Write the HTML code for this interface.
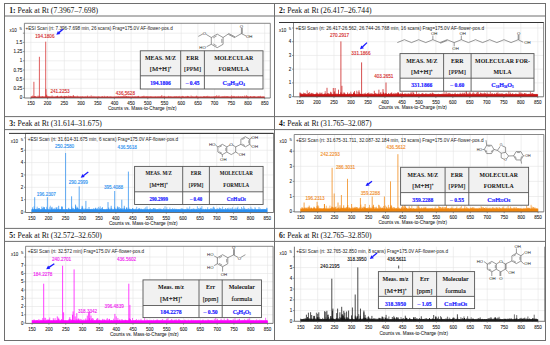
<!DOCTYPE html>
<html><head><meta charset="utf-8"><style>
html,body{margin:0;padding:0;background:#fff;}
body{width:550px;height:345px;overflow:hidden;}
svg{display:block;font-family:"Liberation Sans", sans-serif;}
</style></head><body>
<svg width="550" height="345" viewBox="0 0 550 345">
<rect width="550" height="345" fill="#fff"/>
<line x1="30.90" y1="23.30" x2="30.90" y2="98.00" stroke="#e4e4e4" stroke-width="0.6" />
<line x1="47.60" y1="23.30" x2="47.60" y2="98.00" stroke="#e4e4e4" stroke-width="0.6" />
<line x1="64.30" y1="23.30" x2="64.30" y2="98.00" stroke="#e4e4e4" stroke-width="0.6" />
<line x1="81.00" y1="23.30" x2="81.00" y2="98.00" stroke="#e4e4e4" stroke-width="0.6" />
<line x1="97.70" y1="23.30" x2="97.70" y2="98.00" stroke="#e4e4e4" stroke-width="0.6" />
<line x1="114.40" y1="23.30" x2="114.40" y2="98.00" stroke="#e4e4e4" stroke-width="0.6" />
<line x1="131.10" y1="23.30" x2="131.10" y2="98.00" stroke="#e4e4e4" stroke-width="0.6" />
<line x1="147.80" y1="23.30" x2="147.80" y2="98.00" stroke="#e4e4e4" stroke-width="0.6" />
<line x1="164.50" y1="23.30" x2="164.50" y2="98.00" stroke="#e4e4e4" stroke-width="0.6" />
<line x1="181.20" y1="23.30" x2="181.20" y2="98.00" stroke="#e4e4e4" stroke-width="0.6" />
<line x1="197.90" y1="23.30" x2="197.90" y2="98.00" stroke="#e4e4e4" stroke-width="0.6" />
<line x1="214.60" y1="23.30" x2="214.60" y2="98.00" stroke="#e4e4e4" stroke-width="0.6" />
<line x1="231.30" y1="23.30" x2="231.30" y2="98.00" stroke="#e4e4e4" stroke-width="0.6" />
<line x1="248.00" y1="23.30" x2="248.00" y2="98.00" stroke="#e4e4e4" stroke-width="0.6" />
<line x1="264.70" y1="23.30" x2="264.70" y2="98.00" stroke="#e4e4e4" stroke-width="0.6" />
<line x1="24.40" y1="88.40" x2="270.30" y2="88.40" stroke="#e4e4e4" stroke-width="0.6" />
<line x1="24.40" y1="79.20" x2="270.30" y2="79.20" stroke="#e4e4e4" stroke-width="0.6" />
<line x1="24.40" y1="70.00" x2="270.30" y2="70.00" stroke="#e4e4e4" stroke-width="0.6" />
<line x1="24.40" y1="60.80" x2="270.30" y2="60.80" stroke="#e4e4e4" stroke-width="0.6" />
<line x1="24.40" y1="51.60" x2="270.30" y2="51.60" stroke="#e4e4e4" stroke-width="0.6" />
<line x1="24.40" y1="42.40" x2="270.30" y2="42.40" stroke="#e4e4e4" stroke-width="0.6" />
<line x1="24.40" y1="33.20" x2="270.30" y2="33.20" stroke="#e4e4e4" stroke-width="0.6" />
<rect x="30.90" y="96.80" width="233.80" height="1.10" fill="#d42a2a"/>
<path d="M30.9 97.6v-0.8M31.3 97.6v-1.2M31.8 97.6v-1.0M32.2 97.6v-1.1M32.7 97.6v-2.1M33.2 97.6v-0.9M33.6 97.6v-0.8M34.1 97.6v-1.1M34.5 97.6v-1.5M35.0 97.6v-1.6M35.4 97.6v-1.5M35.9 97.6v-0.9M36.3 97.6v-0.8M36.8 97.6v-0.9M37.2 97.6v-0.9M37.7 97.6v-0.9M38.1 97.6v-2.1M38.6 97.6v-1.0M39.0 97.6v-0.9M39.5 97.6v-1.3M39.9 97.6v-0.9M40.4 97.6v-1.1M40.8 97.6v-0.9M41.3 97.6v-1.1M41.7 97.6v-1.0M42.2 97.6v-1.3M42.6 97.6v-1.4M43.1 97.6v-1.2M43.5 97.6v-0.8M44.0 97.6v-1.1M44.4 97.6v-0.9M44.9 97.6v-1.0M45.3 97.6v-1.0M45.8 97.6v-1.0M46.2 97.6v-1.1M46.7 97.6v-1.0M47.1 97.6v-0.8M47.6 97.6v-1.8M48.0 97.6v-1.0M48.5 97.6v-0.9M48.9 97.6v-1.6M49.4 97.6v-1.0M49.8 97.6v-1.0M50.3 97.6v-0.8M50.7 97.6v-1.2M51.2 97.6v-1.1M51.6 97.6v-1.0M52.1 97.6v-2.2M52.5 97.6v-1.0M53.0 97.6v-1.0M53.4 97.6v-0.9M53.9 97.6v-1.0M54.3 97.6v-1.0M54.8 97.6v-0.8M55.2 97.6v-0.8M55.7 97.6v-1.3M56.1 97.6v-1.2M56.6 97.6v-0.9M57.0 97.6v-1.1M57.5 97.6v-1.9M57.9 97.6v-0.9M58.4 97.6v-1.0M58.8 97.6v-0.8M59.3 97.6v-1.0M59.7 97.6v-0.9M60.2 97.6v-1.0M60.6 97.6v-1.5M61.1 97.6v-0.9M61.5 97.6v-0.8M62.0 97.6v-1.0M62.4 97.6v-1.0M62.9 97.6v-1.0M63.3 97.6v-1.1M63.8 97.6v-1.1M64.2 97.6v-1.0M64.7 97.6v-1.7M65.1 97.6v-1.0M65.6 97.6v-1.1M66.0 97.6v-1.0M66.5 97.6v-1.5M66.9 97.6v-1.7M67.4 97.6v-0.9M67.8 97.6v-0.9M68.3 97.6v-1.1M68.7 97.6v-2.2M69.2 97.6v-0.8M69.6 97.6v-1.6M70.1 97.6v-0.8M70.5 97.6v-1.7M71.0 97.6v-1.0M71.4 97.6v-0.9M71.9 97.6v-1.1M72.3 97.6v-0.9M72.8 97.6v-1.1M73.2 97.6v-1.0M73.7 97.6v-1.3M74.1 97.6v-0.8M74.6 97.6v-0.9M75.0 97.6v-1.2M75.5 97.6v-0.9M75.9 97.6v-1.3M76.4 97.6v-0.9M76.8 97.6v-1.1M77.3 97.6v-1.9M77.7 97.6v-1.1M78.2 97.6v-0.8M78.6 97.6v-0.9M79.1 97.6v-1.0M79.5 97.6v-0.9M80.0 97.6v-0.9M80.4 97.6v-1.0M80.9 97.6v-1.3M81.3 97.6v-1.0M81.8 97.6v-0.8M82.2 97.6v-1.3M82.7 97.6v-1.2M83.1 97.6v-1.0M83.6 97.6v-0.9M84.0 97.6v-0.9M84.5 97.6v-0.9M84.9 97.6v-1.0M85.4 97.6v-1.0M85.8 97.6v-1.2M86.3 97.6v-0.8M86.7 97.6v-0.8M87.2 97.6v-1.7M87.6 97.6v-1.9M88.1 97.6v-0.8M88.5 97.6v-0.9M89.0 97.6v-0.8M89.4 97.6v-0.9M89.9 97.6v-1.4M90.3 97.6v-0.9M90.8 97.6v-0.8M91.2 97.6v-2.3M91.7 97.6v-0.9M92.1 97.6v-0.9M92.6 97.6v-0.8M93.0 97.6v-1.7M93.5 97.6v-0.8M93.9 97.6v-1.0M94.4 97.6v-1.0M94.8 97.6v-1.1M95.3 97.6v-1.0M95.7 97.6v-0.9M96.2 97.6v-0.9M96.6 97.6v-0.9M97.1 97.6v-1.1M97.5 97.6v-0.9M98.0 97.6v-0.9M98.4 97.6v-1.3M98.9 97.6v-0.9M99.3 97.6v-1.0M99.8 97.6v-1.0M100.2 97.6v-0.8M100.7 97.6v-0.8M101.1 97.6v-0.8M101.6 97.6v-1.1M102.0 97.6v-1.2M102.5 97.6v-1.3M102.9 97.6v-1.0M103.4 97.6v-0.8M103.8 97.6v-0.8M104.3 97.6v-1.8M104.7 97.6v-0.9M105.2 97.6v-1.0M105.6 97.6v-0.9M106.1 97.6v-0.8M106.5 97.6v-0.8M107.0 97.6v-1.4M107.4 97.6v-1.4M107.9 97.6v-1.1M108.3 97.6v-0.8M108.8 97.6v-0.8M109.2 97.6v-1.1M109.7 97.6v-0.8M110.1 97.6v-1.2M110.6 97.6v-1.0M111.0 97.6v-1.0M111.5 97.6v-0.9M111.9 97.6v-0.8M112.4 97.6v-0.9M112.8 97.6v-0.8M113.3 97.6v-0.8M113.7 97.6v-0.9M114.2 97.6v-0.9M114.6 97.6v-1.0M115.1 97.6v-0.8M115.5 97.6v-1.0M116.0 97.6v-0.9M116.4 97.6v-1.1M116.9 97.6v-1.0M117.3 97.6v-0.9M117.8 97.6v-1.0M118.2 97.6v-1.4M118.7 97.6v-1.2M119.1 97.6v-1.0M119.6 97.6v-0.8M120.0 97.6v-1.3M120.5 97.6v-1.1M120.9 97.6v-0.9M121.4 97.6v-1.1M121.8 97.6v-1.3M122.3 97.6v-1.6M122.7 97.6v-0.8M123.2 97.6v-0.9M123.6 97.6v-2.2M124.1 97.6v-1.1M124.5 97.6v-1.0M125.0 97.6v-2.6M125.4 97.6v-1.2M125.9 97.6v-0.9M126.3 97.6v-1.6M126.8 97.6v-1.2M127.2 97.6v-1.1M127.7 97.6v-0.9M128.1 97.6v-1.7M128.6 97.6v-1.2M129.0 97.6v-0.8M129.5 97.6v-0.8M129.9 97.6v-1.6M130.4 97.6v-1.0M130.8 97.6v-0.8M131.3 97.6v-0.9M131.7 97.6v-0.8M132.2 97.6v-1.9M132.6 97.6v-1.0M133.1 97.6v-0.9M133.5 97.6v-1.0M134.0 97.6v-1.0M134.4 97.6v-1.1M134.9 97.6v-1.2M135.3 97.6v-1.0M135.8 97.6v-1.3M136.2 97.6v-1.0M136.7 97.6v-0.9M137.1 97.6v-1.2M137.6 97.6v-1.1M138.0 97.6v-1.6M138.5 97.6v-1.7M138.9 97.6v-1.0M139.4 97.6v-0.9M139.8 97.6v-0.9M140.3 97.6v-0.8M140.7 97.6v-0.9M141.2 97.6v-0.9M141.6 97.6v-1.1M142.1 97.6v-1.1M142.5 97.6v-1.3M143.0 97.6v-1.0M143.4 97.6v-1.2M143.9 97.6v-1.9M144.3 97.6v-1.2M144.8 97.6v-1.1M145.2 97.6v-0.9M145.7 97.6v-1.0M146.1 97.6v-1.5M146.6 97.6v-0.9M147.0 97.6v-1.3M147.5 97.6v-1.1M147.9 97.6v-1.1M148.4 97.6v-1.1M148.8 97.6v-1.1M149.3 97.6v-0.9M149.7 97.6v-1.1M150.2 97.6v-1.2M150.6 97.6v-1.2M151.1 97.6v-1.0M151.5 97.6v-0.9M151.9 97.6v-1.3M152.4 97.6v-0.8M152.8 97.6v-1.0M153.3 97.6v-0.8M153.7 97.6v-1.1M154.2 97.6v-0.9M154.6 97.6v-0.8M155.1 97.6v-1.5M155.5 97.6v-0.9M156.0 97.6v-1.0M156.4 97.6v-0.9M156.9 97.6v-0.9M157.3 97.6v-1.2M157.8 97.6v-0.9M158.2 97.6v-1.1M158.7 97.6v-1.1M159.1 97.6v-1.2M159.6 97.6v-1.0M160.0 97.6v-1.0M160.5 97.6v-1.2M160.9 97.6v-0.9M161.4 97.6v-1.6M161.8 97.6v-2.6M162.3 97.6v-1.0M162.7 97.6v-0.9M163.2 97.6v-1.2M163.6 97.6v-1.0M164.1 97.6v-1.7M164.5 97.6v-1.4M165.0 97.6v-1.0M165.4 97.6v-1.0M165.9 97.6v-0.8M166.3 97.6v-0.9M166.8 97.6v-0.9M167.2 97.6v-1.1M167.7 97.6v-0.8M168.1 97.6v-1.0M168.6 97.6v-1.7M169.0 97.6v-1.3M169.5 97.6v-0.8M169.9 97.6v-1.2M170.4 97.6v-1.0M170.8 97.6v-1.3M171.3 97.6v-1.1M171.7 97.6v-0.9M172.2 97.6v-0.9M172.6 97.6v-0.9M173.1 97.6v-1.0M173.5 97.6v-0.9M174.0 97.6v-0.9M174.4 97.6v-1.4M174.9 97.6v-0.8M175.3 97.6v-1.3M175.8 97.6v-0.9M176.2 97.6v-1.4M176.7 97.6v-1.3M177.1 97.6v-0.8M177.6 97.6v-0.8M178.0 97.6v-1.6M178.5 97.6v-0.8M178.9 97.6v-1.3M179.4 97.6v-0.8M179.8 97.6v-1.7M180.3 97.6v-0.8M180.7 97.6v-0.8M181.2 97.6v-1.1M181.6 97.6v-1.3M182.1 97.6v-0.9M182.5 97.6v-1.7M183.0 97.6v-0.9M183.4 97.6v-1.5M183.9 97.6v-0.9M184.3 97.6v-1.0M184.8 97.6v-0.8M185.2 97.6v-0.9M185.7 97.6v-1.3M186.1 97.6v-1.1M186.6 97.6v-1.1M187.0 97.6v-1.1M187.5 97.6v-1.7M187.9 97.6v-1.4M188.4 97.6v-1.4M188.8 97.6v-1.2M189.3 97.6v-0.9M189.7 97.6v-0.8M190.2 97.6v-0.9M190.6 97.6v-0.9M191.1 97.6v-2.1M191.5 97.6v-0.8M192.0 97.6v-1.4M192.4 97.6v-1.1M192.9 97.6v-0.8M193.3 97.6v-1.2M193.8 97.6v-0.9M194.2 97.6v-0.9M194.7 97.6v-0.9M195.1 97.6v-1.2M195.6 97.6v-1.0M196.0 97.6v-1.1M196.5 97.6v-1.9M196.9 97.6v-1.3M197.4 97.6v-1.0M197.8 97.6v-1.2M198.3 97.6v-0.8M198.7 97.6v-1.0M199.2 97.6v-0.9M199.6 97.6v-0.8M200.1 97.6v-1.1M200.5 97.6v-0.9M201.0 97.6v-0.9M201.4 97.6v-1.0M201.9 97.6v-0.8M202.3 97.6v-0.9M202.8 97.6v-0.8M203.2 97.6v-1.0M203.7 97.6v-1.5M204.1 97.6v-1.2M204.6 97.6v-1.4M205.0 97.6v-0.8M205.5 97.6v-1.0M205.9 97.6v-1.2M206.4 97.6v-1.1M206.8 97.6v-1.5M207.3 97.6v-0.9M207.7 97.6v-1.8M208.2 97.6v-0.8M208.6 97.6v-1.1M209.1 97.6v-1.4M209.5 97.6v-0.9M210.0 97.6v-0.8M210.4 97.6v-1.0M210.9 97.6v-0.8M211.3 97.6v-1.1M211.8 97.6v-0.8M212.2 97.6v-1.3M212.7 97.6v-0.8M213.1 97.6v-0.8M213.6 97.6v-1.3M214.0 97.6v-0.9M214.5 97.6v-1.0M214.9 97.6v-1.4M215.4 97.6v-1.1M215.8 97.6v-1.5M216.3 97.6v-1.1M216.7 97.6v-2.4M217.2 97.6v-0.9M217.6 97.6v-1.2M218.1 97.6v-1.0M218.5 97.6v-1.3M219.0 97.6v-2.3M219.4 97.6v-1.0M219.9 97.6v-0.9M220.3 97.6v-0.8M220.8 97.6v-0.9M221.2 97.6v-1.1M221.7 97.6v-1.0M222.1 97.6v-1.0M222.6 97.6v-1.0M223.0 97.6v-1.6M223.5 97.6v-1.0M223.9 97.6v-0.9M224.4 97.6v-1.0M224.8 97.6v-1.7M225.3 97.6v-1.1M225.7 97.6v-1.1M226.2 97.6v-0.9M226.6 97.6v-1.5M227.1 97.6v-1.1M227.5 97.6v-1.4M228.0 97.6v-0.9M228.4 97.6v-1.2M228.9 97.6v-1.1M229.3 97.6v-0.9M229.8 97.6v-0.8M230.2 97.6v-1.2M230.7 97.6v-0.9M231.1 97.6v-1.0M231.6 97.6v-2.3M232.0 97.6v-1.0M232.5 97.6v-1.1M232.9 97.6v-1.2M233.4 97.6v-1.1M233.8 97.6v-1.7M234.3 97.6v-0.8M234.7 97.6v-1.6M235.2 97.6v-0.8M235.6 97.6v-1.0M236.1 97.6v-0.9M236.5 97.6v-1.2M237.0 97.6v-1.0M237.4 97.6v-1.0M237.9 97.6v-0.9M238.3 97.6v-1.7M238.8 97.6v-1.0M239.2 97.6v-1.1M239.7 97.6v-0.9M240.1 97.6v-1.0M240.6 97.6v-1.3M241.0 97.6v-1.1M241.5 97.6v-0.9M241.9 97.6v-0.9M242.4 97.6v-1.4M242.8 97.6v-1.3M243.3 97.6v-0.9M243.7 97.6v-0.9M244.2 97.6v-0.9M244.6 97.6v-2.0M245.1 97.6v-1.0M245.5 97.6v-1.0M246.0 97.6v-1.2M246.4 97.6v-2.4M246.9 97.6v-1.1M247.3 97.6v-1.7M247.8 97.6v-1.0M248.2 97.6v-1.2M248.7 97.6v-0.9M249.1 97.6v-1.1M249.6 97.6v-0.8M250.0 97.6v-1.0M250.5 97.6v-1.6M250.9 97.6v-1.0M251.4 97.6v-0.9M251.8 97.6v-1.1M252.3 97.6v-0.9M252.7 97.6v-1.0M253.2 97.6v-1.0M253.6 97.6v-1.3M254.1 97.6v-1.5M254.5 97.6v-1.1M255.0 97.6v-1.2M255.4 97.6v-0.9M255.9 97.6v-0.9M256.3 97.6v-0.8M256.8 97.6v-0.8M257.2 97.6v-1.1M257.7 97.6v-1.1M258.1 97.6v-0.9M258.6 97.6v-1.3M259.0 97.6v-1.3M259.5 97.6v-1.0M259.9 97.6v-0.9M260.4 97.6v-1.8M260.8 97.6v-1.0M261.3 97.6v-0.8M261.7 97.6v-0.8M262.2 97.6v-1.2M262.6 97.6v-0.8M263.1 97.6v-1.1M263.5 97.6v-0.9M264.0 97.6v-1.0M264.4 97.6v-0.9" stroke="#d42a2a" stroke-width="0.6" fill="none"/>
<path d="M62.9 97.6V96.9M65.0 97.6V96.8M56.7 97.6V96.7M78.4 97.6V96.7M71.2 97.6V96.2M73.2 97.6V96.3M74.5 97.6V96.6M64.9 97.6V96.2M57.3 97.6V96.3M57.7 97.6V96.6M33.9 97.6V81.8M39.4 97.6V56.8M45.7 97.6V41.7M46.0 97.6V89.1M46.6 97.6V94.7M61.4 97.6V95.8M73.3 97.6V95.0M126.6 97.6V96.5" stroke="#d42a2a" stroke-width="0.75" fill="none"/>
<path d="M24.4 98.0V23.3H270.3V98.0" stroke="#6a6a6a" stroke-width="0.8" fill="none"/>
<line x1="24.40" y1="98.00" x2="270.30" y2="98.00" stroke="#555" stroke-width="0.8" />
<line x1="22.90" y1="97.60" x2="24.40" y2="97.60" stroke="#555" stroke-width="0.6" />
<text x="22.20" y="99.20" font-size="4.5" fill="#222"  text-anchor="end"   stroke="#222" stroke-width="0.08">0</text>
<line x1="22.90" y1="88.40" x2="24.40" y2="88.40" stroke="#555" stroke-width="0.6" />
<text x="22.20" y="90.00" font-size="4.5" fill="#222"  text-anchor="end"   stroke="#222" stroke-width="0.08">0.25</text>
<line x1="22.90" y1="79.20" x2="24.40" y2="79.20" stroke="#555" stroke-width="0.6" />
<text x="22.20" y="80.80" font-size="4.5" fill="#222"  text-anchor="end"   stroke="#222" stroke-width="0.08">0.5</text>
<line x1="22.90" y1="70.00" x2="24.40" y2="70.00" stroke="#555" stroke-width="0.6" />
<text x="22.20" y="71.60" font-size="4.5" fill="#222"  text-anchor="end"   stroke="#222" stroke-width="0.08">0.75</text>
<line x1="22.90" y1="60.80" x2="24.40" y2="60.80" stroke="#555" stroke-width="0.6" />
<text x="22.20" y="62.40" font-size="4.5" fill="#222"  text-anchor="end"   stroke="#222" stroke-width="0.08">1</text>
<line x1="22.90" y1="51.60" x2="24.40" y2="51.60" stroke="#555" stroke-width="0.6" />
<text x="22.20" y="53.20" font-size="4.5" fill="#222"  text-anchor="end"   stroke="#222" stroke-width="0.08">1.25</text>
<line x1="22.90" y1="42.40" x2="24.40" y2="42.40" stroke="#555" stroke-width="0.6" />
<text x="22.20" y="44.00" font-size="4.5" fill="#222"  text-anchor="end"   stroke="#222" stroke-width="0.08">1.5</text>
<line x1="22.90" y1="33.20" x2="24.40" y2="33.20" stroke="#555" stroke-width="0.6" />
<line x1="30.90" y1="98.00" x2="30.90" y2="99.30" stroke="#555" stroke-width="0.6" />
<text x="30.90" y="104.60" font-size="4.5" fill="#222"  text-anchor="middle"   stroke="#222" stroke-width="0.08">150</text>
<line x1="47.60" y1="98.00" x2="47.60" y2="99.30" stroke="#555" stroke-width="0.6" />
<text x="47.60" y="104.60" font-size="4.5" fill="#222"  text-anchor="middle"   stroke="#222" stroke-width="0.08">200</text>
<line x1="64.30" y1="98.00" x2="64.30" y2="99.30" stroke="#555" stroke-width="0.6" />
<text x="64.30" y="104.60" font-size="4.5" fill="#222"  text-anchor="middle"   stroke="#222" stroke-width="0.08">250</text>
<line x1="81.00" y1="98.00" x2="81.00" y2="99.30" stroke="#555" stroke-width="0.6" />
<text x="81.00" y="104.60" font-size="4.5" fill="#222"  text-anchor="middle"   stroke="#222" stroke-width="0.08">300</text>
<line x1="97.70" y1="98.00" x2="97.70" y2="99.30" stroke="#555" stroke-width="0.6" />
<text x="97.70" y="104.60" font-size="4.5" fill="#222"  text-anchor="middle"   stroke="#222" stroke-width="0.08">350</text>
<line x1="114.40" y1="98.00" x2="114.40" y2="99.30" stroke="#555" stroke-width="0.6" />
<text x="114.40" y="104.60" font-size="4.5" fill="#222"  text-anchor="middle"   stroke="#222" stroke-width="0.08">400</text>
<line x1="131.10" y1="98.00" x2="131.10" y2="99.30" stroke="#555" stroke-width="0.6" />
<text x="131.10" y="104.60" font-size="4.5" fill="#222"  text-anchor="middle"   stroke="#222" stroke-width="0.08">450</text>
<line x1="147.80" y1="98.00" x2="147.80" y2="99.30" stroke="#555" stroke-width="0.6" />
<text x="147.80" y="104.60" font-size="4.5" fill="#222"  text-anchor="middle"   stroke="#222" stroke-width="0.08">500</text>
<line x1="164.50" y1="98.00" x2="164.50" y2="99.30" stroke="#555" stroke-width="0.6" />
<text x="164.50" y="104.60" font-size="4.5" fill="#222"  text-anchor="middle"   stroke="#222" stroke-width="0.08">550</text>
<line x1="181.20" y1="98.00" x2="181.20" y2="99.30" stroke="#555" stroke-width="0.6" />
<text x="181.20" y="104.60" font-size="4.5" fill="#222"  text-anchor="middle"   stroke="#222" stroke-width="0.08">600</text>
<line x1="197.90" y1="98.00" x2="197.90" y2="99.30" stroke="#555" stroke-width="0.6" />
<text x="197.90" y="104.60" font-size="4.5" fill="#222"  text-anchor="middle"   stroke="#222" stroke-width="0.08">650</text>
<line x1="214.60" y1="98.00" x2="214.60" y2="99.30" stroke="#555" stroke-width="0.6" />
<text x="214.60" y="104.60" font-size="4.5" fill="#222"  text-anchor="middle"   stroke="#222" stroke-width="0.08">700</text>
<line x1="231.30" y1="98.00" x2="231.30" y2="99.30" stroke="#555" stroke-width="0.6" />
<text x="231.30" y="104.60" font-size="4.5" fill="#222"  text-anchor="middle"   stroke="#222" stroke-width="0.08">750</text>
<line x1="248.00" y1="98.00" x2="248.00" y2="99.30" stroke="#555" stroke-width="0.6" />
<text x="248.00" y="104.60" font-size="4.5" fill="#222"  text-anchor="middle"   stroke="#222" stroke-width="0.08">800</text>
<line x1="264.70" y1="98.00" x2="264.70" y2="99.30" stroke="#555" stroke-width="0.6" />
<text x="264.70" y="104.60" font-size="4.5" fill="#222"  text-anchor="middle"   stroke="#222" stroke-width="0.08">850</text>
<text x="108.00" y="109.60" font-size="4.5" fill="#1a1a1a"    textLength="68.50" lengthAdjust="spacingAndGlyphs" stroke="#1a1a1a" stroke-width="0.05">Counts vs. Mass-to-Charge (m/z)</text>
<text x="9.40" y="31.50" font-size="4.5" fill="#222"     stroke="#222" stroke-width="0.05">x10</text>
<text x="20.70" y="30.00" font-size="4.3" fill="#222"  text-anchor="middle"   stroke="#222" stroke-width="0.05">5</text>
<text x="25.60" y="30.10" font-size="4.7" fill="#1a1a1a"    textLength="147.10" lengthAdjust="spacingAndGlyphs" >+ESI Scan (rt: 7.396-7.698 min, 26 scans) Frag=175.0V AF-flower-pos.d</text>
<text x="35.30" y="37.60" font-size="4.6" fill="#d42a2a"     stroke="#d42a2a" stroke-width="0.12">194.1806</text>
<text x="50.40" y="93.40" font-size="4.6" fill="#d42a2a"     stroke="#d42a2a" stroke-width="0.12">241.2253</text>
<text x="115.80" y="95.20" font-size="4.6" fill="#d42a2a"     stroke="#d42a2a" stroke-width="0.12">436.5628</text>
<line x1="63.00" y1="29.30" x2="58.87" y2="32.63" stroke="#1a1aff" stroke-width="1.3" />
<path d="M56.30 34.70L57.91 30.96L60.30 33.92Z" fill="#1a1aff"/>
<rect x="140.3" y="50.8" width="122.70" height="25.00" fill="#f1f1f1"/>
<rect x="140.3" y="75.8" width="122.70" height="13.20" fill="#fff"/>
<rect x="140.3" y="50.8" width="122.70" height="38.20" fill="none" stroke="#555" stroke-width="0.9"/>
<line x1="140.30" y1="75.80" x2="263.00" y2="75.80" stroke="#555" stroke-width="0.9" />
<line x1="180.70" y1="50.80" x2="180.70" y2="89.00" stroke="#555" stroke-width="0.9" />
<line x1="204.40" y1="50.80" x2="204.40" y2="89.00" stroke="#555" stroke-width="0.9" />
<text x="160.50" y="60.24" font-size="6.37" fill="#111" font-family='"Liberation Serif", serif' text-anchor="middle" font-weight="bold" textLength="31.14" lengthAdjust="spacingAndGlyphs" >MEAS. M/Z</text>
<text x="160.50" y="71.34" font-size="6.37" fill="#111" font-family='"Liberation Serif", serif' text-anchor="middle"  textLength="21.70" lengthAdjust="spacingAndGlyphs" stroke="#111" stroke-width="0.15">[M+H]<tspan font-size="3" dy="-2">+</tspan></text>
<text x="192.55" y="60.24" font-size="6.37" fill="#111" font-family='"Liberation Serif", serif' text-anchor="middle" font-weight="bold" textLength="12.46" lengthAdjust="spacingAndGlyphs" >ERR</text>
<text x="192.55" y="71.34" font-size="6.37" fill="#111" font-family='"Liberation Serif", serif' text-anchor="middle"  textLength="17.00" lengthAdjust="spacingAndGlyphs" stroke="#111" stroke-width="0.15">[PPM]</text>
<text x="233.70" y="60.24" font-size="6.37" fill="#111" font-family='"Liberation Serif", serif' text-anchor="middle" font-weight="bold" textLength="39.01" lengthAdjust="spacingAndGlyphs" >MOLECULAR</text>
<text x="233.70" y="71.34" font-size="6.37" fill="#111" font-family='"Liberation Serif", serif' text-anchor="middle" font-weight="bold" textLength="30.48" lengthAdjust="spacingAndGlyphs" >FORMULA</text>
<text x="160.50" y="84.89" font-size="5.94" fill="#2222ff" font-family='"Liberation Serif", serif' text-anchor="middle" font-weight="bold" textLength="20.62" lengthAdjust="spacingAndGlyphs" stroke="#2222ff" stroke-width="0.18">194.1806</text>
<text x="192.55" y="84.89" font-size="5.94" fill="#2222ff" font-family='"Liberation Serif", serif' text-anchor="middle" font-weight="bold" textLength="13.75" lengthAdjust="spacingAndGlyphs" stroke="#2222ff" stroke-width="0.18">– 0.45</text>
<text x="233.70" y="84.89" font-size="6.49" fill="#2222ff" font-family='"Liberation Serif", serif' text-anchor="middle" font-weight="bold" textLength="22.20" lengthAdjust="spacingAndGlyphs" stroke="#2222ff" stroke-width="0.18"><tspan >C</tspan><tspan font-size="3.57" dy="0.65">10</tspan><tspan dy="-0.65">H</tspan><tspan font-size="3.57" dy="0.65">10</tspan><tspan dy="-0.65">O</tspan><tspan font-size="3.57" dy="0.65">4</tspan></text>
<line x1="300.00" y1="22.50" x2="300.00" y2="96.80" stroke="#e4e4e4" stroke-width="0.6" />
<line x1="316.99" y1="22.50" x2="316.99" y2="96.80" stroke="#e4e4e4" stroke-width="0.6" />
<line x1="333.97" y1="22.50" x2="333.97" y2="96.80" stroke="#e4e4e4" stroke-width="0.6" />
<line x1="350.96" y1="22.50" x2="350.96" y2="96.80" stroke="#e4e4e4" stroke-width="0.6" />
<line x1="367.94" y1="22.50" x2="367.94" y2="96.80" stroke="#e4e4e4" stroke-width="0.6" />
<line x1="384.93" y1="22.50" x2="384.93" y2="96.80" stroke="#e4e4e4" stroke-width="0.6" />
<line x1="401.91" y1="22.50" x2="401.91" y2="96.80" stroke="#e4e4e4" stroke-width="0.6" />
<line x1="418.90" y1="22.50" x2="418.90" y2="96.80" stroke="#e4e4e4" stroke-width="0.6" />
<line x1="435.89" y1="22.50" x2="435.89" y2="96.80" stroke="#e4e4e4" stroke-width="0.6" />
<line x1="452.87" y1="22.50" x2="452.87" y2="96.80" stroke="#e4e4e4" stroke-width="0.6" />
<line x1="469.86" y1="22.50" x2="469.86" y2="96.80" stroke="#e4e4e4" stroke-width="0.6" />
<line x1="486.84" y1="22.50" x2="486.84" y2="96.80" stroke="#e4e4e4" stroke-width="0.6" />
<line x1="503.83" y1="22.50" x2="503.83" y2="96.80" stroke="#e4e4e4" stroke-width="0.6" />
<line x1="520.81" y1="22.50" x2="520.81" y2="96.80" stroke="#e4e4e4" stroke-width="0.6" />
<line x1="537.80" y1="22.50" x2="537.80" y2="96.80" stroke="#e4e4e4" stroke-width="0.6" />
<line x1="293.50" y1="82.88" x2="543.60" y2="82.88" stroke="#e4e4e4" stroke-width="0.6" />
<line x1="293.50" y1="69.16" x2="543.60" y2="69.16" stroke="#e4e4e4" stroke-width="0.6" />
<line x1="293.50" y1="55.44" x2="543.60" y2="55.44" stroke="#e4e4e4" stroke-width="0.6" />
<line x1="293.50" y1="41.72" x2="543.60" y2="41.72" stroke="#e4e4e4" stroke-width="0.6" />
<line x1="293.50" y1="28.00" x2="543.60" y2="28.00" stroke="#e4e4e4" stroke-width="0.6" />
<rect x="300.00" y="94.40" width="237.80" height="2.50" fill="#c81414"/>
<path d="M300.0 96.6v-4.1M300.4 96.6v-2.2M300.9 96.6v-3.3M301.3 96.6v-2.9M301.8 96.6v-2.8M302.2 96.6v-2.7M302.7 96.6v-2.5M303.1 96.6v-3.0M303.6 96.6v-4.0M304.0 96.6v-2.6M304.5 96.6v-3.6M304.9 96.6v-2.4M305.4 96.6v-3.5M305.8 96.6v-2.7M306.3 96.6v-2.2M306.7 96.6v-2.3M307.2 96.6v-6.2M307.6 96.6v-2.3M308.1 96.6v-3.2M308.5 96.6v-3.6M309.0 96.6v-3.1M309.4 96.6v-4.6M309.9 96.6v-2.3M310.3 96.6v-3.0M310.8 96.6v-2.7M311.2 96.6v-3.8M311.7 96.6v-3.3M312.1 96.6v-3.5M312.6 96.6v-2.6M313.0 96.6v-3.7M313.5 96.6v-2.6M313.9 96.6v-2.4M314.4 96.6v-2.3M314.8 96.6v-2.4M315.3 96.6v-2.4M315.7 96.6v-2.9M316.2 96.6v-2.6M316.6 96.6v-2.7M317.1 96.6v-2.3M317.5 96.6v-3.8M318.0 96.6v-2.2M318.4 96.6v-3.0M318.9 96.6v-2.3M319.3 96.6v-2.2M319.8 96.6v-2.4M320.2 96.6v-3.5M320.7 96.6v-2.6M321.1 96.6v-2.4M321.6 96.6v-3.5M322.0 96.6v-4.1M322.5 96.6v-2.3M322.9 96.6v-2.3M323.4 96.6v-2.2M323.8 96.6v-2.2M324.3 96.6v-3.2M324.7 96.6v-2.3M325.2 96.6v-5.5M325.6 96.6v-3.3M326.1 96.6v-2.8M326.5 96.6v-2.3M327.0 96.6v-2.2M327.4 96.6v-3.1M327.9 96.6v-3.6M328.3 96.6v-3.4M328.8 96.6v-2.6M329.2 96.6v-2.8M329.7 96.6v-2.3M330.1 96.6v-3.4M330.6 96.6v-2.7M331.0 96.6v-2.6M331.5 96.6v-4.1M331.9 96.6v-2.8M332.4 96.6v-2.2M332.8 96.6v-2.4M333.3 96.6v-2.3M333.7 96.6v-2.8M334.2 96.6v-4.7M334.6 96.6v-5.3M335.1 96.6v-2.6M335.5 96.6v-2.7M336.0 96.6v-3.2M336.4 96.6v-2.4M336.9 96.6v-2.8M337.3 96.6v-2.5M337.8 96.6v-3.0M338.2 96.6v-2.3M338.7 96.6v-2.4M339.1 96.6v-2.6M339.6 96.6v-2.4M340.0 96.6v-2.3M340.5 96.6v-4.2M340.9 96.6v-2.5M341.4 96.6v-4.0M341.8 96.6v-2.6M342.3 96.6v-2.3M342.7 96.6v-2.5M343.2 96.6v-3.7M343.6 96.6v-2.4M344.1 96.6v-4.5M344.5 96.6v-2.3M345.0 96.6v-3.3M345.4 96.6v-2.2M345.9 96.6v-2.5M346.3 96.6v-2.3M346.8 96.6v-2.2M347.2 96.6v-2.5M347.7 96.6v-2.2M348.1 96.6v-2.3M348.6 96.6v-2.5M349.0 96.6v-3.0M349.5 96.6v-2.3M349.9 96.6v-2.3M350.4 96.6v-2.8M350.8 96.6v-4.9M351.3 96.6v-3.1M351.7 96.6v-2.6M352.2 96.6v-2.6M352.6 96.6v-2.4M353.1 96.6v-2.6M353.5 96.6v-3.2M354.0 96.6v-3.3M354.4 96.6v-2.4M354.9 96.6v-2.4M355.3 96.6v-2.9M355.8 96.6v-2.7M356.2 96.6v-2.3M356.7 96.6v-5.9M357.1 96.6v-2.5M357.6 96.6v-2.3M358.0 96.6v-4.9M358.5 96.6v-2.3M358.9 96.6v-2.4M359.4 96.6v-2.9M359.8 96.6v-2.6M360.3 96.6v-2.7M360.7 96.6v-3.0M361.2 96.6v-2.6M361.6 96.6v-2.4M362.1 96.6v-2.6M362.5 96.6v-2.5M363.0 96.6v-3.1M363.4 96.6v-2.3M363.9 96.6v-2.2M364.3 96.6v-3.5M364.8 96.6v-2.6M365.2 96.6v-2.5M365.7 96.6v-3.9M366.1 96.6v-2.6M366.6 96.6v-2.4M367.0 96.6v-2.8M367.5 96.6v-3.3M367.9 96.6v-2.8M368.4 96.6v-2.9M368.8 96.6v-4.2M369.3 96.6v-2.9M369.7 96.6v-2.8M370.2 96.6v-2.2M370.6 96.6v-3.0M371.1 96.6v-3.6M371.5 96.6v-2.3M372.0 96.6v-3.1M372.4 96.6v-3.0M372.9 96.6v-2.3M373.3 96.6v-2.3M373.8 96.6v-2.5M374.2 96.6v-2.7M374.7 96.6v-2.3M375.1 96.6v-3.7M375.6 96.6v-3.3M376.0 96.6v-3.0M376.5 96.6v-2.9M376.9 96.6v-2.4M377.4 96.6v-2.2M377.8 96.6v-3.0M378.3 96.6v-3.0M378.7 96.6v-2.5M379.2 96.6v-3.1M379.6 96.6v-2.3M380.1 96.6v-2.5M380.5 96.6v-4.1M381.0 96.6v-4.2M381.4 96.6v-2.7M381.9 96.6v-2.6M382.3 96.6v-2.4M382.8 96.6v-2.6M383.2 96.6v-3.7M383.7 96.6v-3.2M384.1 96.6v-2.8M384.6 96.6v-2.8M385.0 96.6v-3.3M385.5 96.6v-2.8M385.9 96.6v-2.7M386.4 96.6v-3.2M386.8 96.6v-2.4M387.3 96.6v-2.6M387.7 96.6v-2.4M388.2 96.6v-2.3M388.6 96.6v-2.5M389.1 96.6v-2.4M389.5 96.6v-2.6M390.0 96.6v-2.6M390.4 96.6v-3.5M390.9 96.6v-2.6M391.3 96.6v-3.8M391.8 96.6v-2.3M392.2 96.6v-2.3M392.7 96.6v-2.5M393.1 96.6v-3.2M393.6 96.6v-3.2M394.0 96.6v-2.5M394.5 96.6v-2.5M394.9 96.6v-3.8M395.4 96.6v-2.9M395.8 96.6v-3.0M396.3 96.6v-3.4M396.7 96.6v-3.0M397.2 96.6v-2.4M397.6 96.6v-2.9M398.1 96.6v-2.5M398.5 96.6v-4.1M399.0 96.6v-2.6M399.4 96.6v-2.3M399.9 96.6v-3.3M400.3 96.6v-2.5M400.8 96.6v-3.5M401.2 96.6v-2.5M401.7 96.6v-2.4M402.1 96.6v-2.5M402.6 96.6v-2.8M403.0 96.6v-2.4M403.5 96.6v-2.3M403.9 96.6v-2.3M404.4 96.6v-2.5M404.8 96.6v-2.5M405.3 96.6v-2.4M405.7 96.6v-2.4M406.2 96.6v-3.1M406.6 96.6v-2.3M407.1 96.6v-2.5M407.5 96.6v-2.3M408.0 96.6v-3.3M408.4 96.6v-3.1M408.9 96.6v-2.5M409.3 96.6v-2.5M409.8 96.6v-2.8M410.2 96.6v-3.3M410.7 96.6v-2.7M411.1 96.6v-4.7M411.6 96.6v-3.3M412.0 96.6v-2.5M412.5 96.6v-2.2M412.9 96.6v-5.4M413.4 96.6v-3.9M413.8 96.6v-3.7M414.3 96.6v-2.4M414.7 96.6v-2.2M415.2 96.6v-2.5M415.6 96.6v-2.3M416.1 96.6v-2.3M416.5 96.6v-5.5M417.0 96.6v-2.4M417.4 96.6v-2.7M417.9 96.6v-2.6M418.3 96.6v-2.3M418.8 96.6v-3.2M419.2 96.6v-2.9M419.7 96.6v-2.3M420.1 96.6v-2.3M420.6 96.6v-2.3M421.0 96.6v-2.2M421.5 96.6v-2.5M421.9 96.6v-3.4M422.4 96.6v-3.0M422.8 96.6v-3.7M423.3 96.6v-2.3M423.7 96.6v-2.8M424.2 96.6v-2.5M424.6 96.6v-2.5M425.1 96.6v-2.5M425.5 96.6v-3.2M426.0 96.6v-2.6M426.4 96.6v-3.1M426.9 96.6v-2.4M427.3 96.6v-2.9M427.8 96.6v-2.2M428.2 96.6v-2.3M428.7 96.6v-2.7M429.1 96.6v-2.8M429.6 96.6v-2.9M430.0 96.6v-2.2M430.5 96.6v-3.2M430.9 96.6v-3.3M431.4 96.6v-2.3M431.8 96.6v-2.7M432.3 96.6v-4.1M432.7 96.6v-3.6M433.2 96.6v-2.4M433.6 96.6v-3.2M434.1 96.6v-2.4M434.5 96.6v-2.7M435.0 96.6v-2.5M435.4 96.6v-2.6M435.9 96.6v-2.3M436.3 96.6v-2.4M436.8 96.6v-2.3M437.2 96.6v-2.7M437.7 96.6v-2.6M438.1 96.6v-2.3M438.6 96.6v-2.9M439.0 96.6v-2.6M439.5 96.6v-2.5M439.9 96.6v-2.4M440.4 96.6v-2.6M440.8 96.6v-2.6M441.3 96.6v-2.4M441.7 96.6v-2.8M442.2 96.6v-2.4M442.6 96.6v-2.8M443.1 96.6v-2.9M443.5 96.6v-2.3M444.0 96.6v-5.0M444.4 96.6v-2.3M444.9 96.6v-2.4M445.3 96.6v-3.0M445.8 96.6v-2.5M446.2 96.6v-5.0M446.7 96.6v-2.3M447.1 96.6v-2.8M447.6 96.6v-2.2M448.0 96.6v-3.7M448.5 96.6v-2.6M448.9 96.6v-3.7M449.4 96.6v-2.4M449.8 96.6v-3.8M450.3 96.6v-2.9M450.7 96.6v-2.7M451.2 96.6v-2.6M451.6 96.6v-2.3M452.1 96.6v-2.9M452.5 96.6v-2.8M453.0 96.6v-2.5M453.4 96.6v-2.5M453.9 96.6v-2.5M454.3 96.6v-2.4M454.8 96.6v-3.2M455.2 96.6v-3.9M455.7 96.6v-2.2M456.1 96.6v-2.5M456.6 96.6v-2.3M457.0 96.6v-2.6M457.5 96.6v-2.7M457.9 96.6v-3.0M458.4 96.6v-2.2M458.8 96.6v-2.3M459.3 96.6v-2.4M459.7 96.6v-2.8M460.2 96.6v-3.9M460.6 96.6v-2.7M461.1 96.6v-2.9M461.5 96.6v-2.3M462.0 96.6v-2.8M462.4 96.6v-3.9M462.9 96.6v-2.4M463.3 96.6v-2.8M463.8 96.6v-3.1M464.2 96.6v-4.0M464.7 96.6v-3.2M465.1 96.6v-2.6M465.6 96.6v-2.2M466.0 96.6v-5.3M466.5 96.6v-6.5M466.9 96.6v-3.4M467.4 96.6v-2.7M467.8 96.6v-2.5M468.3 96.6v-3.1M468.7 96.6v-2.2M469.2 96.6v-4.2M469.6 96.6v-2.9M470.1 96.6v-4.4M470.5 96.6v-3.1M471.0 96.6v-2.5M471.4 96.6v-2.3M471.9 96.6v-2.2M472.3 96.6v-3.5M472.8 96.6v-2.6M473.2 96.6v-4.4M473.7 96.6v-2.7M474.1 96.6v-3.7M474.6 96.6v-2.5M475.0 96.6v-2.5M475.5 96.6v-2.7M475.9 96.6v-2.5M476.4 96.6v-4.0M476.8 96.6v-2.8M477.3 96.6v-2.7M477.7 96.6v-4.6M478.2 96.6v-4.5M478.6 96.6v-2.7M479.1 96.6v-2.6M479.5 96.6v-2.5M480.0 96.6v-2.3M480.4 96.6v-4.0M480.9 96.6v-3.7M481.3 96.6v-3.3M481.8 96.6v-2.7M482.2 96.6v-2.9M482.7 96.6v-2.9M483.1 96.6v-3.3M483.6 96.6v-2.9M484.0 96.6v-2.7M484.5 96.6v-4.0M484.9 96.6v-2.5M485.4 96.6v-3.6M485.8 96.6v-2.8M486.3 96.6v-2.3M486.7 96.6v-2.8M487.2 96.6v-4.2M487.6 96.6v-2.5M488.1 96.6v-3.1M488.5 96.6v-2.5M489.0 96.6v-2.5M489.4 96.6v-2.9M489.9 96.6v-2.5M490.3 96.6v-4.9M490.8 96.6v-2.5M491.2 96.6v-2.7M491.7 96.6v-2.8M492.1 96.6v-3.6M492.6 96.6v-2.9M493.0 96.6v-2.2M493.5 96.6v-2.3M493.9 96.6v-2.5M494.4 96.6v-3.0M494.8 96.6v-3.3M495.3 96.6v-2.3M495.7 96.6v-2.5M496.2 96.6v-2.6M496.6 96.6v-3.7M497.1 96.6v-3.9M497.5 96.6v-2.6M498.0 96.6v-4.3M498.4 96.6v-2.8M498.9 96.6v-2.4M499.3 96.6v-2.3M499.8 96.6v-3.3M500.2 96.6v-3.0M500.7 96.6v-2.4M501.1 96.6v-2.7M501.6 96.6v-3.3M502.0 96.6v-2.3M502.5 96.6v-3.2M502.9 96.6v-2.4M503.4 96.6v-2.4M503.8 96.6v-2.7M504.3 96.6v-2.3M504.7 96.6v-2.6M505.2 96.6v-2.3M505.6 96.6v-2.9M506.1 96.6v-3.3M506.5 96.6v-3.1M507.0 96.6v-2.3M507.4 96.6v-2.2M507.9 96.6v-3.1M508.3 96.6v-2.3M508.8 96.6v-5.9M509.2 96.6v-2.4M509.7 96.6v-2.6M510.1 96.6v-4.1M510.6 96.6v-3.2M511.0 96.6v-2.6M511.5 96.6v-2.2M511.9 96.6v-2.6M512.4 96.6v-3.2M512.8 96.6v-3.2M513.3 96.6v-2.2M513.7 96.6v-2.3M514.2 96.6v-2.3M514.6 96.6v-2.6M515.1 96.6v-2.2M515.5 96.6v-3.1M516.0 96.6v-2.4M516.4 96.6v-2.8M516.9 96.6v-2.8M517.3 96.6v-2.3M517.8 96.6v-2.2M518.2 96.6v-2.3M518.7 96.6v-2.6M519.1 96.6v-4.4M519.6 96.6v-2.8M520.0 96.6v-4.1M520.5 96.6v-2.3M520.9 96.6v-4.1M521.4 96.6v-3.0M521.8 96.6v-3.0M522.3 96.6v-3.0M522.7 96.6v-2.9M523.2 96.6v-2.4M523.6 96.6v-2.8M524.1 96.6v-2.3M524.5 96.6v-3.6M525.0 96.6v-3.3M525.4 96.6v-2.4M525.9 96.6v-3.5M526.3 96.6v-2.3M526.8 96.6v-2.7M527.2 96.6v-2.4M527.7 96.6v-2.3M528.1 96.6v-2.5M528.6 96.6v-2.8M529.0 96.6v-2.4M529.5 96.6v-2.8M529.9 96.6v-2.3M530.4 96.6v-4.9M530.8 96.6v-2.5M531.3 96.6v-3.1M531.7 96.6v-2.4M532.2 96.6v-3.6M532.6 96.6v-3.3M533.1 96.6v-2.3M533.5 96.6v-2.8M534.0 96.6v-2.7M534.4 96.6v-2.6M534.9 96.6v-2.6M535.3 96.6v-2.3M535.8 96.6v-2.5M536.2 96.6v-2.7M536.7 96.6v-2.4M537.1 96.6v-2.4M537.6 96.6v-2.3" stroke="#c81414" stroke-width="0.6" fill="none"/>
<path d="M398.2 96.6V92.7M318.1 96.6V95.2M311.0 96.6V94.8M344.9 96.6V95.4M344.5 96.6V93.3M387.8 96.6V95.1M300.2 96.6V92.8M340.0 96.6V94.8M316.3 96.6V94.9M328.0 96.6V94.9M324.5 96.6V94.1M385.6 96.6V94.8M343.8 96.6V94.2M388.7 96.6V93.0M403.8 96.6V95.1M384.8 96.6V94.8M360.7 96.6V94.0M360.5 96.6V94.7M307.6 96.6V95.4M397.7 96.6V92.4M348.4 96.6V95.3M388.3 96.6V94.1M349.5 96.6V93.6M316.6 96.6V95.0M385.8 96.6V93.1M403.6 96.6V94.4M402.3 96.6V92.4M353.5 96.6V92.4M317.1 96.6V95.3M385.7 96.6V95.2M354.3 96.6V93.1M371.5 96.6V95.0M382.9 96.6V95.4M359.2 96.6V92.3M357.5 96.6V94.8M405.0 96.6V93.2M383.4 96.6V92.3M398.5 96.6V93.8M386.8 96.6V94.1M326.9 96.6V94.9M440.0 96.6V96.0M487.4 96.6V95.5M525.9 96.6V96.0M509.1 96.6V95.8M448.2 96.6V95.7M532.1 96.6V95.0M467.2 96.6V95.8M411.6 96.6V95.6M534.4 96.6V95.4M494.8 96.6V94.5M411.6 96.6V95.6M460.7 96.6V95.8M456.1 96.6V94.9M423.2 96.6V94.9M444.6 96.6V95.0M428.3 96.6V94.7M460.9 96.6V94.6M533.5 96.6V95.2M408.1 96.6V95.6M534.6 96.6V95.0M505.8 96.6V95.4M529.9 96.6V94.4M486.5 96.6V95.1M419.0 96.6V96.0M432.5 96.6V94.8M517.6 96.6V94.7M522.8 96.6V96.0M409.1 96.6V95.7M407.7 96.6V95.2M528.5 96.6V94.4M340.9 96.6V41.4M361.6 96.6V62.4M386.0 96.6V82.5M327.0 96.6V87.8M333.3 96.6V88.0M335.1 96.6V88.0M338.5 96.6V89.7M341.9 96.6V85.8M354.5 96.6V91.1M359.0 96.6V90.3M374.3 96.6V90.8M378.9 96.6V89.7M383.0 96.6V89.1M319.9 96.6V92.5M316.7 96.6V92.5M330.6 96.6V91.8M347.6 96.6V92.5M367.9 96.6V93.2M391.7 96.6V92.5M401.9 96.6V93.9" stroke="#c81414" stroke-width="0.75" fill="none"/>
<path d="M293.5 96.8V22.5H543.6V96.8" stroke="#6a6a6a" stroke-width="0.8" fill="none"/>
<line x1="279.00" y1="22.50" x2="543.60" y2="22.50" stroke="#333" stroke-width="1" />
<line x1="293.50" y1="96.80" x2="543.60" y2="96.80" stroke="#555" stroke-width="0.8" />
<line x1="292.00" y1="96.60" x2="293.50" y2="96.60" stroke="#555" stroke-width="0.6" />
<text x="291.30" y="98.20" font-size="4.5" fill="#222"  text-anchor="end"   stroke="#222" stroke-width="0.08">0</text>
<line x1="292.00" y1="82.88" x2="293.50" y2="82.88" stroke="#555" stroke-width="0.6" />
<text x="291.30" y="84.48" font-size="4.5" fill="#222"  text-anchor="end"   stroke="#222" stroke-width="0.08">1</text>
<line x1="292.00" y1="69.16" x2="293.50" y2="69.16" stroke="#555" stroke-width="0.6" />
<text x="291.30" y="70.76" font-size="4.5" fill="#222"  text-anchor="end"   stroke="#222" stroke-width="0.08">2</text>
<line x1="292.00" y1="55.44" x2="293.50" y2="55.44" stroke="#555" stroke-width="0.6" />
<text x="291.30" y="57.04" font-size="4.5" fill="#222"  text-anchor="end"   stroke="#222" stroke-width="0.08">3</text>
<line x1="292.00" y1="41.72" x2="293.50" y2="41.72" stroke="#555" stroke-width="0.6" />
<text x="291.30" y="43.32" font-size="4.5" fill="#222"  text-anchor="end"   stroke="#222" stroke-width="0.08">4</text>
<line x1="292.00" y1="28.00" x2="293.50" y2="28.00" stroke="#555" stroke-width="0.6" />
<line x1="300.00" y1="96.80" x2="300.00" y2="98.10" stroke="#555" stroke-width="0.6" />
<text x="300.00" y="104.20" font-size="4.5" fill="#222"  text-anchor="middle"   stroke="#222" stroke-width="0.08">150</text>
<line x1="316.99" y1="96.80" x2="316.99" y2="98.10" stroke="#555" stroke-width="0.6" />
<text x="316.99" y="104.20" font-size="4.5" fill="#222"  text-anchor="middle"   stroke="#222" stroke-width="0.08">200</text>
<line x1="333.97" y1="96.80" x2="333.97" y2="98.10" stroke="#555" stroke-width="0.6" />
<text x="333.97" y="104.20" font-size="4.5" fill="#222"  text-anchor="middle"   stroke="#222" stroke-width="0.08">250</text>
<line x1="350.96" y1="96.80" x2="350.96" y2="98.10" stroke="#555" stroke-width="0.6" />
<text x="350.96" y="104.20" font-size="4.5" fill="#222"  text-anchor="middle"   stroke="#222" stroke-width="0.08">300</text>
<line x1="367.94" y1="96.80" x2="367.94" y2="98.10" stroke="#555" stroke-width="0.6" />
<text x="367.94" y="104.20" font-size="4.5" fill="#222"  text-anchor="middle"   stroke="#222" stroke-width="0.08">350</text>
<line x1="384.93" y1="96.80" x2="384.93" y2="98.10" stroke="#555" stroke-width="0.6" />
<text x="384.93" y="104.20" font-size="4.5" fill="#222"  text-anchor="middle"   stroke="#222" stroke-width="0.08">400</text>
<line x1="401.91" y1="96.80" x2="401.91" y2="98.10" stroke="#555" stroke-width="0.6" />
<text x="401.91" y="104.20" font-size="4.5" fill="#222"  text-anchor="middle"   stroke="#222" stroke-width="0.08">450</text>
<line x1="418.90" y1="96.80" x2="418.90" y2="98.10" stroke="#555" stroke-width="0.6" />
<text x="418.90" y="104.20" font-size="4.5" fill="#222"  text-anchor="middle"   stroke="#222" stroke-width="0.08">500</text>
<line x1="435.89" y1="96.80" x2="435.89" y2="98.10" stroke="#555" stroke-width="0.6" />
<text x="435.89" y="104.20" font-size="4.5" fill="#222"  text-anchor="middle"   stroke="#222" stroke-width="0.08">550</text>
<line x1="452.87" y1="96.80" x2="452.87" y2="98.10" stroke="#555" stroke-width="0.6" />
<text x="452.87" y="104.20" font-size="4.5" fill="#222"  text-anchor="middle"   stroke="#222" stroke-width="0.08">600</text>
<line x1="469.86" y1="96.80" x2="469.86" y2="98.10" stroke="#555" stroke-width="0.6" />
<text x="469.86" y="104.20" font-size="4.5" fill="#222"  text-anchor="middle"   stroke="#222" stroke-width="0.08">650</text>
<line x1="486.84" y1="96.80" x2="486.84" y2="98.10" stroke="#555" stroke-width="0.6" />
<text x="486.84" y="104.20" font-size="4.5" fill="#222"  text-anchor="middle"   stroke="#222" stroke-width="0.08">700</text>
<line x1="503.83" y1="96.80" x2="503.83" y2="98.10" stroke="#555" stroke-width="0.6" />
<text x="503.83" y="104.20" font-size="4.5" fill="#222"  text-anchor="middle"   stroke="#222" stroke-width="0.08">750</text>
<line x1="520.81" y1="96.80" x2="520.81" y2="98.10" stroke="#555" stroke-width="0.6" />
<text x="520.81" y="104.20" font-size="4.5" fill="#222"  text-anchor="middle"   stroke="#222" stroke-width="0.08">800</text>
<line x1="537.80" y1="96.80" x2="537.80" y2="98.10" stroke="#555" stroke-width="0.6" />
<text x="537.80" y="104.20" font-size="4.5" fill="#222"  text-anchor="middle"   stroke="#222" stroke-width="0.08">850</text>
<text x="378.40" y="109.30" font-size="4.5" fill="#1a1a1a"    textLength="68.50" lengthAdjust="spacingAndGlyphs" stroke="#1a1a1a" stroke-width="0.05">Counts vs. Mass-to-Charge (m/z)</text>
<text x="279.00" y="31.50" font-size="4.5" fill="#222"     stroke="#222" stroke-width="0.05">x10</text>
<text x="290.00" y="29.90" font-size="4.3" fill="#222"  text-anchor="middle"   stroke="#222" stroke-width="0.05">5</text>
<text x="295.50" y="30.10" font-size="4.7" fill="#1a1a1a"    textLength="188.50" lengthAdjust="spacingAndGlyphs" >+ESI Scan (rt: 26.417-26.562, 26.744-26.768 min, 16 scans) Frag=175.0V AF-flower-pos.d</text>
<text x="330.00" y="36.70" font-size="4.6" fill="#d42a2a"     stroke="#d42a2a" stroke-width="0.12">270.2917</text>
<text x="351.30" y="54.90" font-size="4.6" fill="#d42a2a"     stroke="#d42a2a" stroke-width="0.12">331.1866</text>
<text x="374.20" y="77.90" font-size="4.6" fill="#d42a2a"     stroke="#d42a2a" stroke-width="0.12">403.2651</text>
<line x1="367.00" y1="42.60" x2="362.38" y2="47.02" stroke="#1a1aff" stroke-width="1.3" />
<path d="M360.00 49.30L361.29 45.44L363.91 48.18Z" fill="#1a1aff"/>
<rect x="400" y="53.6" width="134.00" height="24.60" fill="#f1f1f1"/>
<rect x="400" y="78.2" width="134.00" height="13.00" fill="#fff"/>
<rect x="400" y="53.6" width="134.00" height="37.60" fill="none" stroke="#555" stroke-width="0.9"/>
<line x1="400.00" y1="78.20" x2="534.00" y2="78.20" stroke="#555" stroke-width="0.9" />
<line x1="443.60" y1="53.60" x2="443.60" y2="91.20" stroke="#555" stroke-width="0.9" />
<line x1="471.10" y1="53.60" x2="471.10" y2="91.20" stroke="#555" stroke-width="0.9" />
<text x="421.80" y="62.54" font-size="6.37" fill="#111" font-family='"Liberation Serif", serif' text-anchor="middle" font-weight="bold" textLength="31.14" lengthAdjust="spacingAndGlyphs" >MEAS. M/Z</text>
<text x="421.80" y="73.64" font-size="6.37" fill="#111" font-family='"Liberation Serif", serif' text-anchor="middle"  textLength="21.70" lengthAdjust="spacingAndGlyphs" stroke="#111" stroke-width="0.15">[M+H]<tspan font-size="3" dy="-2">+</tspan></text>
<text x="457.35" y="62.54" font-size="6.37" fill="#111" font-family='"Liberation Serif", serif' text-anchor="middle" font-weight="bold" textLength="12.46" lengthAdjust="spacingAndGlyphs" >ERR</text>
<text x="457.35" y="73.64" font-size="6.37" fill="#111" font-family='"Liberation Serif", serif' text-anchor="middle"  textLength="17.00" lengthAdjust="spacingAndGlyphs" stroke="#111" stroke-width="0.15">[PPM]</text>
<text x="502.55" y="62.54" font-size="6.37" fill="#111" font-family='"Liberation Serif", serif' text-anchor="middle" font-weight="bold" textLength="54.90" lengthAdjust="spacingAndGlyphs" >MOLECULAR FOR-</text>
<text x="502.55" y="73.64" font-size="6.37" fill="#111" font-family='"Liberation Serif", serif' text-anchor="middle" font-weight="bold" textLength="18.03" lengthAdjust="spacingAndGlyphs" >MULA</text>
<text x="421.80" y="87.23" font-size="6.05" fill="#2222ff" font-family='"Liberation Serif", serif' text-anchor="middle" font-weight="bold" textLength="21.00" lengthAdjust="spacingAndGlyphs" stroke="#2222ff" stroke-width="0.18">331.1866</text>
<text x="457.35" y="87.23" font-size="6.05" fill="#2222ff" font-family='"Liberation Serif", serif' text-anchor="middle" font-weight="bold" textLength="14.00" lengthAdjust="spacingAndGlyphs" stroke="#2222ff" stroke-width="0.18">– 0.60</text>
<text x="502.55" y="87.23" font-size="6.61" fill="#2222ff" font-family='"Liberation Serif", serif' text-anchor="middle" font-weight="bold" textLength="22.40" lengthAdjust="spacingAndGlyphs" stroke="#2222ff" stroke-width="0.18"><tspan >C</tspan><tspan font-size="3.63" dy="0.66">18</tspan><tspan dy="-0.66">H</tspan><tspan font-size="3.63" dy="0.66">34</tspan><tspan dy="-0.66">O</tspan><tspan font-size="3.63" dy="0.66">5</tspan></text>
<line x1="31.80" y1="133.40" x2="31.80" y2="212.50" stroke="#e4e4e4" stroke-width="0.6" />
<line x1="48.61" y1="133.40" x2="48.61" y2="212.50" stroke="#e4e4e4" stroke-width="0.6" />
<line x1="65.43" y1="133.40" x2="65.43" y2="212.50" stroke="#e4e4e4" stroke-width="0.6" />
<line x1="82.24" y1="133.40" x2="82.24" y2="212.50" stroke="#e4e4e4" stroke-width="0.6" />
<line x1="99.06" y1="133.40" x2="99.06" y2="212.50" stroke="#e4e4e4" stroke-width="0.6" />
<line x1="115.87" y1="133.40" x2="115.87" y2="212.50" stroke="#e4e4e4" stroke-width="0.6" />
<line x1="132.69" y1="133.40" x2="132.69" y2="212.50" stroke="#e4e4e4" stroke-width="0.6" />
<line x1="149.50" y1="133.40" x2="149.50" y2="212.50" stroke="#e4e4e4" stroke-width="0.6" />
<line x1="166.31" y1="133.40" x2="166.31" y2="212.50" stroke="#e4e4e4" stroke-width="0.6" />
<line x1="183.13" y1="133.40" x2="183.13" y2="212.50" stroke="#e4e4e4" stroke-width="0.6" />
<line x1="199.94" y1="133.40" x2="199.94" y2="212.50" stroke="#e4e4e4" stroke-width="0.6" />
<line x1="216.76" y1="133.40" x2="216.76" y2="212.50" stroke="#e4e4e4" stroke-width="0.6" />
<line x1="233.57" y1="133.40" x2="233.57" y2="212.50" stroke="#e4e4e4" stroke-width="0.6" />
<line x1="250.39" y1="133.40" x2="250.39" y2="212.50" stroke="#e4e4e4" stroke-width="0.6" />
<line x1="267.20" y1="133.40" x2="267.20" y2="212.50" stroke="#e4e4e4" stroke-width="0.6" />
<line x1="25.50" y1="199.65" x2="273.50" y2="199.65" stroke="#e4e4e4" stroke-width="0.6" />
<line x1="25.50" y1="187.30" x2="273.50" y2="187.30" stroke="#e4e4e4" stroke-width="0.6" />
<line x1="25.50" y1="174.95" x2="273.50" y2="174.95" stroke="#e4e4e4" stroke-width="0.6" />
<line x1="25.50" y1="162.60" x2="273.50" y2="162.60" stroke="#e4e4e4" stroke-width="0.6" />
<line x1="25.50" y1="150.25" x2="273.50" y2="150.25" stroke="#e4e4e4" stroke-width="0.6" />
<line x1="25.50" y1="137.90" x2="273.50" y2="137.90" stroke="#e4e4e4" stroke-width="0.6" />
<rect x="31.80" y="209.60" width="235.40" height="2.70" fill="#2a8ff0"/>
<path d="M31.8 212.0v-2.6M32.2 212.0v-2.7M32.7 212.0v-3.0M33.2 212.0v-2.4M33.6 212.0v-2.6M34.1 212.0v-5.7M34.5 212.0v-3.5M35.0 212.0v-3.0M35.4 212.0v-3.0M35.9 212.0v-2.8M36.3 212.0v-3.1M36.8 212.0v-3.3M37.2 212.0v-5.3M37.7 212.0v-2.8M38.1 212.0v-3.7M38.6 212.0v-3.9M39.0 212.0v-3.4M39.5 212.0v-4.0M39.9 212.0v-2.5M40.4 212.0v-2.5M40.8 212.0v-2.7M41.3 212.0v-2.6M41.7 212.0v-2.7M42.2 212.0v-2.9M42.6 212.0v-3.8M43.1 212.0v-4.0M43.5 212.0v-5.2M44.0 212.0v-2.5M44.4 212.0v-4.4M44.9 212.0v-2.9M45.3 212.0v-2.5M45.8 212.0v-2.9M46.2 212.0v-2.4M46.7 212.0v-5.2M47.1 212.0v-3.4M47.6 212.0v-2.5M48.0 212.0v-3.3M48.5 212.0v-2.4M48.9 212.0v-2.4M49.4 212.0v-2.6M49.8 212.0v-4.8M50.3 212.0v-6.3M50.7 212.0v-2.4M51.2 212.0v-2.4M51.6 212.0v-2.7M52.1 212.0v-5.2M52.5 212.0v-2.6M53.0 212.0v-3.8M53.4 212.0v-2.8M53.9 212.0v-3.0M54.3 212.0v-2.9M54.8 212.0v-4.1M55.2 212.0v-2.7M55.7 212.0v-2.6M56.1 212.0v-4.7M56.6 212.0v-4.2M57.0 212.0v-4.8M57.5 212.0v-3.0M57.9 212.0v-3.0M58.4 212.0v-3.1M58.8 212.0v-3.1M59.3 212.0v-2.4M59.7 212.0v-3.1M60.2 212.0v-2.6M60.6 212.0v-2.9M61.1 212.0v-2.7M61.5 212.0v-2.7M62.0 212.0v-2.6M62.4 212.0v-5.0M62.9 212.0v-3.2M63.3 212.0v-2.6M63.8 212.0v-2.6M64.2 212.0v-2.7M64.7 212.0v-2.5M65.1 212.0v-2.6M65.6 212.0v-2.7M66.0 212.0v-2.5M66.5 212.0v-3.0M66.9 212.0v-2.8M67.4 212.0v-2.5M67.8 212.0v-2.5M68.3 212.0v-3.5M68.7 212.0v-2.6M69.2 212.0v-3.0M69.6 212.0v-2.7M70.1 212.0v-2.6M70.5 212.0v-2.6M71.0 212.0v-2.7M71.4 212.0v-2.7M71.9 212.0v-5.4M72.3 212.0v-3.7M72.8 212.0v-2.7M73.2 212.0v-4.0M73.7 212.0v-3.2M74.1 212.0v-3.1M74.6 212.0v-2.6M75.0 212.0v-2.6M75.5 212.0v-2.9M75.9 212.0v-6.2M76.4 212.0v-3.1M76.8 212.0v-3.8M77.3 212.0v-5.2M77.7 212.0v-2.5M78.2 212.0v-3.1M78.6 212.0v-2.7M79.1 212.0v-3.0M79.5 212.0v-2.6M80.0 212.0v-2.8M80.4 212.0v-2.7M80.9 212.0v-2.9M81.3 212.0v-2.5M81.8 212.0v-3.9M82.2 212.0v-5.4M82.7 212.0v-4.4M83.1 212.0v-2.6M83.6 212.0v-2.7M84.0 212.0v-3.5M84.5 212.0v-2.5M84.9 212.0v-2.4M85.4 212.0v-3.6M85.8 212.0v-2.8M86.3 212.0v-2.6M86.7 212.0v-3.0M87.2 212.0v-2.7M87.6 212.0v-2.6M88.1 212.0v-2.9M88.5 212.0v-2.7M89.0 212.0v-2.5M89.4 212.0v-3.0M89.9 212.0v-2.7M90.3 212.0v-3.0M90.8 212.0v-2.7M91.2 212.0v-3.1M91.7 212.0v-3.1M92.1 212.0v-2.6M92.6 212.0v-3.1M93.0 212.0v-2.7M93.5 212.0v-3.7M93.9 212.0v-2.7M94.4 212.0v-3.3M94.8 212.0v-2.8M95.3 212.0v-3.4M95.7 212.0v-3.7M96.2 212.0v-3.1M96.6 212.0v-2.9M97.1 212.0v-3.4M97.5 212.0v-3.6M98.0 212.0v-2.5M98.4 212.0v-5.1M98.9 212.0v-2.5M99.3 212.0v-3.1M99.8 212.0v-4.2M100.2 212.0v-5.7M100.7 212.0v-2.8M101.1 212.0v-2.5M101.6 212.0v-4.0M102.0 212.0v-2.6M102.5 212.0v-3.5M102.9 212.0v-2.5M103.4 212.0v-3.0M103.8 212.0v-2.7M104.3 212.0v-2.7M104.7 212.0v-2.7M105.2 212.0v-2.8M105.6 212.0v-2.7M106.1 212.0v-2.5M106.5 212.0v-3.2M107.0 212.0v-2.8M107.4 212.0v-3.0M107.9 212.0v-2.5M108.3 212.0v-3.2M108.8 212.0v-2.8M109.2 212.0v-3.2M109.7 212.0v-2.6M110.1 212.0v-2.9M110.6 212.0v-2.6M111.0 212.0v-4.2M111.5 212.0v-3.1M111.9 212.0v-3.6M112.4 212.0v-2.6M112.8 212.0v-2.4M113.3 212.0v-2.7M113.7 212.0v-2.7M114.2 212.0v-3.3M114.6 212.0v-5.2M115.1 212.0v-2.9M115.5 212.0v-3.5M116.0 212.0v-2.9M116.4 212.0v-3.2M116.9 212.0v-2.7M117.3 212.0v-4.3M117.8 212.0v-2.6M118.2 212.0v-3.2M118.7 212.0v-4.3M119.1 212.0v-2.6M119.6 212.0v-2.6M120.0 212.0v-3.1M120.5 212.0v-3.8M120.9 212.0v-3.6M121.4 212.0v-2.7M121.8 212.0v-2.5M122.3 212.0v-3.5M122.7 212.0v-2.7M123.2 212.0v-4.1M123.6 212.0v-2.7M124.1 212.0v-2.5M124.5 212.0v-4.3M125.0 212.0v-2.9M125.4 212.0v-2.6M125.9 212.0v-2.5M126.3 212.0v-3.8M126.8 212.0v-4.1M127.2 212.0v-3.3M127.7 212.0v-2.6M128.1 212.0v-3.0M128.6 212.0v-2.6M129.0 212.0v-4.4M129.5 212.0v-2.9M129.9 212.0v-2.8M130.4 212.0v-3.2M130.8 212.0v-2.9M131.3 212.0v-3.0M131.7 212.0v-2.5M132.2 212.0v-3.0M132.6 212.0v-4.0M133.1 212.0v-2.6M133.5 212.0v-2.9M134.0 212.0v-3.0M134.4 212.0v-2.6M134.9 212.0v-2.4M135.3 212.0v-3.2M135.8 212.0v-3.2M136.2 212.0v-2.6M136.7 212.0v-5.2M137.1 212.0v-2.6M137.6 212.0v-2.7M138.0 212.0v-2.7M138.5 212.0v-3.3M138.9 212.0v-3.5M139.4 212.0v-2.6M139.8 212.0v-2.5M140.3 212.0v-3.2M140.7 212.0v-2.5M141.2 212.0v-3.2M141.6 212.0v-3.2M142.1 212.0v-2.5M142.5 212.0v-2.5M143.0 212.0v-2.9M143.4 212.0v-2.6M143.9 212.0v-2.4M144.3 212.0v-3.7M144.8 212.0v-2.7M145.2 212.0v-2.9M145.7 212.0v-4.7M146.1 212.0v-2.6M146.6 212.0v-2.8M147.0 212.0v-5.6M147.5 212.0v-3.1M147.9 212.0v-2.8M148.4 212.0v-2.5M148.8 212.0v-2.4M149.3 212.0v-3.0M149.7 212.0v-2.9M150.2 212.0v-3.7M150.6 212.0v-3.3M151.1 212.0v-2.4M151.5 212.0v-2.6M151.9 212.0v-2.9M152.4 212.0v-2.6M152.8 212.0v-3.1M153.3 212.0v-3.6M153.7 212.0v-4.0M154.2 212.0v-3.2M154.6 212.0v-3.4M155.1 212.0v-3.6M155.5 212.0v-3.2M156.0 212.0v-2.7M156.4 212.0v-2.5M156.9 212.0v-2.8M157.3 212.0v-2.9M157.8 212.0v-3.0M158.2 212.0v-2.8M158.7 212.0v-2.7M159.1 212.0v-3.8M159.6 212.0v-2.7M160.0 212.0v-2.9M160.5 212.0v-3.2M160.9 212.0v-3.3M161.4 212.0v-2.8M161.8 212.0v-2.5M162.3 212.0v-2.7M162.7 212.0v-2.4M163.2 212.0v-2.5M163.6 212.0v-3.8M164.1 212.0v-2.7M164.5 212.0v-2.4M165.0 212.0v-5.7M165.4 212.0v-2.5M165.9 212.0v-2.8M166.3 212.0v-3.0M166.8 212.0v-4.7M167.2 212.0v-2.6M167.7 212.0v-2.8M168.1 212.0v-2.6M168.6 212.0v-2.6M169.0 212.0v-3.0M169.5 212.0v-2.5M169.9 212.0v-4.5M170.4 212.0v-2.7M170.8 212.0v-2.7M171.3 212.0v-3.0M171.7 212.0v-2.5M172.2 212.0v-2.8M172.6 212.0v-3.9M173.1 212.0v-2.4M173.5 212.0v-3.0M174.0 212.0v-2.5M174.4 212.0v-3.5M174.9 212.0v-2.7M175.3 212.0v-3.1M175.8 212.0v-2.5M176.2 212.0v-3.2M176.7 212.0v-2.9M177.1 212.0v-2.7M177.6 212.0v-2.6M178.0 212.0v-2.8M178.5 212.0v-2.5M178.9 212.0v-3.0M179.4 212.0v-2.7M179.8 212.0v-2.5M180.3 212.0v-2.4M180.7 212.0v-3.3M181.2 212.0v-2.5M181.6 212.0v-3.5M182.1 212.0v-3.7M182.5 212.0v-2.8M183.0 212.0v-3.2M183.4 212.0v-2.7M183.9 212.0v-2.7M184.3 212.0v-2.5M184.8 212.0v-2.5M185.2 212.0v-3.0M185.7 212.0v-2.4M186.1 212.0v-3.0M186.6 212.0v-2.4M187.0 212.0v-4.5M187.5 212.0v-2.9M187.9 212.0v-3.3M188.4 212.0v-3.3M188.8 212.0v-2.5M189.3 212.0v-2.4M189.7 212.0v-5.5M190.2 212.0v-2.5M190.6 212.0v-2.5M191.1 212.0v-2.6M191.5 212.0v-3.0M192.0 212.0v-3.3M192.4 212.0v-2.7M192.9 212.0v-2.8M193.3 212.0v-3.5M193.8 212.0v-3.4M194.2 212.0v-2.9M194.7 212.0v-3.2M195.1 212.0v-2.7M195.6 212.0v-2.4M196.0 212.0v-3.2M196.5 212.0v-3.0M196.9 212.0v-2.5M197.4 212.0v-5.7M197.8 212.0v-2.7M198.3 212.0v-2.5M198.7 212.0v-4.0M199.2 212.0v-3.6M199.6 212.0v-3.0M200.1 212.0v-2.9M200.5 212.0v-4.2M201.0 212.0v-4.2M201.4 212.0v-3.3M201.9 212.0v-5.9M202.3 212.0v-2.6M202.8 212.0v-2.5M203.2 212.0v-3.2M203.7 212.0v-2.8M204.1 212.0v-2.4M204.6 212.0v-2.6M205.0 212.0v-2.7M205.5 212.0v-3.2M205.9 212.0v-2.5M206.4 212.0v-2.7M206.8 212.0v-2.5M207.3 212.0v-3.1M207.7 212.0v-4.7M208.2 212.0v-2.7M208.6 212.0v-2.6M209.1 212.0v-2.8M209.5 212.0v-2.7M210.0 212.0v-2.6M210.4 212.0v-3.7M210.9 212.0v-2.6M211.3 212.0v-3.8M211.8 212.0v-2.9M212.2 212.0v-3.1M212.7 212.0v-3.3M213.1 212.0v-4.7M213.6 212.0v-5.3M214.0 212.0v-2.4M214.5 212.0v-4.3M214.9 212.0v-2.5M215.4 212.0v-2.6M215.8 212.0v-2.7M216.3 212.0v-2.4M216.7 212.0v-3.0M217.2 212.0v-3.9M217.6 212.0v-2.6M218.1 212.0v-3.3M218.5 212.0v-2.8M219.0 212.0v-2.9M219.4 212.0v-4.5M219.9 212.0v-3.8M220.3 212.0v-2.8M220.8 212.0v-4.0M221.2 212.0v-3.0M221.7 212.0v-2.8M222.1 212.0v-2.5M222.6 212.0v-5.3M223.0 212.0v-2.7M223.5 212.0v-2.8M223.9 212.0v-2.8M224.4 212.0v-2.5M224.8 212.0v-2.8M225.3 212.0v-3.5M225.7 212.0v-4.0M226.2 212.0v-2.4M226.6 212.0v-2.9M227.1 212.0v-2.6M227.5 212.0v-3.9M228.0 212.0v-3.1M228.4 212.0v-2.8M228.9 212.0v-4.3M229.3 212.0v-2.5M229.8 212.0v-2.5M230.2 212.0v-3.5M230.7 212.0v-2.6M231.1 212.0v-4.1M231.6 212.0v-2.7M232.0 212.0v-2.5M232.5 212.0v-4.8M232.9 212.0v-2.6M233.4 212.0v-2.4M233.8 212.0v-3.2M234.3 212.0v-3.0M234.7 212.0v-2.4M235.2 212.0v-4.3M235.6 212.0v-2.6M236.1 212.0v-2.6M236.5 212.0v-2.4M237.0 212.0v-4.3M237.4 212.0v-3.8M237.9 212.0v-5.4M238.3 212.0v-3.0M238.8 212.0v-2.4M239.2 212.0v-2.5M239.7 212.0v-3.4M240.1 212.0v-2.4M240.6 212.0v-2.9M241.0 212.0v-2.5M241.5 212.0v-5.0M241.9 212.0v-2.5M242.4 212.0v-2.5M242.8 212.0v-3.9M243.3 212.0v-2.5M243.7 212.0v-5.9M244.2 212.0v-2.6M244.6 212.0v-4.2M245.1 212.0v-3.1M245.5 212.0v-2.4M246.0 212.0v-3.2M246.4 212.0v-2.9M246.9 212.0v-2.9M247.3 212.0v-2.9M247.8 212.0v-2.5M248.2 212.0v-4.0M248.7 212.0v-2.5M249.1 212.0v-3.5M249.6 212.0v-2.6M250.0 212.0v-2.4M250.5 212.0v-2.7M250.9 212.0v-5.2M251.4 212.0v-3.3M251.8 212.0v-3.1M252.3 212.0v-3.3M252.7 212.0v-2.9M253.2 212.0v-2.5M253.6 212.0v-2.6M254.1 212.0v-2.7M254.5 212.0v-2.7M255.0 212.0v-4.8M255.4 212.0v-3.6M255.9 212.0v-2.6M256.3 212.0v-2.6M256.8 212.0v-2.8M257.2 212.0v-2.7M257.7 212.0v-2.6M258.1 212.0v-2.8M258.6 212.0v-2.9M259.0 212.0v-5.0M259.5 212.0v-2.7M259.9 212.0v-2.4M260.4 212.0v-3.5M260.8 212.0v-2.4M261.3 212.0v-2.7M261.7 212.0v-2.7M262.2 212.0v-2.9M262.6 212.0v-2.7M263.1 212.0v-3.1M263.5 212.0v-2.6M264.0 212.0v-2.7M264.4 212.0v-3.0M264.9 212.0v-2.9M265.3 212.0v-2.5M265.8 212.0v-3.0M266.2 212.0v-2.5M266.7 212.0v-4.3M267.1 212.0v-3.9" stroke="#2a8ff0" stroke-width="0.6" fill="none"/>
<path d="M108.7 212.0V207.5M119.1 212.0V207.0M77.8 212.0V208.3M44.4 212.0V207.2M71.2 212.0V209.2M124.6 212.0V210.0M51.6 212.0V207.5M94.2 212.0V210.5M34.7 212.0V209.7M32.6 212.0V207.4M50.9 212.0V210.0M72.3 212.0V209.1M76.9 212.0V208.5M100.6 212.0V209.4M41.9 212.0V206.6M103.9 212.0V210.5M77.8 212.0V207.9M135.2 212.0V210.5M32.8 212.0V209.2M75.8 212.0V207.1M118.0 212.0V209.8M75.5 212.0V208.8M124.0 212.0V210.2M72.7 212.0V210.5M98.7 212.0V210.6M129.3 212.0V209.0M91.6 212.0V210.5M56.0 212.0V209.3M121.2 212.0V209.0M61.5 212.0V206.6M100.8 212.0V209.0M52.9 212.0V209.9M125.6 212.0V210.4M87.2 212.0V208.6M68.8 212.0V207.8M126.7 212.0V207.3M108.7 212.0V210.2M38.0 212.0V209.4M64.3 212.0V210.3M122.6 212.0V210.2M244.0 212.0V209.7M151.8 212.0V209.8M188.1 212.0V211.2M160.5 212.0V211.4M201.5 212.0V210.9M247.7 212.0V210.0M143.5 212.0V210.9M187.1 212.0V211.2M168.9 212.0V211.1M227.1 212.0V211.0M150.6 212.0V211.2M194.0 212.0V210.6M168.2 212.0V210.3M164.3 212.0V210.4M216.0 212.0V211.2M234.6 212.0V210.9M206.8 212.0V210.5M218.4 212.0V210.8M143.4 212.0V210.1M248.8 212.0V210.7M212.0 212.0V211.1M253.9 212.0V210.3M165.1 212.0V210.0M265.4 212.0V211.0M266.6 212.0V210.8M34.7 212.0V197.2M47.4 212.0V197.2M65.6 212.0V153.0M71.6 212.0V196.3M79.2 212.0V186.4M85.9 212.0V200.9M108.0 212.0V202.1M114.7 212.0V191.0M121.8 212.0V199.7M128.4 212.0V171.6M58.7 212.0V205.8M62.1 212.0V206.4M75.5 212.0V204.6M82.2 212.0V205.8M89.0 212.0V207.1M95.7 212.0V207.7M102.4 212.0V207.1M111.2 212.0V205.8M117.6 212.0V206.4M124.3 212.0V205.8M132.7 212.0V208.3M139.4 212.0V208.3" stroke="#2a8ff0" stroke-width="0.75" fill="none"/>
<path d="M25.5 212.5V133.4H273.5V212.5" stroke="#6a6a6a" stroke-width="0.8" fill="none"/>
<line x1="9.00" y1="133.40" x2="273.50" y2="133.40" stroke="#333" stroke-width="1" />
<line x1="25.50" y1="212.50" x2="273.50" y2="212.50" stroke="#555" stroke-width="0.8" />
<line x1="24.00" y1="212.00" x2="25.50" y2="212.00" stroke="#555" stroke-width="0.6" />
<text x="23.30" y="213.60" font-size="4.5" fill="#222"  text-anchor="end"   stroke="#222" stroke-width="0.08">0</text>
<line x1="24.00" y1="199.65" x2="25.50" y2="199.65" stroke="#555" stroke-width="0.6" />
<text x="23.30" y="201.25" font-size="4.5" fill="#222"  text-anchor="end"   stroke="#222" stroke-width="0.08">1</text>
<line x1="24.00" y1="187.30" x2="25.50" y2="187.30" stroke="#555" stroke-width="0.6" />
<text x="23.30" y="188.90" font-size="4.5" fill="#222"  text-anchor="end"   stroke="#222" stroke-width="0.08">2</text>
<line x1="24.00" y1="174.95" x2="25.50" y2="174.95" stroke="#555" stroke-width="0.6" />
<text x="23.30" y="176.55" font-size="4.5" fill="#222"  text-anchor="end"   stroke="#222" stroke-width="0.08">3</text>
<line x1="24.00" y1="162.60" x2="25.50" y2="162.60" stroke="#555" stroke-width="0.6" />
<text x="23.30" y="164.20" font-size="4.5" fill="#222"  text-anchor="end"   stroke="#222" stroke-width="0.08">4</text>
<line x1="24.00" y1="150.25" x2="25.50" y2="150.25" stroke="#555" stroke-width="0.6" />
<text x="23.30" y="151.85" font-size="4.5" fill="#222"  text-anchor="end"   stroke="#222" stroke-width="0.08">5</text>
<line x1="24.00" y1="137.90" x2="25.50" y2="137.90" stroke="#555" stroke-width="0.6" />
<line x1="31.80" y1="212.50" x2="31.80" y2="213.80" stroke="#555" stroke-width="0.6" />
<text x="31.80" y="219.70" font-size="4.5" fill="#222"  text-anchor="middle"   stroke="#222" stroke-width="0.08">150</text>
<line x1="48.61" y1="212.50" x2="48.61" y2="213.80" stroke="#555" stroke-width="0.6" />
<text x="48.61" y="219.70" font-size="4.5" fill="#222"  text-anchor="middle"   stroke="#222" stroke-width="0.08">200</text>
<line x1="65.43" y1="212.50" x2="65.43" y2="213.80" stroke="#555" stroke-width="0.6" />
<text x="65.43" y="219.70" font-size="4.5" fill="#222"  text-anchor="middle"   stroke="#222" stroke-width="0.08">250</text>
<line x1="82.24" y1="212.50" x2="82.24" y2="213.80" stroke="#555" stroke-width="0.6" />
<text x="82.24" y="219.70" font-size="4.5" fill="#222"  text-anchor="middle"   stroke="#222" stroke-width="0.08">300</text>
<line x1="99.06" y1="212.50" x2="99.06" y2="213.80" stroke="#555" stroke-width="0.6" />
<text x="99.06" y="219.70" font-size="4.5" fill="#222"  text-anchor="middle"   stroke="#222" stroke-width="0.08">350</text>
<line x1="115.87" y1="212.50" x2="115.87" y2="213.80" stroke="#555" stroke-width="0.6" />
<text x="115.87" y="219.70" font-size="4.5" fill="#222"  text-anchor="middle"   stroke="#222" stroke-width="0.08">400</text>
<line x1="132.69" y1="212.50" x2="132.69" y2="213.80" stroke="#555" stroke-width="0.6" />
<text x="132.69" y="219.70" font-size="4.5" fill="#222"  text-anchor="middle"   stroke="#222" stroke-width="0.08">450</text>
<line x1="149.50" y1="212.50" x2="149.50" y2="213.80" stroke="#555" stroke-width="0.6" />
<text x="149.50" y="219.70" font-size="4.5" fill="#222"  text-anchor="middle"   stroke="#222" stroke-width="0.08">500</text>
<line x1="166.31" y1="212.50" x2="166.31" y2="213.80" stroke="#555" stroke-width="0.6" />
<text x="166.31" y="219.70" font-size="4.5" fill="#222"  text-anchor="middle"   stroke="#222" stroke-width="0.08">550</text>
<line x1="183.13" y1="212.50" x2="183.13" y2="213.80" stroke="#555" stroke-width="0.6" />
<text x="183.13" y="219.70" font-size="4.5" fill="#222"  text-anchor="middle"   stroke="#222" stroke-width="0.08">600</text>
<line x1="199.94" y1="212.50" x2="199.94" y2="213.80" stroke="#555" stroke-width="0.6" />
<text x="199.94" y="219.70" font-size="4.5" fill="#222"  text-anchor="middle"   stroke="#222" stroke-width="0.08">650</text>
<line x1="216.76" y1="212.50" x2="216.76" y2="213.80" stroke="#555" stroke-width="0.6" />
<text x="216.76" y="219.70" font-size="4.5" fill="#222"  text-anchor="middle"   stroke="#222" stroke-width="0.08">700</text>
<line x1="233.57" y1="212.50" x2="233.57" y2="213.80" stroke="#555" stroke-width="0.6" />
<text x="233.57" y="219.70" font-size="4.5" fill="#222"  text-anchor="middle"   stroke="#222" stroke-width="0.08">750</text>
<line x1="250.39" y1="212.50" x2="250.39" y2="213.80" stroke="#555" stroke-width="0.6" />
<text x="250.39" y="219.70" font-size="4.5" fill="#222"  text-anchor="middle"   stroke="#222" stroke-width="0.08">800</text>
<line x1="267.20" y1="212.50" x2="267.20" y2="213.80" stroke="#555" stroke-width="0.6" />
<text x="267.20" y="219.70" font-size="4.5" fill="#222"  text-anchor="middle"   stroke="#222" stroke-width="0.08">850</text>
<text x="109.00" y="224.70" font-size="4.5" fill="#1a1a1a"    textLength="68.50" lengthAdjust="spacingAndGlyphs" stroke="#1a1a1a" stroke-width="0.05">Counts vs. Mass-to-Charge (m/z)</text>
<text x="10.70" y="142.60" font-size="4.5" fill="#222"     stroke="#222" stroke-width="0.05">x10</text>
<text x="22.00" y="140.80" font-size="4.3" fill="#222"  text-anchor="middle"   stroke="#222" stroke-width="0.05">5</text>
<text x="27.70" y="140.70" font-size="4.7" fill="#1a1a1a"    textLength="150.50" lengthAdjust="spacingAndGlyphs" >+ESI Scan (rt: 31.614-31.675 min, 6 scans) Frag=175.0V AF-flower-pos.d</text>
<text x="36.70" y="195.80" font-size="4.6" fill="#2a8ff0"     stroke="#2a8ff0" stroke-width="0.12">196.2307</text>
<text x="55.00" y="148.10" font-size="4.6" fill="#2a8ff0"     stroke="#2a8ff0" stroke-width="0.12">250.2580</text>
<text x="68.70" y="184.10" font-size="4.6" fill="#2a8ff0"     stroke="#2a8ff0" stroke-width="0.12">290.2999</text>
<text x="104.00" y="189.20" font-size="4.6" fill="#2a8ff0"     stroke="#2a8ff0" stroke-width="0.12">395.4088</text>
<text x="117.60" y="148.60" font-size="4.6" fill="#2a8ff0"     stroke="#2a8ff0" stroke-width="0.12">436.5618</text>
<line x1="88.30" y1="172.00" x2="83.34" y2="175.72" stroke="#1a1aff" stroke-width="1.3" />
<path d="M80.70 177.70L82.44 174.02L84.72 177.06Z" fill="#1a1aff"/>
<rect x="134.6" y="166.4" width="128.50" height="25.40" fill="#f1f1f1"/>
<rect x="134.6" y="191.8" width="128.50" height="12.70" fill="#fff"/>
<rect x="134.6" y="166.4" width="128.50" height="38.10" fill="none" stroke="#555" stroke-width="0.9"/>
<line x1="134.60" y1="191.80" x2="263.10" y2="191.80" stroke="#555" stroke-width="0.9" />
<line x1="182.70" y1="166.40" x2="182.70" y2="204.50" stroke="#555" stroke-width="0.9" />
<line x1="209.40" y1="166.40" x2="209.40" y2="204.50" stroke="#555" stroke-width="0.9" />
<text x="158.65" y="174.80" font-size="5.4" fill="#111" font-family='"Liberation Serif", serif' text-anchor="middle" font-weight="bold" textLength="26.39" lengthAdjust="spacingAndGlyphs" >MEAS. M/Z</text>
<text x="158.65" y="187.30" font-size="5.4" fill="#111" font-family='"Liberation Serif", serif' text-anchor="middle"  textLength="18.39" lengthAdjust="spacingAndGlyphs" stroke="#111" stroke-width="0.15">[M+H]<tspan font-size="3" dy="-2">+</tspan></text>
<text x="196.05" y="174.80" font-size="5.4" fill="#111" font-family='"Liberation Serif", serif' text-anchor="middle" font-weight="bold" textLength="10.56" lengthAdjust="spacingAndGlyphs" >ERR</text>
<text x="196.05" y="187.30" font-size="5.4" fill="#111" font-family='"Liberation Serif", serif' text-anchor="middle"  textLength="14.40" lengthAdjust="spacingAndGlyphs" stroke="#111" stroke-width="0.15">[PPM]</text>
<text x="236.25" y="174.80" font-size="5.4" fill="#111" font-family='"Liberation Serif", serif' text-anchor="middle" font-weight="bold" textLength="33.06" lengthAdjust="spacingAndGlyphs" >MOLECULAR</text>
<text x="236.25" y="187.30" font-size="5.4" fill="#111" font-family='"Liberation Serif", serif' text-anchor="middle" font-weight="bold" textLength="25.83" lengthAdjust="spacingAndGlyphs" >FORMULA</text>
<text x="158.65" y="200.76" font-size="5.29" fill="#2222ff" font-family='"Liberation Serif", serif' text-anchor="middle" font-weight="bold" textLength="18.38" lengthAdjust="spacingAndGlyphs" stroke="#2222ff" stroke-width="0.18">290.2999</text>
<text x="196.05" y="200.76" font-size="5.29" fill="#2222ff" font-family='"Liberation Serif", serif' text-anchor="middle" font-weight="bold" textLength="12.25" lengthAdjust="spacingAndGlyphs" stroke="#2222ff" stroke-width="0.18">– 0.40</text>
<text x="236.25" y="200.76" font-size="5.78" fill="#2222ff" font-family='"Liberation Serif", serif' text-anchor="middle" font-weight="bold" textLength="19.00" lengthAdjust="spacingAndGlyphs" stroke="#2222ff" stroke-width="0.18"><tspan >C</tspan><tspan font-size="3.18" dy="0.58">15</tspan><tspan dy="-0.58">H</tspan><tspan font-size="3.18" dy="0.58">14</tspan><tspan dy="-0.58">O</tspan><tspan font-size="3.18" dy="0.58">6</tspan></text>
<line x1="300.70" y1="134.50" x2="300.70" y2="211.90" stroke="#e4e4e4" stroke-width="0.6" />
<line x1="317.66" y1="134.50" x2="317.66" y2="211.90" stroke="#e4e4e4" stroke-width="0.6" />
<line x1="334.61" y1="134.50" x2="334.61" y2="211.90" stroke="#e4e4e4" stroke-width="0.6" />
<line x1="351.57" y1="134.50" x2="351.57" y2="211.90" stroke="#e4e4e4" stroke-width="0.6" />
<line x1="368.53" y1="134.50" x2="368.53" y2="211.90" stroke="#e4e4e4" stroke-width="0.6" />
<line x1="385.49" y1="134.50" x2="385.49" y2="211.90" stroke="#e4e4e4" stroke-width="0.6" />
<line x1="402.44" y1="134.50" x2="402.44" y2="211.90" stroke="#e4e4e4" stroke-width="0.6" />
<line x1="419.40" y1="134.50" x2="419.40" y2="211.90" stroke="#e4e4e4" stroke-width="0.6" />
<line x1="436.36" y1="134.50" x2="436.36" y2="211.90" stroke="#e4e4e4" stroke-width="0.6" />
<line x1="453.31" y1="134.50" x2="453.31" y2="211.90" stroke="#e4e4e4" stroke-width="0.6" />
<line x1="470.27" y1="134.50" x2="470.27" y2="211.90" stroke="#e4e4e4" stroke-width="0.6" />
<line x1="487.23" y1="134.50" x2="487.23" y2="211.90" stroke="#e4e4e4" stroke-width="0.6" />
<line x1="504.19" y1="134.50" x2="504.19" y2="211.90" stroke="#e4e4e4" stroke-width="0.6" />
<line x1="521.14" y1="134.50" x2="521.14" y2="211.90" stroke="#e4e4e4" stroke-width="0.6" />
<line x1="538.10" y1="134.50" x2="538.10" y2="211.90" stroke="#e4e4e4" stroke-width="0.6" />
<line x1="294.20" y1="196.50" x2="543.80" y2="196.50" stroke="#e4e4e4" stroke-width="0.6" />
<line x1="294.20" y1="181.40" x2="543.80" y2="181.40" stroke="#e4e4e4" stroke-width="0.6" />
<line x1="294.20" y1="166.30" x2="543.80" y2="166.30" stroke="#e4e4e4" stroke-width="0.6" />
<line x1="294.20" y1="151.20" x2="543.80" y2="151.20" stroke="#e4e4e4" stroke-width="0.6" />
<rect x="300.70" y="208.80" width="237.40" height="3.10" fill="#f0860f"/>
<path d="M300.7 211.6v-3.0M301.1 211.6v-3.2M301.6 211.6v-2.8M302.0 211.6v-4.6M302.5 211.6v-3.8M302.9 211.6v-3.3M303.4 211.6v-2.9M303.8 211.6v-3.0M304.3 211.6v-4.0M304.7 211.6v-3.9M305.2 211.6v-3.1M305.6 211.6v-3.7M306.1 211.6v-4.3M306.5 211.6v-3.5M307.0 211.6v-3.3M307.4 211.6v-3.2M307.9 211.6v-4.7M308.3 211.6v-3.4M308.8 211.6v-4.5M309.2 211.6v-4.3M309.7 211.6v-3.3M310.1 211.6v-3.4M310.6 211.6v-2.9M311.0 211.6v-4.1M311.5 211.6v-3.5M311.9 211.6v-3.3M312.4 211.6v-3.1M312.8 211.6v-3.0M313.3 211.6v-3.0M313.7 211.6v-3.0M314.2 211.6v-3.8M314.6 211.6v-3.4M315.1 211.6v-2.9M315.5 211.6v-3.0M316.0 211.6v-3.5M316.4 211.6v-3.1M316.9 211.6v-5.5M317.3 211.6v-4.4M317.8 211.6v-3.7M318.2 211.6v-2.8M318.7 211.6v-5.2M319.1 211.6v-3.2M319.6 211.6v-3.5M320.0 211.6v-3.0M320.5 211.6v-3.2M320.9 211.6v-3.1M321.4 211.6v-3.2M321.8 211.6v-2.9M322.3 211.6v-3.1M322.7 211.6v-2.9M323.2 211.6v-3.2M323.6 211.6v-3.4M324.1 211.6v-3.6M324.5 211.6v-2.8M325.0 211.6v-3.0M325.4 211.6v-2.9M325.9 211.6v-3.8M326.3 211.6v-5.9M326.8 211.6v-3.0M327.2 211.6v-2.8M327.7 211.6v-3.0M328.1 211.6v-4.0M328.6 211.6v-2.8M329.0 211.6v-3.0M329.5 211.6v-3.0M329.9 211.6v-6.0M330.4 211.6v-3.4M330.8 211.6v-3.2M331.3 211.6v-3.5M331.7 211.6v-3.8M332.2 211.6v-2.9M332.6 211.6v-4.2M333.1 211.6v-4.6M333.5 211.6v-3.5M334.0 211.6v-3.5M334.4 211.6v-3.3M334.9 211.6v-3.6M335.3 211.6v-4.6M335.8 211.6v-2.9M336.2 211.6v-5.1M336.7 211.6v-2.8M337.1 211.6v-2.9M337.6 211.6v-3.6M338.0 211.6v-2.9M338.5 211.6v-3.4M338.9 211.6v-4.6M339.4 211.6v-2.8M339.8 211.6v-2.8M340.3 211.6v-2.9M340.7 211.6v-3.9M341.2 211.6v-3.4M341.6 211.6v-3.0M342.1 211.6v-3.1M342.5 211.6v-3.8M343.0 211.6v-3.4M343.4 211.6v-3.4M343.9 211.6v-4.2M344.3 211.6v-2.9M344.8 211.6v-3.8M345.2 211.6v-2.8M345.7 211.6v-4.0M346.1 211.6v-3.3M346.6 211.6v-3.9M347.0 211.6v-3.0M347.5 211.6v-5.2M347.9 211.6v-2.9M348.4 211.6v-4.3M348.8 211.6v-3.2M349.3 211.6v-3.8M349.7 211.6v-4.3M350.2 211.6v-3.1M350.6 211.6v-3.2M351.1 211.6v-2.9M351.5 211.6v-2.9M352.0 211.6v-3.3M352.4 211.6v-3.3M352.9 211.6v-4.7M353.3 211.6v-3.4M353.8 211.6v-3.7M354.2 211.6v-2.9M354.7 211.6v-4.1M355.1 211.6v-3.8M355.6 211.6v-3.5M356.0 211.6v-3.5M356.5 211.6v-4.5M356.9 211.6v-4.5M357.4 211.6v-4.2M357.8 211.6v-3.5M358.3 211.6v-2.9M358.7 211.6v-3.1M359.2 211.6v-2.9M359.6 211.6v-2.9M360.1 211.6v-2.9M360.5 211.6v-3.1M361.0 211.6v-3.1M361.4 211.6v-2.9M361.9 211.6v-4.7M362.3 211.6v-3.5M362.8 211.6v-3.1M363.2 211.6v-4.9M363.7 211.6v-3.9M364.1 211.6v-4.9M364.6 211.6v-3.4M365.0 211.6v-3.4M365.5 211.6v-3.8M365.9 211.6v-2.9M366.4 211.6v-3.6M366.8 211.6v-3.5M367.3 211.6v-3.1M367.7 211.6v-3.2M368.2 211.6v-4.4M368.6 211.6v-3.1M369.1 211.6v-3.1M369.5 211.6v-6.7M370.0 211.6v-3.2M370.4 211.6v-4.0M370.9 211.6v-3.8M371.3 211.6v-3.3M371.8 211.6v-3.5M372.2 211.6v-4.9M372.7 211.6v-2.9M373.1 211.6v-5.3M373.6 211.6v-4.6M374.0 211.6v-3.1M374.5 211.6v-3.0M374.9 211.6v-4.6M375.4 211.6v-3.9M375.8 211.6v-3.0M376.3 211.6v-4.9M376.7 211.6v-3.9M377.2 211.6v-3.4M377.6 211.6v-3.0M378.1 211.6v-2.9M378.5 211.6v-2.8M379.0 211.6v-2.9M379.4 211.6v-6.2M379.9 211.6v-4.3M380.3 211.6v-3.7M380.8 211.6v-4.9M381.2 211.6v-3.7M381.7 211.6v-3.6M382.1 211.6v-3.4M382.6 211.6v-2.9M383.0 211.6v-3.3M383.5 211.6v-2.9M383.9 211.6v-3.0M384.4 211.6v-3.6M384.8 211.6v-3.1M385.3 211.6v-6.1M385.7 211.6v-2.8M386.2 211.6v-2.9M386.6 211.6v-4.1M387.1 211.6v-3.0M387.5 211.6v-3.3M388.0 211.6v-2.9M388.4 211.6v-6.7M388.9 211.6v-4.6M389.3 211.6v-3.1M389.8 211.6v-4.1M390.2 211.6v-2.9M390.7 211.6v-4.5M391.1 211.6v-3.5M391.6 211.6v-5.5M392.0 211.6v-3.0M392.5 211.6v-3.6M392.9 211.6v-4.4M393.4 211.6v-3.1M393.8 211.6v-4.4M394.3 211.6v-4.3M394.7 211.6v-3.6M395.2 211.6v-3.3M395.6 211.6v-3.1M396.1 211.6v-3.7M396.5 211.6v-3.4M397.0 211.6v-3.0M397.4 211.6v-2.9M397.9 211.6v-4.5M398.3 211.6v-2.9M398.8 211.6v-4.0M399.2 211.6v-2.8M399.7 211.6v-3.5M400.1 211.6v-2.8M400.6 211.6v-2.8M401.0 211.6v-2.9M401.5 211.6v-4.3M401.9 211.6v-4.0M402.4 211.6v-3.1M402.8 211.6v-2.8M403.3 211.6v-5.4M403.7 211.6v-4.2M404.2 211.6v-3.6M404.6 211.6v-3.7M405.1 211.6v-5.9M405.5 211.6v-4.7M406.0 211.6v-3.8M406.4 211.6v-3.5M406.9 211.6v-3.1M407.3 211.6v-3.0M407.8 211.6v-2.8M408.2 211.6v-3.0M408.7 211.6v-2.9M409.1 211.6v-2.9M409.6 211.6v-2.9M410.0 211.6v-3.0M410.5 211.6v-3.6M410.9 211.6v-3.3M411.4 211.6v-3.1M411.8 211.6v-6.0M412.3 211.6v-3.0M412.7 211.6v-2.9M413.2 211.6v-3.0M413.6 211.6v-3.6M414.1 211.6v-2.9M414.5 211.6v-2.9M415.0 211.6v-2.8M415.4 211.6v-2.9M415.9 211.6v-2.8M416.3 211.6v-3.1M416.8 211.6v-3.5M417.2 211.6v-6.0M417.7 211.6v-3.0M418.1 211.6v-4.9M418.6 211.6v-8.5M419.0 211.6v-3.7M419.5 211.6v-4.1M419.9 211.6v-3.0M420.4 211.6v-3.3M420.8 211.6v-3.3M421.3 211.6v-3.8M421.7 211.6v-4.3M422.2 211.6v-3.0M422.6 211.6v-3.4M423.1 211.6v-3.5M423.5 211.6v-3.1M424.0 211.6v-4.8M424.4 211.6v-3.1M424.9 211.6v-3.6M425.3 211.6v-4.0M425.8 211.6v-4.8M426.2 211.6v-2.8M426.7 211.6v-3.7M427.1 211.6v-2.9M427.6 211.6v-3.2M428.0 211.6v-3.2M428.5 211.6v-2.8M428.9 211.6v-3.7M429.4 211.6v-2.9M429.8 211.6v-3.4M430.3 211.6v-3.3M430.7 211.6v-3.3M431.2 211.6v-3.5M431.6 211.6v-3.4M432.1 211.6v-2.8M432.5 211.6v-3.9M433.0 211.6v-2.8M433.4 211.6v-3.0M433.9 211.6v-3.1M434.3 211.6v-2.9M434.8 211.6v-3.6M435.2 211.6v-5.0M435.7 211.6v-3.0M436.1 211.6v-3.3M436.6 211.6v-3.1M437.0 211.6v-3.0M437.5 211.6v-2.9M437.9 211.6v-3.4M438.4 211.6v-2.9M438.8 211.6v-6.2M439.3 211.6v-4.3M439.7 211.6v-4.8M440.2 211.6v-3.4M440.6 211.6v-4.6M441.1 211.6v-4.2M441.5 211.6v-3.2M442.0 211.6v-3.6M442.4 211.6v-4.3M442.9 211.6v-4.9M443.3 211.6v-4.1M443.8 211.6v-2.9M444.2 211.6v-2.9M444.7 211.6v-4.5M445.1 211.6v-4.1M445.6 211.6v-4.0M446.0 211.6v-4.6M446.5 211.6v-7.4M446.9 211.6v-3.0M447.4 211.6v-3.2M447.8 211.6v-3.5M448.3 211.6v-3.5M448.7 211.6v-3.4M449.2 211.6v-2.8M449.6 211.6v-2.9M450.1 211.6v-3.8M450.5 211.6v-3.1M451.0 211.6v-3.4M451.4 211.6v-3.5M451.9 211.6v-5.0M452.3 211.6v-3.8M452.8 211.6v-3.2M453.2 211.6v-3.1M453.7 211.6v-3.3M454.1 211.6v-3.0M454.6 211.6v-2.9M455.0 211.6v-3.5M455.5 211.6v-3.4M455.9 211.6v-3.0M456.4 211.6v-3.6M456.8 211.6v-5.0M457.3 211.6v-3.1M457.7 211.6v-3.1M458.2 211.6v-3.1M458.6 211.6v-3.3M459.1 211.6v-3.1M459.5 211.6v-3.1M460.0 211.6v-3.9M460.4 211.6v-4.1M460.9 211.6v-2.9M461.3 211.6v-5.7M461.8 211.6v-2.8M462.2 211.6v-3.4M462.7 211.6v-3.0M463.1 211.6v-3.1M463.6 211.6v-3.2M464.0 211.6v-3.0M464.5 211.6v-3.9M464.9 211.6v-6.1M465.4 211.6v-3.2M465.8 211.6v-3.4M466.3 211.6v-3.1M466.7 211.6v-4.8M467.2 211.6v-3.8M467.6 211.6v-3.3M468.1 211.6v-3.2M468.5 211.6v-3.1M469.0 211.6v-3.1M469.4 211.6v-2.8M469.9 211.6v-2.9M470.3 211.6v-3.7M470.8 211.6v-4.3M471.2 211.6v-3.6M471.7 211.6v-3.2M472.1 211.6v-2.9M472.6 211.6v-4.3M473.0 211.6v-4.0M473.5 211.6v-3.2M473.9 211.6v-4.3M474.4 211.6v-3.5M474.8 211.6v-3.0M475.3 211.6v-2.8M475.7 211.6v-3.5M476.2 211.6v-3.0M476.6 211.6v-3.3M477.1 211.6v-3.1M477.5 211.6v-3.2M478.0 211.6v-2.9M478.4 211.6v-2.8M478.9 211.6v-3.8M479.3 211.6v-3.7M479.8 211.6v-2.9M480.2 211.6v-3.0M480.7 211.6v-3.4M481.1 211.6v-5.4M481.6 211.6v-3.9M482.0 211.6v-4.6M482.5 211.6v-3.1M482.9 211.6v-3.8M483.4 211.6v-4.4M483.8 211.6v-3.6M484.3 211.6v-3.5M484.7 211.6v-3.5M485.2 211.6v-2.8M485.6 211.6v-4.2M486.1 211.6v-2.8M486.5 211.6v-3.8M487.0 211.6v-4.0M487.4 211.6v-3.4M487.9 211.6v-2.8M488.3 211.6v-3.2M488.8 211.6v-3.5M489.2 211.6v-3.9M489.7 211.6v-3.5M490.1 211.6v-2.8M490.6 211.6v-3.9M491.0 211.6v-2.8M491.5 211.6v-3.1M491.9 211.6v-3.4M492.4 211.6v-4.5M492.8 211.6v-3.5M493.3 211.6v-3.0M493.7 211.6v-4.2M494.2 211.6v-3.7M494.6 211.6v-3.1M495.1 211.6v-3.0M495.5 211.6v-3.1M496.0 211.6v-4.1M496.4 211.6v-4.2M496.9 211.6v-3.7M497.3 211.6v-3.7M497.8 211.6v-4.0M498.2 211.6v-2.9M498.7 211.6v-2.9M499.1 211.6v-4.2M499.6 211.6v-4.2M500.0 211.6v-3.4M500.5 211.6v-3.5M500.9 211.6v-2.8M501.4 211.6v-3.4M501.8 211.6v-3.0M502.3 211.6v-4.0M502.7 211.6v-3.9M503.2 211.6v-5.1M503.6 211.6v-3.1M504.1 211.6v-3.5M504.5 211.6v-2.9M505.0 211.6v-3.3M505.4 211.6v-3.1M505.9 211.6v-3.2M506.3 211.6v-3.3M506.8 211.6v-4.0M507.2 211.6v-2.9M507.7 211.6v-3.4M508.1 211.6v-5.8M508.6 211.6v-3.4M509.0 211.6v-3.3M509.5 211.6v-3.1M509.9 211.6v-2.9M510.4 211.6v-5.1M510.8 211.6v-3.8M511.3 211.6v-2.8M511.7 211.6v-3.7M512.2 211.6v-3.3M512.6 211.6v-2.9M513.1 211.6v-3.3M513.5 211.6v-3.2M514.0 211.6v-4.5M514.4 211.6v-3.8M514.9 211.6v-3.3M515.3 211.6v-2.9M515.8 211.6v-3.8M516.2 211.6v-4.6M516.7 211.6v-3.3M517.1 211.6v-2.9M517.6 211.6v-3.4M518.0 211.6v-3.5M518.5 211.6v-3.3M518.9 211.6v-3.1M519.4 211.6v-3.1M519.8 211.6v-3.2M520.3 211.6v-3.2M520.7 211.6v-3.1M521.2 211.6v-3.2M521.6 211.6v-2.8M522.1 211.6v-2.8M522.5 211.6v-2.9M523.0 211.6v-2.8M523.4 211.6v-3.0M523.9 211.6v-3.8M524.3 211.6v-2.8M524.8 211.6v-3.2M525.2 211.6v-3.1M525.7 211.6v-3.4M526.1 211.6v-2.9M526.6 211.6v-5.9M527.0 211.6v-3.7M527.5 211.6v-3.2M527.9 211.6v-3.9M528.4 211.6v-3.8M528.8 211.6v-3.5M529.3 211.6v-3.8M529.7 211.6v-3.6M530.2 211.6v-2.8M530.6 211.6v-3.0M531.1 211.6v-6.8M531.5 211.6v-3.3M532.0 211.6v-5.1M532.4 211.6v-3.2M532.9 211.6v-3.9M533.3 211.6v-4.6M533.8 211.6v-4.3M534.2 211.6v-3.0M534.7 211.6v-3.7M535.1 211.6v-4.1M535.6 211.6v-3.0M536.0 211.6v-2.8M536.5 211.6v-3.2M536.9 211.6v-2.9M537.4 211.6v-2.9M537.8 211.6v-3.0" stroke="#f0860f" stroke-width="0.6" fill="none"/>
<path d="M313.7 211.6V208.3M382.5 211.6V207.6M347.8 211.6V205.0M317.9 211.6V205.3M354.8 211.6V208.8M337.5 211.6V208.9M367.2 211.6V208.1M355.2 211.6V206.8M391.1 211.6V206.4M331.8 211.6V206.6M373.5 211.6V204.8M341.3 211.6V207.5M380.2 211.6V208.6M335.0 211.6V206.9M340.0 211.6V205.3M337.2 211.6V209.1M364.8 211.6V207.1M404.8 211.6V204.5M345.0 211.6V208.0M369.2 211.6V207.7M362.5 211.6V208.3M391.1 211.6V204.9M383.8 211.6V206.0M394.0 211.6V209.0M399.7 211.6V209.2M311.3 211.6V207.7M317.3 211.6V209.0M364.4 211.6V209.4M342.5 211.6V208.5M399.9 211.6V209.6M354.3 211.6V207.9M317.7 211.6V208.6M338.9 211.6V208.5M359.3 211.6V207.4M349.7 211.6V208.1M364.8 211.6V207.8M313.9 211.6V206.7M343.7 211.6V205.3M314.6 211.6V207.4M332.2 211.6V206.9M386.7 211.6V206.7M360.8 211.6V204.6M324.5 211.6V204.1M346.8 211.6V206.9M314.3 211.6V209.7M426.9 211.6V209.5M437.6 211.6V208.7M426.3 211.6V209.1M524.9 211.6V209.0M527.9 211.6V208.5M519.3 211.6V210.6M473.4 211.6V210.2M463.9 211.6V208.9M502.5 211.6V210.4M428.4 211.6V210.6M503.7 211.6V208.5M418.0 211.6V210.5M424.1 211.6V207.9M415.3 211.6V209.4M521.7 211.6V210.5M496.2 211.6V210.1M490.7 211.6V209.7M425.6 211.6V208.3M472.0 211.6V207.9M484.6 211.6V208.0M492.4 211.6V210.6M406.4 211.6V207.9M493.9 211.6V208.7M516.7 211.6V210.0M499.1 211.6V209.2M413.8 211.6V209.5M528.8 211.6V209.5M509.9 211.6V210.6M460.8 211.6V209.6M479.3 211.6V208.5M317.1 211.6V201.8M332.1 211.6V167.8M334.2 211.6V193.5M341.4 211.6V195.0M347.5 211.6V178.8M360.4 211.6V198.0M372.2 211.6V196.5M384.4 211.6V196.5M390.5 211.6V181.4M397.9 211.6V154.2M304.1 211.6V202.5M309.2 211.6V205.6M324.4 211.6V204.0M338.0 211.6V202.5M351.6 211.6V204.0M365.1 211.6V204.0M378.7 211.6V204.8M402.4 211.6V205.6M409.2 211.6V206.3" stroke="#f0860f" stroke-width="0.75" fill="none"/>
<path d="M294.2 211.9V134.5H543.8V211.9" stroke="#6a6a6a" stroke-width="0.8" fill="none"/>
<line x1="294.20" y1="211.90" x2="543.80" y2="211.90" stroke="#555" stroke-width="0.8" />
<line x1="292.70" y1="211.60" x2="294.20" y2="211.60" stroke="#555" stroke-width="0.6" />
<text x="292.00" y="213.20" font-size="4.5" fill="#222"  text-anchor="end"   stroke="#222" stroke-width="0.08">0</text>
<line x1="292.70" y1="196.50" x2="294.20" y2="196.50" stroke="#555" stroke-width="0.6" />
<text x="292.00" y="198.10" font-size="4.5" fill="#222"  text-anchor="end"   stroke="#222" stroke-width="0.08">1</text>
<line x1="292.70" y1="181.40" x2="294.20" y2="181.40" stroke="#555" stroke-width="0.6" />
<text x="292.00" y="183.00" font-size="4.5" fill="#222"  text-anchor="end"   stroke="#222" stroke-width="0.08">2</text>
<line x1="292.70" y1="166.30" x2="294.20" y2="166.30" stroke="#555" stroke-width="0.6" />
<text x="292.00" y="167.90" font-size="4.5" fill="#222"  text-anchor="end"   stroke="#222" stroke-width="0.08">3</text>
<line x1="292.70" y1="151.20" x2="294.20" y2="151.20" stroke="#555" stroke-width="0.6" />
<text x="292.00" y="152.80" font-size="4.5" fill="#222"  text-anchor="end"   stroke="#222" stroke-width="0.08">4</text>
<line x1="300.70" y1="211.90" x2="300.70" y2="213.20" stroke="#555" stroke-width="0.6" />
<text x="300.70" y="219.10" font-size="4.5" fill="#222"  text-anchor="middle"   stroke="#222" stroke-width="0.08">150</text>
<line x1="317.66" y1="211.90" x2="317.66" y2="213.20" stroke="#555" stroke-width="0.6" />
<text x="317.66" y="219.10" font-size="4.5" fill="#222"  text-anchor="middle"   stroke="#222" stroke-width="0.08">200</text>
<line x1="334.61" y1="211.90" x2="334.61" y2="213.20" stroke="#555" stroke-width="0.6" />
<text x="334.61" y="219.10" font-size="4.5" fill="#222"  text-anchor="middle"   stroke="#222" stroke-width="0.08">250</text>
<line x1="351.57" y1="211.90" x2="351.57" y2="213.20" stroke="#555" stroke-width="0.6" />
<text x="351.57" y="219.10" font-size="4.5" fill="#222"  text-anchor="middle"   stroke="#222" stroke-width="0.08">300</text>
<line x1="368.53" y1="211.90" x2="368.53" y2="213.20" stroke="#555" stroke-width="0.6" />
<text x="368.53" y="219.10" font-size="4.5" fill="#222"  text-anchor="middle"   stroke="#222" stroke-width="0.08">350</text>
<line x1="385.49" y1="211.90" x2="385.49" y2="213.20" stroke="#555" stroke-width="0.6" />
<text x="385.49" y="219.10" font-size="4.5" fill="#222"  text-anchor="middle"   stroke="#222" stroke-width="0.08">400</text>
<line x1="402.44" y1="211.90" x2="402.44" y2="213.20" stroke="#555" stroke-width="0.6" />
<text x="402.44" y="219.10" font-size="4.5" fill="#222"  text-anchor="middle"   stroke="#222" stroke-width="0.08">450</text>
<line x1="419.40" y1="211.90" x2="419.40" y2="213.20" stroke="#555" stroke-width="0.6" />
<text x="419.40" y="219.10" font-size="4.5" fill="#222"  text-anchor="middle"   stroke="#222" stroke-width="0.08">500</text>
<line x1="436.36" y1="211.90" x2="436.36" y2="213.20" stroke="#555" stroke-width="0.6" />
<text x="436.36" y="219.10" font-size="4.5" fill="#222"  text-anchor="middle"   stroke="#222" stroke-width="0.08">550</text>
<line x1="453.31" y1="211.90" x2="453.31" y2="213.20" stroke="#555" stroke-width="0.6" />
<text x="453.31" y="219.10" font-size="4.5" fill="#222"  text-anchor="middle"   stroke="#222" stroke-width="0.08">600</text>
<line x1="470.27" y1="211.90" x2="470.27" y2="213.20" stroke="#555" stroke-width="0.6" />
<text x="470.27" y="219.10" font-size="4.5" fill="#222"  text-anchor="middle"   stroke="#222" stroke-width="0.08">650</text>
<line x1="487.23" y1="211.90" x2="487.23" y2="213.20" stroke="#555" stroke-width="0.6" />
<text x="487.23" y="219.10" font-size="4.5" fill="#222"  text-anchor="middle"   stroke="#222" stroke-width="0.08">700</text>
<line x1="504.19" y1="211.90" x2="504.19" y2="213.20" stroke="#555" stroke-width="0.6" />
<text x="504.19" y="219.10" font-size="4.5" fill="#222"  text-anchor="middle"   stroke="#222" stroke-width="0.08">750</text>
<line x1="521.14" y1="211.90" x2="521.14" y2="213.20" stroke="#555" stroke-width="0.6" />
<text x="521.14" y="219.10" font-size="4.5" fill="#222"  text-anchor="middle"   stroke="#222" stroke-width="0.08">800</text>
<line x1="538.10" y1="211.90" x2="538.10" y2="213.20" stroke="#555" stroke-width="0.6" />
<text x="538.10" y="219.10" font-size="4.5" fill="#222"  text-anchor="middle"   stroke="#222" stroke-width="0.08">850</text>
<text x="378.50" y="224.30" font-size="4.5" fill="#1a1a1a"    textLength="68.50" lengthAdjust="spacingAndGlyphs" stroke="#1a1a1a" stroke-width="0.05">Counts vs. Mass-to-Charge (m/z)</text>
<text x="279.40" y="143.10" font-size="4.5" fill="#222"     stroke="#222" stroke-width="0.05">x10</text>
<text x="290.70" y="141.20" font-size="4.3" fill="#222"  text-anchor="middle"   stroke="#222" stroke-width="0.05">5</text>
<text x="296.00" y="141.70" font-size="4.7" fill="#1a1a1a"    textLength="187.60" lengthAdjust="spacingAndGlyphs" >+ESI Scan (rt: 31.675-31.711, 32.087-32.184 min, 13 scans) Frag=175.0V AF-flower-pos.d</text>
<text x="305.50" y="200.30" font-size="4.6" fill="#f08c28"     stroke="#f08c28" stroke-width="0.12">196.2313</text>
<text x="320.60" y="155.60" font-size="4.6" fill="#f08c28"     stroke="#f08c28" stroke-width="0.12">242.2293</text>
<text x="336.00" y="169.40" font-size="4.6" fill="#f08c28"     stroke="#f08c28" stroke-width="0.12">286.3031</text>
<text x="360.80" y="194.80" font-size="4.6" fill="#f08c28"     stroke="#f08c28" stroke-width="0.12">359.2288</text>
<text x="386.50" y="149.10" font-size="4.6" fill="#f08c28"     stroke="#f08c28" stroke-width="0.12">436.5612</text>
<line x1="372.00" y1="181.30" x2="368.24" y2="184.12" stroke="#1a1aff" stroke-width="1.3" />
<path d="M365.60 186.10L367.34 182.42L369.62 185.46Z" fill="#1a1aff"/>
<rect x="400.6" y="167.3" width="128.00" height="25.30" fill="#f1f1f1"/>
<rect x="400.6" y="192.6" width="128.00" height="12.60" fill="#fff"/>
<rect x="400.6" y="167.3" width="128.00" height="37.90" fill="none" stroke="#555" stroke-width="0.9"/>
<line x1="400.60" y1="192.60" x2="528.60" y2="192.60" stroke="#555" stroke-width="0.9" />
<line x1="445.10" y1="167.30" x2="445.10" y2="205.20" stroke="#555" stroke-width="0.9" />
<line x1="468.80" y1="167.30" x2="468.80" y2="205.20" stroke="#555" stroke-width="0.9" />
<text x="422.85" y="177.20" font-size="6.26" fill="#111" font-family='"Liberation Serif", serif' text-anchor="middle" font-weight="bold" textLength="30.61" lengthAdjust="spacingAndGlyphs" >MEAS. M/Z</text>
<text x="422.85" y="188.20" font-size="6.26" fill="#111" font-family='"Liberation Serif", serif' text-anchor="middle"  textLength="21.33" lengthAdjust="spacingAndGlyphs" stroke="#111" stroke-width="0.15">[M+H]<tspan font-size="3" dy="-2">+</tspan></text>
<text x="456.95" y="177.20" font-size="6.26" fill="#111" font-family='"Liberation Serif", serif' text-anchor="middle" font-weight="bold" textLength="12.25" lengthAdjust="spacingAndGlyphs" >ERR</text>
<text x="456.95" y="188.20" font-size="6.26" fill="#111" font-family='"Liberation Serif", serif' text-anchor="middle"  textLength="16.71" lengthAdjust="spacingAndGlyphs" stroke="#111" stroke-width="0.15">[PPM]</text>
<text x="498.70" y="177.20" font-size="6.26" fill="#111" font-family='"Liberation Serif", serif' text-anchor="middle" font-weight="bold" textLength="38.35" lengthAdjust="spacingAndGlyphs" >MOLECULAR</text>
<text x="498.70" y="188.20" font-size="6.26" fill="#111" font-family='"Liberation Serif", serif' text-anchor="middle" font-weight="bold" textLength="29.96" lengthAdjust="spacingAndGlyphs" >FORMULA</text>
<text x="422.85" y="201.83" font-size="6.05" fill="#2222ff" font-family='"Liberation Serif", serif' text-anchor="middle" font-weight="bold" textLength="21.00" lengthAdjust="spacingAndGlyphs" stroke="#2222ff" stroke-width="0.18">359.2288</text>
<text x="456.95" y="201.83" font-size="6.05" fill="#2222ff" font-family='"Liberation Serif", serif' text-anchor="middle" font-weight="bold" textLength="14.00" lengthAdjust="spacingAndGlyphs" stroke="#2222ff" stroke-width="0.18">– 0.55</text>
<text x="498.70" y="201.83" font-size="6.61" fill="#2222ff" font-family='"Liberation Serif", serif' text-anchor="middle" font-weight="bold" textLength="22.90" lengthAdjust="spacingAndGlyphs" stroke="#2222ff" stroke-width="0.18"><tspan >C</tspan><tspan font-size="3.63" dy="0.66">20</tspan><tspan dy="-0.66">H</tspan><tspan font-size="3.63" dy="0.66">22</tspan><tspan dy="-0.66">O</tspan><tspan font-size="3.63" dy="0.66">6</tspan></text>
<line x1="32.10" y1="246.30" x2="32.10" y2="323.40" stroke="#e4e4e4" stroke-width="0.6" />
<line x1="48.92" y1="246.30" x2="48.92" y2="323.40" stroke="#e4e4e4" stroke-width="0.6" />
<line x1="65.74" y1="246.30" x2="65.74" y2="323.40" stroke="#e4e4e4" stroke-width="0.6" />
<line x1="82.56" y1="246.30" x2="82.56" y2="323.40" stroke="#e4e4e4" stroke-width="0.6" />
<line x1="99.39" y1="246.30" x2="99.39" y2="323.40" stroke="#e4e4e4" stroke-width="0.6" />
<line x1="116.21" y1="246.30" x2="116.21" y2="323.40" stroke="#e4e4e4" stroke-width="0.6" />
<line x1="133.03" y1="246.30" x2="133.03" y2="323.40" stroke="#e4e4e4" stroke-width="0.6" />
<line x1="149.85" y1="246.30" x2="149.85" y2="323.40" stroke="#e4e4e4" stroke-width="0.6" />
<line x1="166.67" y1="246.30" x2="166.67" y2="323.40" stroke="#e4e4e4" stroke-width="0.6" />
<line x1="183.49" y1="246.30" x2="183.49" y2="323.40" stroke="#e4e4e4" stroke-width="0.6" />
<line x1="200.31" y1="246.30" x2="200.31" y2="323.40" stroke="#e4e4e4" stroke-width="0.6" />
<line x1="217.14" y1="246.30" x2="217.14" y2="323.40" stroke="#e4e4e4" stroke-width="0.6" />
<line x1="233.96" y1="246.30" x2="233.96" y2="323.40" stroke="#e4e4e4" stroke-width="0.6" />
<line x1="250.78" y1="246.30" x2="250.78" y2="323.40" stroke="#e4e4e4" stroke-width="0.6" />
<line x1="267.60" y1="246.30" x2="267.60" y2="323.40" stroke="#e4e4e4" stroke-width="0.6" />
<line x1="25.60" y1="314.75" x2="273.10" y2="314.75" stroke="#e4e4e4" stroke-width="0.6" />
<line x1="25.60" y1="306.50" x2="273.10" y2="306.50" stroke="#e4e4e4" stroke-width="0.6" />
<line x1="25.60" y1="298.25" x2="273.10" y2="298.25" stroke="#e4e4e4" stroke-width="0.6" />
<line x1="25.60" y1="290.00" x2="273.10" y2="290.00" stroke="#e4e4e4" stroke-width="0.6" />
<line x1="25.60" y1="281.75" x2="273.10" y2="281.75" stroke="#e4e4e4" stroke-width="0.6" />
<line x1="25.60" y1="273.50" x2="273.10" y2="273.50" stroke="#e4e4e4" stroke-width="0.6" />
<line x1="25.60" y1="265.25" x2="273.10" y2="265.25" stroke="#e4e4e4" stroke-width="0.6" />
<line x1="25.60" y1="257.00" x2="273.10" y2="257.00" stroke="#e4e4e4" stroke-width="0.6" />
<rect x="32.10" y="320.60" width="235.50" height="2.70" fill="#ff00ff"/>
<path d="M32.1 323.0v-2.8M32.6 323.0v-3.0M33.0 323.0v-2.9M33.5 323.0v-2.4M33.9 323.0v-3.5M34.4 323.0v-3.3M34.8 323.0v-2.7M35.3 323.0v-2.7M35.7 323.0v-2.4M36.2 323.0v-2.5M36.6 323.0v-3.0M37.1 323.0v-3.0M37.5 323.0v-2.8M38.0 323.0v-2.4M38.4 323.0v-2.5M38.9 323.0v-4.0M39.3 323.0v-2.5M39.8 323.0v-2.7M40.2 323.0v-2.5M40.7 323.0v-2.9M41.1 323.0v-3.3M41.6 323.0v-2.6M42.0 323.0v-2.5M42.5 323.0v-2.5M42.9 323.0v-2.4M43.4 323.0v-2.6M43.8 323.0v-3.1M44.3 323.0v-2.6M44.7 323.0v-5.3M45.2 323.0v-2.4M45.6 323.0v-5.1M46.1 323.0v-2.6M46.5 323.0v-2.9M47.0 323.0v-3.6M47.4 323.0v-3.0M47.9 323.0v-3.5M48.3 323.0v-2.6M48.8 323.0v-3.0M49.2 323.0v-3.0M49.7 323.0v-5.5M50.1 323.0v-2.4M50.6 323.0v-2.8M51.0 323.0v-2.6M51.5 323.0v-2.7M51.9 323.0v-2.6M52.4 323.0v-2.4M52.8 323.0v-2.9M53.3 323.0v-4.9M53.7 323.0v-2.7M54.2 323.0v-2.5M54.6 323.0v-3.1M55.1 323.0v-4.9M55.5 323.0v-2.4M56.0 323.0v-3.1M56.4 323.0v-2.9M56.9 323.0v-2.8M57.3 323.0v-2.4M57.8 323.0v-2.5M58.2 323.0v-2.5M58.7 323.0v-5.3M59.1 323.0v-3.9M59.6 323.0v-2.7M60.0 323.0v-2.7M60.5 323.0v-2.6M60.9 323.0v-2.6M61.4 323.0v-3.7M61.8 323.0v-2.7M62.3 323.0v-2.4M62.7 323.0v-3.0M63.2 323.0v-2.6M63.6 323.0v-3.0M64.1 323.0v-2.8M64.5 323.0v-2.6M65.0 323.0v-2.5M65.4 323.0v-3.0M65.9 323.0v-2.5M66.3 323.0v-2.8M66.8 323.0v-2.4M67.2 323.0v-2.5M67.7 323.0v-2.6M68.1 323.0v-2.8M68.6 323.0v-2.6M69.0 323.0v-2.9M69.5 323.0v-2.6M69.9 323.0v-3.2M70.4 323.0v-3.9M70.8 323.0v-2.7M71.3 323.0v-2.5M71.7 323.0v-3.5M72.2 323.0v-2.9M72.6 323.0v-2.9M73.1 323.0v-3.0M73.5 323.0v-2.8M74.0 323.0v-2.8M74.4 323.0v-2.8M74.9 323.0v-2.4M75.3 323.0v-2.6M75.8 323.0v-2.5M76.2 323.0v-4.0M76.7 323.0v-2.8M77.1 323.0v-2.6M77.6 323.0v-3.6M78.0 323.0v-2.6M78.5 323.0v-2.8M78.9 323.0v-4.3M79.4 323.0v-2.5M79.8 323.0v-2.4M80.3 323.0v-4.1M80.7 323.0v-2.4M81.2 323.0v-2.6M81.6 323.0v-3.7M82.1 323.0v-2.6M82.5 323.0v-2.8M83.0 323.0v-2.5M83.4 323.0v-2.7M83.9 323.0v-3.8M84.3 323.0v-2.6M84.8 323.0v-2.4M85.2 323.0v-2.7M85.7 323.0v-2.5M86.1 323.0v-3.3M86.6 323.0v-2.6M87.0 323.0v-2.5M87.5 323.0v-2.6M87.9 323.0v-3.4M88.4 323.0v-2.5M88.8 323.0v-2.7M89.3 323.0v-2.6M89.7 323.0v-2.7M90.2 323.0v-2.7M90.6 323.0v-2.8M91.1 323.0v-2.5M91.5 323.0v-4.4M92.0 323.0v-2.5M92.4 323.0v-3.0M92.9 323.0v-2.5M93.3 323.0v-4.2M93.8 323.0v-2.8M94.2 323.0v-2.8M94.7 323.0v-2.9M95.1 323.0v-3.0M95.6 323.0v-2.7M96.0 323.0v-2.5M96.5 323.0v-2.6M96.9 323.0v-2.9M97.4 323.0v-2.4M97.8 323.0v-2.6M98.3 323.0v-3.3M98.7 323.0v-2.4M99.2 323.0v-2.6M99.6 323.0v-2.9M100.1 323.0v-2.7M100.5 323.0v-2.6M101.0 323.0v-3.2M101.4 323.0v-2.5M101.9 323.0v-2.4M102.3 323.0v-2.9M102.8 323.0v-2.5M103.2 323.0v-3.4M103.7 323.0v-2.7M104.1 323.0v-2.7M104.6 323.0v-2.5M105.0 323.0v-3.1M105.5 323.0v-2.5M105.9 323.0v-3.0M106.4 323.0v-2.4M106.8 323.0v-3.9M107.3 323.0v-5.0M107.7 323.0v-2.5M108.2 323.0v-3.6M108.6 323.0v-2.5M109.1 323.0v-3.4M109.5 323.0v-2.8M110.0 323.0v-2.5M110.4 323.0v-2.4M110.9 323.0v-2.6M111.3 323.0v-2.4M111.8 323.0v-2.9M112.2 323.0v-2.5M112.7 323.0v-2.6M113.1 323.0v-2.7M113.6 323.0v-4.3M114.0 323.0v-2.5M114.5 323.0v-2.7M114.9 323.0v-2.7M115.4 323.0v-2.5M115.8 323.0v-2.5M116.3 323.0v-2.7M116.7 323.0v-2.5M117.2 323.0v-2.9M117.6 323.0v-2.9M118.1 323.0v-2.4M118.5 323.0v-2.4M119.0 323.0v-2.8M119.4 323.0v-3.2M119.9 323.0v-2.6M120.3 323.0v-2.4M120.8 323.0v-2.4M121.2 323.0v-3.6M121.7 323.0v-2.5M122.1 323.0v-3.8M122.6 323.0v-3.1M123.0 323.0v-2.8M123.5 323.0v-2.5M123.9 323.0v-2.8M124.4 323.0v-2.6M124.8 323.0v-3.1M125.3 323.0v-3.1M125.7 323.0v-3.2M126.2 323.0v-2.8M126.6 323.0v-2.9M127.1 323.0v-2.9M127.5 323.0v-2.4M128.0 323.0v-2.7M128.4 323.0v-2.4M128.9 323.0v-3.3M129.3 323.0v-2.6M129.8 323.0v-2.4M130.2 323.0v-2.5M130.7 323.0v-2.6M131.1 323.0v-2.5M131.6 323.0v-2.5M132.0 323.0v-2.5M132.5 323.0v-5.0M132.9 323.0v-2.6M133.4 323.0v-2.9M133.8 323.0v-2.7M134.3 323.0v-2.5M134.7 323.0v-2.5M135.2 323.0v-2.9M135.6 323.0v-3.1M136.1 323.0v-2.4M136.5 323.0v-3.9M137.0 323.0v-2.5M137.4 323.0v-2.5M137.9 323.0v-2.9M138.3 323.0v-2.5M138.8 323.0v-3.5M139.2 323.0v-2.6M139.7 323.0v-2.4M140.1 323.0v-3.0M140.6 323.0v-2.4M141.0 323.0v-4.2M141.5 323.0v-2.6M141.9 323.0v-2.4M142.4 323.0v-2.7M142.8 323.0v-2.4M143.3 323.0v-2.4M143.7 323.0v-2.4M144.2 323.0v-2.6M144.6 323.0v-4.8M145.1 323.0v-2.5M145.5 323.0v-2.6M146.0 323.0v-2.4M146.4 323.0v-2.4M146.9 323.0v-3.4M147.3 323.0v-3.2M147.8 323.0v-2.4M148.2 323.0v-2.7M148.7 323.0v-2.6M149.1 323.0v-2.9M149.6 323.0v-2.5M150.0 323.0v-3.1M150.5 323.0v-2.4M150.9 323.0v-2.4M151.4 323.0v-3.1M151.8 323.0v-2.5M152.2 323.0v-2.5M152.7 323.0v-2.6M153.1 323.0v-2.5M153.6 323.0v-3.4M154.0 323.0v-2.5M154.5 323.0v-2.4M154.9 323.0v-2.6M155.4 323.0v-2.7M155.8 323.0v-2.8M156.3 323.0v-2.7M156.7 323.0v-3.1M157.2 323.0v-3.6M157.6 323.0v-2.9M158.1 323.0v-3.1M158.5 323.0v-2.5M159.0 323.0v-2.5M159.4 323.0v-2.9M159.9 323.0v-2.4M160.3 323.0v-2.9M160.8 323.0v-2.5M161.2 323.0v-3.2M161.7 323.0v-2.8M162.1 323.0v-2.6M162.6 323.0v-4.0M163.0 323.0v-3.1M163.5 323.0v-2.4M163.9 323.0v-2.5M164.4 323.0v-2.6M164.8 323.0v-3.0M165.3 323.0v-2.6M165.7 323.0v-2.6M166.2 323.0v-2.6M166.6 323.0v-3.5M167.1 323.0v-3.8M167.5 323.0v-2.4M168.0 323.0v-5.0M168.4 323.0v-2.4M168.9 323.0v-2.7M169.3 323.0v-2.6M169.8 323.0v-2.5M170.2 323.0v-2.7M170.7 323.0v-3.0M171.1 323.0v-2.6M171.6 323.0v-4.0M172.0 323.0v-3.2M172.5 323.0v-2.6M172.9 323.0v-3.1M173.4 323.0v-2.4M173.8 323.0v-2.4M174.3 323.0v-3.3M174.7 323.0v-3.0M175.2 323.0v-2.9M175.6 323.0v-2.8M176.1 323.0v-3.9M176.5 323.0v-2.8M177.0 323.0v-2.6M177.4 323.0v-2.4M177.9 323.0v-2.6M178.3 323.0v-2.9M178.8 323.0v-4.0M179.2 323.0v-3.4M179.7 323.0v-2.8M180.1 323.0v-3.0M180.6 323.0v-2.8M181.0 323.0v-2.7M181.5 323.0v-2.4M181.9 323.0v-2.6M182.4 323.0v-3.0M182.8 323.0v-2.5M183.3 323.0v-2.5M183.7 323.0v-2.4M184.2 323.0v-2.8M184.6 323.0v-3.3M185.1 323.0v-3.1M185.5 323.0v-2.8M186.0 323.0v-2.7M186.4 323.0v-2.5M186.9 323.0v-2.7M187.3 323.0v-2.4M187.8 323.0v-2.5M188.2 323.0v-3.3M188.7 323.0v-2.8M189.1 323.0v-2.4M189.6 323.0v-2.7M190.0 323.0v-2.6M190.5 323.0v-2.5M190.9 323.0v-2.5M191.4 323.0v-3.3M191.8 323.0v-2.8M192.3 323.0v-2.5M192.7 323.0v-2.7M193.2 323.0v-3.2M193.6 323.0v-2.6M194.1 323.0v-2.7M194.5 323.0v-2.5M195.0 323.0v-2.8M195.4 323.0v-2.8M195.9 323.0v-2.7M196.3 323.0v-2.5M196.8 323.0v-2.8M197.2 323.0v-2.9M197.7 323.0v-2.4M198.1 323.0v-3.1M198.6 323.0v-2.6M199.0 323.0v-2.8M199.5 323.0v-2.5M199.9 323.0v-3.1M200.4 323.0v-2.4M200.8 323.0v-2.5M201.3 323.0v-2.5M201.7 323.0v-2.4M202.2 323.0v-2.9M202.6 323.0v-3.1M203.1 323.0v-3.4M203.5 323.0v-2.8M204.0 323.0v-2.4M204.4 323.0v-2.4M204.9 323.0v-2.6M205.3 323.0v-2.9M205.8 323.0v-2.4M206.2 323.0v-2.7M206.7 323.0v-2.5M207.1 323.0v-2.6M207.6 323.0v-2.7M208.0 323.0v-3.6M208.5 323.0v-3.0M208.9 323.0v-2.5M209.4 323.0v-2.7M209.8 323.0v-2.9M210.3 323.0v-2.6M210.7 323.0v-2.7M211.2 323.0v-3.0M211.6 323.0v-2.5M212.1 323.0v-3.2M212.5 323.0v-2.4M213.0 323.0v-2.5M213.4 323.0v-2.4M213.9 323.0v-2.4M214.3 323.0v-4.1M214.8 323.0v-2.6M215.2 323.0v-2.4M215.7 323.0v-5.0M216.1 323.0v-3.2M216.6 323.0v-2.6M217.0 323.0v-3.2M217.5 323.0v-3.9M217.9 323.0v-2.7M218.4 323.0v-2.5M218.8 323.0v-2.9M219.3 323.0v-2.4M219.7 323.0v-3.0M220.2 323.0v-2.8M220.6 323.0v-2.8M221.1 323.0v-4.3M221.5 323.0v-2.6M222.0 323.0v-3.1M222.4 323.0v-2.6M222.9 323.0v-3.0M223.3 323.0v-2.5M223.8 323.0v-2.6M224.2 323.0v-4.5M224.7 323.0v-2.6M225.1 323.0v-2.7M225.6 323.0v-2.8M226.0 323.0v-2.5M226.5 323.0v-2.4M226.9 323.0v-3.3M227.4 323.0v-4.5M227.8 323.0v-3.7M228.3 323.0v-2.5M228.7 323.0v-3.4M229.2 323.0v-2.4M229.6 323.0v-2.6M230.1 323.0v-3.0M230.5 323.0v-3.0M231.0 323.0v-2.7M231.4 323.0v-2.9M231.9 323.0v-2.4M232.3 323.0v-2.6M232.8 323.0v-2.7M233.2 323.0v-3.8M233.7 323.0v-2.7M234.1 323.0v-2.7M234.6 323.0v-2.5M235.0 323.0v-4.8M235.5 323.0v-2.6M235.9 323.0v-2.8M236.4 323.0v-2.4M236.8 323.0v-2.4M237.3 323.0v-3.3M237.7 323.0v-2.6M238.2 323.0v-3.4M238.6 323.0v-2.7M239.1 323.0v-3.5M239.5 323.0v-4.2M240.0 323.0v-2.5M240.4 323.0v-2.4M240.9 323.0v-2.9M241.3 323.0v-2.6M241.8 323.0v-2.5M242.2 323.0v-3.1M242.7 323.0v-2.6M243.1 323.0v-2.7M243.6 323.0v-2.9M244.0 323.0v-2.6M244.5 323.0v-3.8M244.9 323.0v-2.5M245.4 323.0v-2.9M245.8 323.0v-3.1M246.3 323.0v-2.6M246.7 323.0v-2.5M247.2 323.0v-3.2M247.6 323.0v-3.3M248.1 323.0v-4.3M248.5 323.0v-2.8M249.0 323.0v-3.1M249.4 323.0v-4.7M249.9 323.0v-2.4M250.3 323.0v-2.8M250.8 323.0v-2.5M251.2 323.0v-2.4M251.7 323.0v-2.9M252.1 323.0v-2.4M252.6 323.0v-2.8M253.0 323.0v-2.9M253.5 323.0v-2.8M253.9 323.0v-2.5M254.4 323.0v-2.5M254.8 323.0v-2.4M255.3 323.0v-2.7M255.7 323.0v-2.7M256.2 323.0v-2.5M256.6 323.0v-3.6M257.1 323.0v-2.4M257.5 323.0v-2.4M258.0 323.0v-2.8M258.4 323.0v-2.5M258.9 323.0v-2.7M259.3 323.0v-2.6M259.8 323.0v-3.4M260.2 323.0v-2.5M260.7 323.0v-2.7M261.1 323.0v-2.7M261.6 323.0v-2.6M262.0 323.0v-3.1M262.5 323.0v-2.4M262.9 323.0v-2.6M263.4 323.0v-2.5M263.8 323.0v-2.8M264.3 323.0v-2.4M264.7 323.0v-2.6M265.2 323.0v-2.8M265.6 323.0v-5.2M266.1 323.0v-2.6M266.5 323.0v-2.9M267.0 323.0v-2.6M267.4 323.0v-2.4" stroke="#ff00ff" stroke-width="0.6" fill="none"/>
<path d="M106.9 323.0V320.8M122.8 323.0V321.7M63.5 323.0V321.5M130.5 323.0V319.2M125.6 323.0V320.4M43.0 323.0V320.8M55.7 323.0V321.7M91.0 323.0V321.2M43.3 323.0V320.4M129.4 323.0V318.3M80.7 323.0V321.6M112.3 323.0V321.6M88.1 323.0V321.7M135.1 323.0V320.3M77.7 323.0V321.2M89.6 323.0V318.2M76.7 323.0V321.4M85.8 323.0V318.5M71.9 323.0V319.9M127.9 323.0V321.1M116.7 323.0V320.3M46.6 323.0V321.7M130.0 323.0V320.6M78.3 323.0V318.5M92.0 323.0V320.4M61.7 323.0V319.4M58.8 323.0V320.6M111.2 323.0V320.0M46.1 323.0V321.4M104.6 323.0V319.5M42.8 323.0V318.1M46.0 323.0V321.5M41.5 323.0V320.7M96.7 323.0V318.8M49.1 323.0V319.6M150.2 323.0V321.6M169.4 323.0V322.0M143.3 323.0V321.2M152.4 323.0V321.1M180.5 323.0V321.5M220.2 323.0V321.7M251.0 323.0V320.7M173.4 323.0V322.0M251.5 323.0V322.3M191.5 323.0V321.9M264.5 323.0V322.3M222.3 323.0V321.2M232.0 323.0V322.4M260.2 323.0V322.1M248.3 323.0V321.4M191.6 323.0V321.0M225.1 323.0V322.0M232.4 323.0V321.7M229.8 323.0V321.5M240.8 323.0V322.3M43.7 323.0V283.7M62.6 323.0V265.7M74.1 323.0V269.4M128.8 323.0V283.7M89.7 323.0V311.4M114.9 323.0V313.9M73.1 323.0V311.4M63.6 323.0V312.3M48.9 323.0V319.7M57.3 323.0V316.4M69.1 323.0V318.9M79.2 323.0V319.7M92.7 323.0V318.1M99.4 323.0V319.7M109.5 323.0V318.9M119.6 323.0V319.7M72.5 323.0V314.8M75.2 323.0V316.4M76.8 323.0V313.1M87.3 323.0V315.6M88.6 323.0V313.1M91.0 323.0V315.6M116.2 323.0V316.4M117.9 323.0V318.1M129.9 323.0V304.9M102.8 323.0V318.9M97.7 323.0V318.1M69.8 323.0V317.2M58.3 323.0V318.9M53.6 323.0V319.7" stroke="#ff00ff" stroke-width="0.75" fill="none"/>
<path d="M25.6 323.4V246.3H273.1V323.4" stroke="#6a6a6a" stroke-width="0.8" fill="none"/>
<line x1="25.60" y1="323.40" x2="273.10" y2="323.40" stroke="#555" stroke-width="0.8" />
<line x1="24.10" y1="323.00" x2="25.60" y2="323.00" stroke="#555" stroke-width="0.6" />
<text x="23.40" y="324.60" font-size="4.5" fill="#222"  text-anchor="end"   stroke="#222" stroke-width="0.08">0</text>
<line x1="24.10" y1="314.75" x2="25.60" y2="314.75" stroke="#555" stroke-width="0.6" />
<text x="23.40" y="316.35" font-size="4.5" fill="#222"  text-anchor="end"   stroke="#222" stroke-width="0.08">1</text>
<line x1="24.10" y1="306.50" x2="25.60" y2="306.50" stroke="#555" stroke-width="0.6" />
<text x="23.40" y="308.10" font-size="4.5" fill="#222"  text-anchor="end"   stroke="#222" stroke-width="0.08">2</text>
<line x1="24.10" y1="298.25" x2="25.60" y2="298.25" stroke="#555" stroke-width="0.6" />
<text x="23.40" y="299.85" font-size="4.5" fill="#222"  text-anchor="end"   stroke="#222" stroke-width="0.08">3</text>
<line x1="24.10" y1="290.00" x2="25.60" y2="290.00" stroke="#555" stroke-width="0.6" />
<text x="23.40" y="291.60" font-size="4.5" fill="#222"  text-anchor="end"   stroke="#222" stroke-width="0.08">4</text>
<line x1="24.10" y1="281.75" x2="25.60" y2="281.75" stroke="#555" stroke-width="0.6" />
<text x="23.40" y="283.35" font-size="4.5" fill="#222"  text-anchor="end"   stroke="#222" stroke-width="0.08">5</text>
<line x1="24.10" y1="273.50" x2="25.60" y2="273.50" stroke="#555" stroke-width="0.6" />
<text x="23.40" y="275.10" font-size="4.5" fill="#222"  text-anchor="end"   stroke="#222" stroke-width="0.08">6</text>
<line x1="24.10" y1="265.25" x2="25.60" y2="265.25" stroke="#555" stroke-width="0.6" />
<text x="23.40" y="266.85" font-size="4.5" fill="#222"  text-anchor="end"   stroke="#222" stroke-width="0.08">7</text>
<line x1="24.10" y1="257.00" x2="25.60" y2="257.00" stroke="#555" stroke-width="0.6" />
<line x1="32.10" y1="323.40" x2="32.10" y2="324.70" stroke="#555" stroke-width="0.6" />
<text x="32.10" y="330.70" font-size="4.5" fill="#222"  text-anchor="middle"   stroke="#222" stroke-width="0.08">150</text>
<line x1="48.92" y1="323.40" x2="48.92" y2="324.70" stroke="#555" stroke-width="0.6" />
<text x="48.92" y="330.70" font-size="4.5" fill="#222"  text-anchor="middle"   stroke="#222" stroke-width="0.08">200</text>
<line x1="65.74" y1="323.40" x2="65.74" y2="324.70" stroke="#555" stroke-width="0.6" />
<text x="65.74" y="330.70" font-size="4.5" fill="#222"  text-anchor="middle"   stroke="#222" stroke-width="0.08">250</text>
<line x1="82.56" y1="323.40" x2="82.56" y2="324.70" stroke="#555" stroke-width="0.6" />
<text x="82.56" y="330.70" font-size="4.5" fill="#222"  text-anchor="middle"   stroke="#222" stroke-width="0.08">300</text>
<line x1="99.39" y1="323.40" x2="99.39" y2="324.70" stroke="#555" stroke-width="0.6" />
<text x="99.39" y="330.70" font-size="4.5" fill="#222"  text-anchor="middle"   stroke="#222" stroke-width="0.08">350</text>
<line x1="116.21" y1="323.40" x2="116.21" y2="324.70" stroke="#555" stroke-width="0.6" />
<text x="116.21" y="330.70" font-size="4.5" fill="#222"  text-anchor="middle"   stroke="#222" stroke-width="0.08">400</text>
<line x1="133.03" y1="323.40" x2="133.03" y2="324.70" stroke="#555" stroke-width="0.6" />
<text x="133.03" y="330.70" font-size="4.5" fill="#222"  text-anchor="middle"   stroke="#222" stroke-width="0.08">450</text>
<line x1="149.85" y1="323.40" x2="149.85" y2="324.70" stroke="#555" stroke-width="0.6" />
<text x="149.85" y="330.70" font-size="4.5" fill="#222"  text-anchor="middle"   stroke="#222" stroke-width="0.08">500</text>
<line x1="166.67" y1="323.40" x2="166.67" y2="324.70" stroke="#555" stroke-width="0.6" />
<text x="166.67" y="330.70" font-size="4.5" fill="#222"  text-anchor="middle"   stroke="#222" stroke-width="0.08">550</text>
<line x1="183.49" y1="323.40" x2="183.49" y2="324.70" stroke="#555" stroke-width="0.6" />
<text x="183.49" y="330.70" font-size="4.5" fill="#222"  text-anchor="middle"   stroke="#222" stroke-width="0.08">600</text>
<line x1="200.31" y1="323.40" x2="200.31" y2="324.70" stroke="#555" stroke-width="0.6" />
<text x="200.31" y="330.70" font-size="4.5" fill="#222"  text-anchor="middle"   stroke="#222" stroke-width="0.08">650</text>
<line x1="217.14" y1="323.40" x2="217.14" y2="324.70" stroke="#555" stroke-width="0.6" />
<text x="217.14" y="330.70" font-size="4.5" fill="#222"  text-anchor="middle"   stroke="#222" stroke-width="0.08">700</text>
<line x1="233.96" y1="323.40" x2="233.96" y2="324.70" stroke="#555" stroke-width="0.6" />
<text x="233.96" y="330.70" font-size="4.5" fill="#222"  text-anchor="middle"   stroke="#222" stroke-width="0.08">750</text>
<line x1="250.78" y1="323.40" x2="250.78" y2="324.70" stroke="#555" stroke-width="0.6" />
<text x="250.78" y="330.70" font-size="4.5" fill="#222"  text-anchor="middle"   stroke="#222" stroke-width="0.08">800</text>
<line x1="267.60" y1="323.40" x2="267.60" y2="324.70" stroke="#555" stroke-width="0.6" />
<text x="267.60" y="330.70" font-size="4.5" fill="#222"  text-anchor="middle"   stroke="#222" stroke-width="0.08">850</text>
<text x="110.00" y="335.70" font-size="4.5" fill="#1a1a1a"    textLength="68.50" lengthAdjust="spacingAndGlyphs" stroke="#1a1a1a" stroke-width="0.05">Counts vs. Mass-to-Charge (m/z)</text>
<text x="11.10" y="255.50" font-size="4.5" fill="#222"     stroke="#222" stroke-width="0.05">x10</text>
<text x="22.20" y="253.90" font-size="4.3" fill="#222"  text-anchor="middle"   stroke="#222" stroke-width="0.05">5</text>
<text x="27.70" y="253.20" font-size="4.7" fill="#1a1a1a"    textLength="116.40" lengthAdjust="spacingAndGlyphs" >+ESI Scan (rt: 32.572 min) Frag=175.0V AF-flower-pos.d</text>
<text x="52.00" y="261.10" font-size="4.6" fill="#f020f0"     stroke="#f020f0" stroke-width="0.12">240.2701</text>
<text x="33.20" y="275.70" font-size="4.6" fill="#f020f0"     stroke="#f020f0" stroke-width="0.12">184.2278</text>
<text x="78.00" y="313.00" font-size="4.6" fill="#f020f0"     stroke="#f020f0" stroke-width="0.12">318.3342</text>
<text x="104.60" y="307.50" font-size="4.6" fill="#f020f0"     stroke="#f020f0" stroke-width="0.12">396.4839</text>
<text x="117.00" y="261.10" font-size="4.6" fill="#f020f0"     stroke="#f020f0" stroke-width="0.12">436.5602</text>
<line x1="54.30" y1="263.70" x2="48.93" y2="267.35" stroke="#1a1aff" stroke-width="1.3" />
<path d="M46.20 269.20L48.11 265.61L50.25 268.75Z" fill="#1a1aff"/>
<rect x="143" y="279.9" width="118.50" height="25.60" fill="#f1f1f1"/>
<rect x="143" y="305.5" width="118.50" height="12.10" fill="#fff"/>
<rect x="143" y="279.9" width="118.50" height="37.70" fill="none" stroke="#555" stroke-width="0.9"/>
<line x1="143.00" y1="305.50" x2="261.50" y2="305.50" stroke="#555" stroke-width="0.9" />
<line x1="199.00" y1="279.90" x2="199.00" y2="317.60" stroke="#555" stroke-width="0.9" />
<line x1="222.20" y1="279.90" x2="222.20" y2="317.60" stroke="#555" stroke-width="0.9" />
<text x="171.00" y="289.18" font-size="6.48" fill="#111" font-family='"Liberation Serif", serif' text-anchor="middle" font-weight="bold" textLength="25.99" lengthAdjust="spacingAndGlyphs" >Meas. m/z</text>
<text x="171.00" y="300.98" font-size="6.48" fill="#111" font-family='"Liberation Serif", serif' text-anchor="middle"  textLength="22.07" lengthAdjust="spacingAndGlyphs" stroke="#111" stroke-width="0.15">[M+H]<tspan font-size="3" dy="-2">+</tspan></text>
<text x="210.60" y="289.18" font-size="6.48" fill="#111" font-family='"Liberation Serif", serif' text-anchor="middle" font-weight="bold" textLength="9.33" lengthAdjust="spacingAndGlyphs" >Err</text>
<text x="210.60" y="300.98" font-size="6.48" fill="#111" font-family='"Liberation Serif", serif' text-anchor="middle"  textLength="15.84" lengthAdjust="spacingAndGlyphs" stroke="#111" stroke-width="0.15">[ppm]</text>
<text x="241.85" y="289.18" font-size="6.48" fill="#111" font-family='"Liberation Serif", serif' text-anchor="middle" font-weight="bold" textLength="26.32" lengthAdjust="spacingAndGlyphs" >Molecular</text>
<text x="241.85" y="300.98" font-size="6.48" fill="#111" font-family='"Liberation Serif", serif' text-anchor="middle"  textLength="20.51" lengthAdjust="spacingAndGlyphs" stroke="#111" stroke-width="0.15">formula</text>
<text x="171.00" y="314.07" font-size="6.16" fill="#2222ff" font-family='"Liberation Serif", serif' text-anchor="middle" font-weight="bold" textLength="21.38" lengthAdjust="spacingAndGlyphs" stroke="#2222ff" stroke-width="0.18">184.2278</text>
<text x="210.60" y="314.07" font-size="6.16" fill="#2222ff" font-family='"Liberation Serif", serif' text-anchor="middle" font-weight="bold" textLength="14.25" lengthAdjust="spacingAndGlyphs" stroke="#2222ff" stroke-width="0.18">– 0.50</text>
<text x="241.85" y="314.07" font-size="6.73" fill="#2222ff" font-family='"Liberation Serif", serif' text-anchor="middle" font-weight="bold" textLength="18.20" lengthAdjust="spacingAndGlyphs" stroke="#2222ff" stroke-width="0.18"><tspan >C</tspan><tspan font-size="3.70" dy="0.67">8</tspan><tspan dy="-0.67">H</tspan><tspan font-size="3.70" dy="0.67">8</tspan><tspan dy="-0.67">O</tspan><tspan font-size="3.70" dy="0.67">5</tspan></text>
<line x1="300.70" y1="246.70" x2="300.70" y2="321.30" stroke="#e4e4e4" stroke-width="0.6" />
<line x1="317.66" y1="246.70" x2="317.66" y2="321.30" stroke="#e4e4e4" stroke-width="0.6" />
<line x1="334.61" y1="246.70" x2="334.61" y2="321.30" stroke="#e4e4e4" stroke-width="0.6" />
<line x1="351.57" y1="246.70" x2="351.57" y2="321.30" stroke="#e4e4e4" stroke-width="0.6" />
<line x1="368.53" y1="246.70" x2="368.53" y2="321.30" stroke="#e4e4e4" stroke-width="0.6" />
<line x1="385.49" y1="246.70" x2="385.49" y2="321.30" stroke="#e4e4e4" stroke-width="0.6" />
<line x1="402.44" y1="246.70" x2="402.44" y2="321.30" stroke="#e4e4e4" stroke-width="0.6" />
<line x1="419.40" y1="246.70" x2="419.40" y2="321.30" stroke="#e4e4e4" stroke-width="0.6" />
<line x1="436.36" y1="246.70" x2="436.36" y2="321.30" stroke="#e4e4e4" stroke-width="0.6" />
<line x1="453.31" y1="246.70" x2="453.31" y2="321.30" stroke="#e4e4e4" stroke-width="0.6" />
<line x1="470.27" y1="246.70" x2="470.27" y2="321.30" stroke="#e4e4e4" stroke-width="0.6" />
<line x1="487.23" y1="246.70" x2="487.23" y2="321.30" stroke="#e4e4e4" stroke-width="0.6" />
<line x1="504.19" y1="246.70" x2="504.19" y2="321.30" stroke="#e4e4e4" stroke-width="0.6" />
<line x1="521.14" y1="246.70" x2="521.14" y2="321.30" stroke="#e4e4e4" stroke-width="0.6" />
<line x1="538.10" y1="246.70" x2="538.10" y2="321.30" stroke="#e4e4e4" stroke-width="0.6" />
<line x1="294.40" y1="310.55" x2="545.00" y2="310.55" stroke="#e4e4e4" stroke-width="0.6" />
<line x1="294.40" y1="299.80" x2="545.00" y2="299.80" stroke="#e4e4e4" stroke-width="0.6" />
<line x1="294.40" y1="289.05" x2="545.00" y2="289.05" stroke="#e4e4e4" stroke-width="0.6" />
<line x1="294.40" y1="278.30" x2="545.00" y2="278.30" stroke="#e4e4e4" stroke-width="0.6" />
<line x1="294.40" y1="267.55" x2="545.00" y2="267.55" stroke="#e4e4e4" stroke-width="0.6" />
<line x1="294.40" y1="256.80" x2="545.00" y2="256.80" stroke="#e4e4e4" stroke-width="0.6" />
<rect x="300.70" y="319.50" width="237.40" height="2.10" fill="#111111"/>
<path d="M300.7 321.3v-2.7M301.1 321.3v-2.2M301.6 321.3v-1.8M302.0 321.3v-2.2M302.5 321.3v-2.1M302.9 321.3v-2.0M303.4 321.3v-2.6M303.8 321.3v-2.3M304.3 321.3v-1.9M304.7 321.3v-2.8M305.2 321.3v-2.8M305.6 321.3v-2.9M306.1 321.3v-1.9M306.5 321.3v-2.8M307.0 321.3v-1.9M307.4 321.3v-2.4M307.9 321.3v-3.6M308.3 321.3v-1.9M308.8 321.3v-2.1M309.2 321.3v-3.2M309.7 321.3v-2.4M310.1 321.3v-2.8M310.6 321.3v-1.8M311.0 321.3v-2.4M311.5 321.3v-2.3M311.9 321.3v-3.1M312.4 321.3v-1.9M312.8 321.3v-2.0M313.3 321.3v-2.2M313.7 321.3v-1.9M314.2 321.3v-5.0M314.6 321.3v-1.8M315.1 321.3v-3.2M315.5 321.3v-2.0M316.0 321.3v-2.1M316.4 321.3v-8.6M316.9 321.3v-2.6M317.3 321.3v-4.2M317.8 321.3v-4.1M318.2 321.3v-2.5M318.7 321.3v-2.2M319.1 321.3v-2.8M319.6 321.3v-2.2M320.0 321.3v-2.1M320.5 321.3v-2.6M320.9 321.3v-2.2M321.4 321.3v-2.3M321.8 321.3v-2.3M322.3 321.3v-2.0M322.7 321.3v-3.4M323.2 321.3v-2.1M323.6 321.3v-2.4M324.1 321.3v-2.2M324.5 321.3v-1.9M325.0 321.3v-2.0M325.4 321.3v-2.0M325.9 321.3v-3.9M326.3 321.3v-2.1M326.8 321.3v-2.0M327.2 321.3v-2.2M327.7 321.3v-3.5M328.1 321.3v-1.8M328.6 321.3v-4.3M329.0 321.3v-1.9M329.5 321.3v-2.1M329.9 321.3v-3.0M330.4 321.3v-1.9M330.8 321.3v-2.4M331.3 321.3v-2.7M331.7 321.3v-2.2M332.2 321.3v-1.9M332.6 321.3v-1.9M333.1 321.3v-2.4M333.5 321.3v-2.4M334.0 321.3v-1.9M334.4 321.3v-2.2M334.9 321.3v-2.4M335.3 321.3v-1.9M335.8 321.3v-1.9M336.2 321.3v-3.3M336.7 321.3v-3.1M337.1 321.3v-2.5M337.6 321.3v-1.9M338.0 321.3v-3.2M338.5 321.3v-2.7M338.9 321.3v-2.0M339.4 321.3v-1.8M339.8 321.3v-4.1M340.3 321.3v-3.5M340.7 321.3v-3.0M341.2 321.3v-3.8M341.6 321.3v-3.6M342.1 321.3v-2.8M342.5 321.3v-2.8M343.0 321.3v-5.3M343.4 321.3v-2.7M343.9 321.3v-2.5M344.3 321.3v-1.8M344.8 321.3v-1.9M345.2 321.3v-2.2M345.7 321.3v-1.8M346.1 321.3v-3.9M346.6 321.3v-1.9M347.0 321.3v-1.9M347.5 321.3v-2.1M347.9 321.3v-2.0M348.4 321.3v-3.2M348.8 321.3v-1.9M349.3 321.3v-2.0M349.7 321.3v-2.7M350.2 321.3v-1.9M350.6 321.3v-2.1M351.1 321.3v-2.1M351.5 321.3v-2.3M352.0 321.3v-2.6M352.4 321.3v-2.8M352.9 321.3v-2.5M353.3 321.3v-1.9M353.8 321.3v-2.1M354.2 321.3v-1.8M354.7 321.3v-1.9M355.1 321.3v-1.9M355.6 321.3v-1.8M356.0 321.3v-2.7M356.5 321.3v-2.3M356.9 321.3v-2.0M357.4 321.3v-2.6M357.8 321.3v-1.9M358.3 321.3v-1.9M358.7 321.3v-7.2M359.2 321.3v-2.6M359.6 321.3v-2.6M360.1 321.3v-2.0M360.5 321.3v-1.9M361.0 321.3v-2.7M361.4 321.3v-1.9M361.9 321.3v-2.0M362.3 321.3v-2.6M362.8 321.3v-2.5M363.2 321.3v-2.7M363.7 321.3v-3.5M364.1 321.3v-1.9M364.6 321.3v-1.8M365.0 321.3v-3.6M365.5 321.3v-3.3M365.9 321.3v-1.8M366.4 321.3v-1.8M366.8 321.3v-1.9M367.3 321.3v-2.0M367.7 321.3v-2.1M368.2 321.3v-4.1M368.6 321.3v-2.3M369.1 321.3v-2.4M369.5 321.3v-2.0M370.0 321.3v-3.1M370.4 321.3v-2.2M370.9 321.3v-2.3M371.3 321.3v-2.8M371.8 321.3v-1.9M372.2 321.3v-2.2M372.7 321.3v-2.3M373.1 321.3v-2.8M373.6 321.3v-2.9M374.0 321.3v-1.9M374.5 321.3v-3.0M374.9 321.3v-2.0M375.4 321.3v-1.9M375.8 321.3v-3.0M376.3 321.3v-1.8M376.7 321.3v-1.9M377.2 321.3v-2.7M377.6 321.3v-1.9M378.1 321.3v-1.9M378.5 321.3v-2.9M379.0 321.3v-3.6M379.4 321.3v-2.7M379.9 321.3v-2.1M380.3 321.3v-2.9M380.8 321.3v-3.0M381.2 321.3v-2.8M381.7 321.3v-1.9M382.1 321.3v-2.4M382.6 321.3v-1.9M383.0 321.3v-1.9M383.5 321.3v-2.7M383.9 321.3v-4.1M384.4 321.3v-1.9M384.8 321.3v-1.9M385.3 321.3v-3.3M385.7 321.3v-1.9M386.2 321.3v-3.0M386.6 321.3v-2.2M387.1 321.3v-2.4M387.5 321.3v-2.8M388.0 321.3v-2.6M388.4 321.3v-2.4M388.9 321.3v-4.8M389.3 321.3v-1.8M389.8 321.3v-2.2M390.2 321.3v-2.0M390.7 321.3v-2.1M391.1 321.3v-1.9M391.6 321.3v-2.1M392.0 321.3v-1.9M392.5 321.3v-2.2M392.9 321.3v-1.8M393.4 321.3v-2.9M393.8 321.3v-5.4M394.3 321.3v-3.9M394.7 321.3v-2.2M395.2 321.3v-1.9M395.6 321.3v-2.7M396.1 321.3v-3.0M396.5 321.3v-2.0M397.0 321.3v-2.1M397.4 321.3v-3.1M397.9 321.3v-4.2M398.3 321.3v-1.8M398.8 321.3v-2.5M399.2 321.3v-1.8M399.7 321.3v-2.2M400.1 321.3v-2.0M400.6 321.3v-1.9M401.0 321.3v-4.2M401.5 321.3v-2.5M401.9 321.3v-1.9M402.4 321.3v-2.3M402.8 321.3v-3.0M403.3 321.3v-1.9M403.7 321.3v-3.3M404.2 321.3v-2.1M404.6 321.3v-2.1M405.1 321.3v-1.9M405.5 321.3v-2.3M406.0 321.3v-2.4M406.4 321.3v-2.4M406.9 321.3v-2.2M407.3 321.3v-2.9M407.8 321.3v-2.0M408.2 321.3v-2.0M408.7 321.3v-2.1M409.1 321.3v-2.3M409.6 321.3v-1.9M410.0 321.3v-2.4M410.5 321.3v-2.5M410.9 321.3v-1.8M411.4 321.3v-2.1M411.8 321.3v-1.9M412.3 321.3v-1.8M412.7 321.3v-2.0M413.2 321.3v-2.3M413.6 321.3v-2.6M414.1 321.3v-2.0M414.5 321.3v-2.6M415.0 321.3v-2.1M415.4 321.3v-2.2M415.9 321.3v-1.9M416.3 321.3v-2.4M416.8 321.3v-3.2M417.2 321.3v-2.7M417.7 321.3v-1.9M418.1 321.3v-2.2M418.6 321.3v-2.0M419.0 321.3v-1.9M419.5 321.3v-1.8M419.9 321.3v-2.0M420.4 321.3v-2.5M420.8 321.3v-2.2M421.3 321.3v-2.4M421.7 321.3v-1.9M422.2 321.3v-2.5M422.6 321.3v-2.0M423.1 321.3v-2.3M423.5 321.3v-2.3M424.0 321.3v-1.9M424.4 321.3v-2.6M424.9 321.3v-2.1M425.3 321.3v-1.9M425.8 321.3v-3.2M426.2 321.3v-2.2M426.7 321.3v-3.2M427.1 321.3v-2.1M427.6 321.3v-2.1M428.0 321.3v-2.1M428.5 321.3v-2.0M428.9 321.3v-2.2M429.4 321.3v-3.1M429.8 321.3v-2.3M430.3 321.3v-2.2M430.7 321.3v-2.2M431.2 321.3v-1.8M431.6 321.3v-2.4M432.1 321.3v-2.4M432.5 321.3v-2.9M433.0 321.3v-2.2M433.4 321.3v-2.1M433.9 321.3v-2.2M434.3 321.3v-2.3M434.8 321.3v-2.1M435.2 321.3v-2.4M435.7 321.3v-2.9M436.1 321.3v-3.9M436.6 321.3v-2.0M437.0 321.3v-2.1M437.5 321.3v-2.4M437.9 321.3v-1.9M438.4 321.3v-4.7M438.8 321.3v-1.9M439.3 321.3v-2.4M439.7 321.3v-2.2M440.2 321.3v-2.2M440.6 321.3v-5.2M441.1 321.3v-1.8M441.5 321.3v-4.1M442.0 321.3v-2.1M442.4 321.3v-2.1M442.9 321.3v-2.4M443.3 321.3v-1.9M443.8 321.3v-2.3M444.2 321.3v-1.9M444.7 321.3v-2.3M445.1 321.3v-2.5M445.6 321.3v-1.8M446.0 321.3v-3.0M446.5 321.3v-1.9M446.9 321.3v-2.5M447.4 321.3v-4.6M447.8 321.3v-2.3M448.3 321.3v-2.0M448.7 321.3v-2.1M449.2 321.3v-3.7M449.6 321.3v-2.3M450.1 321.3v-2.7M450.5 321.3v-2.2M451.0 321.3v-1.9M451.4 321.3v-2.3M451.9 321.3v-2.3M452.3 321.3v-2.1M452.8 321.3v-3.0M453.2 321.3v-3.5M453.7 321.3v-1.9M454.1 321.3v-2.0M454.6 321.3v-3.5M455.0 321.3v-1.9M455.5 321.3v-2.1M455.9 321.3v-2.4M456.4 321.3v-2.6M456.8 321.3v-2.1M457.3 321.3v-2.0M457.7 321.3v-3.9M458.2 321.3v-2.4M458.6 321.3v-2.2M459.1 321.3v-1.8M459.5 321.3v-2.3M460.0 321.3v-1.8M460.4 321.3v-2.0M460.9 321.3v-4.1M461.3 321.3v-2.1M461.8 321.3v-2.0M462.2 321.3v-3.3M462.7 321.3v-2.7M463.1 321.3v-2.4M463.6 321.3v-2.4M464.0 321.3v-4.9M464.5 321.3v-3.3M464.9 321.3v-2.4M465.4 321.3v-1.8M465.8 321.3v-1.8M466.3 321.3v-2.0M466.7 321.3v-3.0M467.2 321.3v-2.1M467.6 321.3v-5.0M468.1 321.3v-2.9M468.5 321.3v-2.2M469.0 321.3v-1.9M469.4 321.3v-2.1M469.9 321.3v-2.7M470.3 321.3v-1.9M470.8 321.3v-2.2M471.2 321.3v-4.0M471.7 321.3v-2.1M472.1 321.3v-2.0M472.6 321.3v-2.3M473.0 321.3v-2.4M473.5 321.3v-2.3M473.9 321.3v-2.0M474.4 321.3v-1.9M474.8 321.3v-2.1M475.3 321.3v-1.9M475.7 321.3v-2.0M476.2 321.3v-2.5M476.6 321.3v-1.8M477.1 321.3v-1.9M477.5 321.3v-2.6M478.0 321.3v-1.8M478.4 321.3v-2.9M478.9 321.3v-3.1M479.3 321.3v-2.5M479.8 321.3v-2.4M480.2 321.3v-4.0M480.7 321.3v-2.5M481.1 321.3v-2.0M481.6 321.3v-2.1M482.0 321.3v-2.0M482.5 321.3v-2.4M482.9 321.3v-1.9M483.4 321.3v-2.1M483.8 321.3v-1.8M484.3 321.3v-2.3M484.7 321.3v-2.3M485.2 321.3v-2.0M485.6 321.3v-2.0M486.1 321.3v-2.1M486.5 321.3v-2.1M487.0 321.3v-2.0M487.4 321.3v-1.9M487.9 321.3v-3.0M488.3 321.3v-2.0M488.8 321.3v-2.9M489.2 321.3v-3.0M489.7 321.3v-1.8M490.1 321.3v-3.5M490.6 321.3v-2.4M491.0 321.3v-4.2M491.5 321.3v-2.9M491.9 321.3v-2.0M492.4 321.3v-1.9M492.8 321.3v-2.5M493.3 321.3v-2.7M493.7 321.3v-1.8M494.2 321.3v-2.4M494.6 321.3v-3.6M495.1 321.3v-3.9M495.5 321.3v-4.0M496.0 321.3v-3.3M496.4 321.3v-2.2M496.9 321.3v-2.7M497.3 321.3v-2.6M497.8 321.3v-3.7M498.2 321.3v-1.8M498.7 321.3v-3.0M499.1 321.3v-4.5M499.6 321.3v-2.1M500.0 321.3v-2.6M500.5 321.3v-2.1M500.9 321.3v-2.0M501.4 321.3v-1.9M501.8 321.3v-2.2M502.3 321.3v-2.0M502.7 321.3v-2.0M503.2 321.3v-2.0M503.6 321.3v-1.8M504.1 321.3v-2.8M504.5 321.3v-2.1M505.0 321.3v-1.8M505.4 321.3v-2.6M505.9 321.3v-2.0M506.3 321.3v-2.0M506.8 321.3v-1.8M507.2 321.3v-2.8M507.7 321.3v-1.9M508.1 321.3v-2.3M508.6 321.3v-2.1M509.0 321.3v-2.9M509.5 321.3v-2.0M509.9 321.3v-3.0M510.4 321.3v-2.1M510.8 321.3v-2.5M511.3 321.3v-2.8M511.7 321.3v-2.6M512.2 321.3v-1.9M512.6 321.3v-1.9M513.1 321.3v-2.0M513.5 321.3v-1.8M514.0 321.3v-2.6M514.4 321.3v-6.9M514.9 321.3v-1.9M515.3 321.3v-1.8M515.8 321.3v-2.3M516.2 321.3v-2.8M516.7 321.3v-6.2M517.1 321.3v-2.9M517.6 321.3v-1.9M518.0 321.3v-1.9M518.5 321.3v-2.2M518.9 321.3v-2.0M519.4 321.3v-2.3M519.8 321.3v-2.9M520.3 321.3v-3.0M520.7 321.3v-2.1M521.2 321.3v-3.5M521.6 321.3v-2.5M522.1 321.3v-2.5M522.5 321.3v-2.6M523.0 321.3v-2.0M523.4 321.3v-3.1M523.9 321.3v-2.0M524.3 321.3v-3.0M524.8 321.3v-3.7M525.2 321.3v-1.9M525.7 321.3v-1.9M526.1 321.3v-3.1M526.6 321.3v-1.8M527.0 321.3v-2.0M527.5 321.3v-2.6M527.9 321.3v-4.8M528.4 321.3v-1.9M528.8 321.3v-2.4M529.3 321.3v-2.4M529.7 321.3v-2.9M530.2 321.3v-2.0M530.6 321.3v-2.1M531.1 321.3v-2.3M531.5 321.3v-2.0M532.0 321.3v-2.0M532.4 321.3v-2.6M532.9 321.3v-3.2M533.3 321.3v-2.0M533.8 321.3v-3.0M534.2 321.3v-6.6M534.7 321.3v-2.5M535.1 321.3v-2.4M535.6 321.3v-2.2M536.0 321.3v-2.9M536.5 321.3v-2.2M536.9 321.3v-2.1M537.4 321.3v-1.9M537.8 321.3v-1.8" stroke="#111111" stroke-width="0.6" fill="none"/>
<path d="M339.9 321.3V312.3M344.8 321.3V318.2M332.5 321.3V310.7M356.7 321.3V317.7M363.9 321.3V310.6M310.6 321.3V312.2M313.4 321.3V318.5M326.9 321.3V310.8M347.2 321.3V318.0M355.4 321.3V317.3M351.5 321.3V315.4M343.0 321.3V315.8M342.0 321.3V314.9M360.2 321.3V315.8M355.3 321.3V315.6M306.4 321.3V314.7M357.1 321.3V316.4M328.1 321.3V314.6M317.3 321.3V317.8M333.0 321.3V318.3M330.6 321.3V316.2M331.1 321.3V316.2M336.7 321.3V313.1M357.4 321.3V316.3M344.3 321.3V317.4M313.8 321.3V315.9M319.0 321.3V317.2M343.1 321.3V315.3M311.7 321.3V315.0M364.7 321.3V317.6M347.2 321.3V317.1M346.6 321.3V311.5M363.9 321.3V312.3M318.8 321.3V312.3M308.4 321.3V312.7M343.8 321.3V310.9M325.8 321.3V311.8M331.7 321.3V318.4M360.5 321.3V318.1M342.2 321.3V314.0M415.2 321.3V317.1M435.8 321.3V317.0M369.1 321.3V317.6M435.8 321.3V316.2M398.1 321.3V317.8M421.3 321.3V316.3M368.5 321.3V319.0M394.4 321.3V319.7M413.6 321.3V317.4M385.7 321.3V317.5M437.8 321.3V318.2M379.5 321.3V318.2M415.6 321.3V319.3M413.9 321.3V317.3M365.8 321.3V318.0M367.0 321.3V317.6M382.5 321.3V319.5M396.5 321.3V317.2M368.4 321.3V316.3M394.4 321.3V317.6M406.5 321.3V318.0M373.0 321.3V319.6M386.1 321.3V314.9M411.5 321.3V319.6M409.6 321.3V317.9M382.4 321.3V316.9M433.7 321.3V315.0M405.3 321.3V315.7M432.7 321.3V318.9M402.4 321.3V319.3M516.1 321.3V318.4M509.8 321.3V320.0M515.7 321.3V319.9M457.7 321.3V319.8M464.3 321.3V318.3M441.6 321.3V318.6M481.5 321.3V320.5M522.4 321.3V320.0M452.9 321.3V319.2M486.5 321.3V319.8M472.9 321.3V320.3M526.9 321.3V320.4M447.0 321.3V319.7M507.8 321.3V320.0M532.5 321.3V318.6M495.4 321.3V318.5M532.6 321.3V320.3M464.6 321.3V318.3M473.0 321.3V318.3M514.5 321.3V319.2M505.1 321.3V319.1M522.8 321.3V319.3M451.1 321.3V320.5M452.9 321.3V318.9M454.9 321.3V320.5M331.8 321.3V278.7M357.8 321.3V267.4M355.2 321.3V294.5M352.4 321.3V307.5M341.7 321.3V306.8M337.6 321.3V308.6M332.9 321.3V308.6M324.6 321.3V311.2M317.7 321.3V313.8M348.6 321.3V310.6M360.5 321.3V308.6M307.5 321.3V317.0M314.3 321.3V315.9M327.8 321.3V314.9M344.8 321.3V312.7M365.1 321.3V314.9M371.9 321.3V315.9M382.1 321.3V316.5M392.3 321.3V317.0M405.8 321.3V317.5M419.4 321.3V318.1M429.6 321.3V318.1M453.3 321.3V317.5M457.4 321.3V314.3M398.7 268.5V265.5" stroke="#111111" stroke-width="0.75" fill="none"/>
<line x1="294.40" y1="246.70" x2="294.40" y2="321.30" stroke="#555" stroke-width="0.8" />
<line x1="545.00" y1="246.70" x2="545.00" y2="321.30" stroke="#444" stroke-width="1" />
<line x1="294.40" y1="321.30" x2="545.00" y2="321.30" stroke="#555" stroke-width="0.8" />
<line x1="292.90" y1="321.30" x2="294.40" y2="321.30" stroke="#555" stroke-width="0.6" />
<text x="292.20" y="322.90" font-size="4.5" fill="#222"  text-anchor="end"   stroke="#222" stroke-width="0.08">0</text>
<line x1="292.90" y1="310.55" x2="294.40" y2="310.55" stroke="#555" stroke-width="0.6" />
<text x="292.20" y="312.15" font-size="4.5" fill="#222"  text-anchor="end"   stroke="#222" stroke-width="0.08">1</text>
<line x1="292.90" y1="299.80" x2="294.40" y2="299.80" stroke="#555" stroke-width="0.6" />
<text x="292.20" y="301.40" font-size="4.5" fill="#222"  text-anchor="end"   stroke="#222" stroke-width="0.08">2</text>
<line x1="292.90" y1="289.05" x2="294.40" y2="289.05" stroke="#555" stroke-width="0.6" />
<text x="292.20" y="290.65" font-size="4.5" fill="#222"  text-anchor="end"   stroke="#222" stroke-width="0.08">3</text>
<line x1="292.90" y1="278.30" x2="294.40" y2="278.30" stroke="#555" stroke-width="0.6" />
<text x="292.20" y="279.90" font-size="4.5" fill="#222"  text-anchor="end"   stroke="#222" stroke-width="0.08">4</text>
<line x1="292.90" y1="267.55" x2="294.40" y2="267.55" stroke="#555" stroke-width="0.6" />
<text x="292.20" y="269.15" font-size="4.5" fill="#222"  text-anchor="end"   stroke="#222" stroke-width="0.08">5</text>
<line x1="292.90" y1="256.80" x2="294.40" y2="256.80" stroke="#555" stroke-width="0.6" />
<line x1="300.70" y1="321.30" x2="300.70" y2="322.60" stroke="#555" stroke-width="0.6" />
<text x="300.70" y="329.20" font-size="4.5" fill="#222"  text-anchor="middle"   stroke="#222" stroke-width="0.08">150</text>
<line x1="317.66" y1="321.30" x2="317.66" y2="322.60" stroke="#555" stroke-width="0.6" />
<text x="317.66" y="329.20" font-size="4.5" fill="#222"  text-anchor="middle"   stroke="#222" stroke-width="0.08">200</text>
<line x1="334.61" y1="321.30" x2="334.61" y2="322.60" stroke="#555" stroke-width="0.6" />
<text x="334.61" y="329.20" font-size="4.5" fill="#222"  text-anchor="middle"   stroke="#222" stroke-width="0.08">250</text>
<line x1="351.57" y1="321.30" x2="351.57" y2="322.60" stroke="#555" stroke-width="0.6" />
<text x="351.57" y="329.20" font-size="4.5" fill="#222"  text-anchor="middle"   stroke="#222" stroke-width="0.08">300</text>
<line x1="368.53" y1="321.30" x2="368.53" y2="322.60" stroke="#555" stroke-width="0.6" />
<text x="368.53" y="329.20" font-size="4.5" fill="#222"  text-anchor="middle"   stroke="#222" stroke-width="0.08">350</text>
<line x1="385.49" y1="321.30" x2="385.49" y2="322.60" stroke="#555" stroke-width="0.6" />
<text x="385.49" y="329.20" font-size="4.5" fill="#222"  text-anchor="middle"   stroke="#222" stroke-width="0.08">400</text>
<line x1="402.44" y1="321.30" x2="402.44" y2="322.60" stroke="#555" stroke-width="0.6" />
<text x="402.44" y="329.20" font-size="4.5" fill="#222"  text-anchor="middle"   stroke="#222" stroke-width="0.08">450</text>
<line x1="419.40" y1="321.30" x2="419.40" y2="322.60" stroke="#555" stroke-width="0.6" />
<text x="419.40" y="329.20" font-size="4.5" fill="#222"  text-anchor="middle"   stroke="#222" stroke-width="0.08">500</text>
<line x1="436.36" y1="321.30" x2="436.36" y2="322.60" stroke="#555" stroke-width="0.6" />
<text x="436.36" y="329.20" font-size="4.5" fill="#222"  text-anchor="middle"   stroke="#222" stroke-width="0.08">550</text>
<line x1="453.31" y1="321.30" x2="453.31" y2="322.60" stroke="#555" stroke-width="0.6" />
<text x="453.31" y="329.20" font-size="4.5" fill="#222"  text-anchor="middle"   stroke="#222" stroke-width="0.08">600</text>
<line x1="470.27" y1="321.30" x2="470.27" y2="322.60" stroke="#555" stroke-width="0.6" />
<text x="470.27" y="329.20" font-size="4.5" fill="#222"  text-anchor="middle"   stroke="#222" stroke-width="0.08">650</text>
<line x1="487.23" y1="321.30" x2="487.23" y2="322.60" stroke="#555" stroke-width="0.6" />
<text x="487.23" y="329.20" font-size="4.5" fill="#222"  text-anchor="middle"   stroke="#222" stroke-width="0.08">700</text>
<line x1="504.19" y1="321.30" x2="504.19" y2="322.60" stroke="#555" stroke-width="0.6" />
<text x="504.19" y="329.20" font-size="4.5" fill="#222"  text-anchor="middle"   stroke="#222" stroke-width="0.08">750</text>
<line x1="521.14" y1="321.30" x2="521.14" y2="322.60" stroke="#555" stroke-width="0.6" />
<text x="521.14" y="329.20" font-size="4.5" fill="#222"  text-anchor="middle"   stroke="#222" stroke-width="0.08">800</text>
<line x1="538.10" y1="321.30" x2="538.10" y2="322.60" stroke="#555" stroke-width="0.6" />
<text x="538.10" y="329.20" font-size="4.5" fill="#222"  text-anchor="middle"   stroke="#222" stroke-width="0.08">850</text>
<text x="379.50" y="335.10" font-size="4.5" fill="#1a1a1a"    textLength="68.50" lengthAdjust="spacingAndGlyphs" stroke="#1a1a1a" stroke-width="0.05">Counts vs. Mass-to-Charge (m/z)</text>
<text x="279.40" y="255.10" font-size="4.5" fill="#222"     stroke="#222" stroke-width="0.05">x10</text>
<text x="290.70" y="252.90" font-size="4.3" fill="#222"  text-anchor="middle"   stroke="#222" stroke-width="0.05">5</text>
<text x="296.30" y="253.20" font-size="4.7" fill="#1a1a1a"    textLength="151.70" lengthAdjust="spacingAndGlyphs" >+ESI Scan (rt: 32.765-32.850 min, 8 scans) Frag=175.0V AF-flower-pos.d</text>
<text x="320.30" y="267.70" font-size="4.6" fill="#111111"     stroke="#111111" stroke-width="0.12">240.2195</text>
<text x="347.30" y="260.50" font-size="4.6" fill="#111111"     stroke="#111111" stroke-width="0.12">318.3950</text>
<text x="387.30" y="260.50" font-size="4.6" fill="#111111"     stroke="#111111" stroke-width="0.12">436.5611</text>
<line x1="377.10" y1="253.10" x2="372.38" y2="256.85" stroke="#1a1aff" stroke-width="1.3" />
<path d="M369.80 258.90L371.44 255.17L373.80 258.15Z" fill="#1a1aff"/>
<rect x="378.4" y="271.6" width="96.20" height="24.80" fill="#f1f1f1"/>
<rect x="378.4" y="296.4" width="96.20" height="12.20" fill="#fff"/>
<rect x="378.4" y="271.6" width="96.20" height="37.00" fill="none" stroke="#555" stroke-width="0.9"/>
<line x1="378.40" y1="296.40" x2="474.60" y2="296.40" stroke="#555" stroke-width="0.9" />
<line x1="412.60" y1="271.60" x2="412.60" y2="308.60" stroke="#555" stroke-width="0.9" />
<line x1="436.60" y1="271.60" x2="436.60" y2="308.60" stroke="#555" stroke-width="0.9" />
<text x="395.50" y="280.98" font-size="6.48" fill="#111" font-family='"Liberation Serif", serif' text-anchor="middle" font-weight="bold" textLength="25.99" lengthAdjust="spacingAndGlyphs" >Meas. m/z</text>
<text x="395.50" y="292.88" font-size="6.48" fill="#111" font-family='"Liberation Serif", serif' text-anchor="middle"  textLength="22.07" lengthAdjust="spacingAndGlyphs" stroke="#111" stroke-width="0.15">[M+H]<tspan font-size="3" dy="-2">+</tspan></text>
<text x="424.60" y="280.98" font-size="6.48" fill="#111" font-family='"Liberation Serif", serif' text-anchor="middle" font-weight="bold" textLength="9.33" lengthAdjust="spacingAndGlyphs" >Err</text>
<text x="424.60" y="292.88" font-size="6.48" fill="#111" font-family='"Liberation Serif", serif' text-anchor="middle"  textLength="15.84" lengthAdjust="spacingAndGlyphs" stroke="#111" stroke-width="0.15">[ppm]</text>
<text x="455.60" y="280.98" font-size="6.48" fill="#111" font-family='"Liberation Serif", serif' text-anchor="middle" font-weight="bold" textLength="26.32" lengthAdjust="spacingAndGlyphs" >Molecular</text>
<text x="455.60" y="292.88" font-size="6.48" fill="#111" font-family='"Liberation Serif", serif' text-anchor="middle"  textLength="20.51" lengthAdjust="spacingAndGlyphs" stroke="#111" stroke-width="0.15">formula</text>
<text x="395.50" y="305.63" font-size="6.05" fill="#2222ff" font-family='"Liberation Serif", serif' text-anchor="middle" font-weight="bold" textLength="21.00" lengthAdjust="spacingAndGlyphs" stroke="#2222ff" stroke-width="0.18">318.3950</text>
<text x="424.60" y="305.63" font-size="6.05" fill="#2222ff" font-family='"Liberation Serif", serif' text-anchor="middle" font-weight="bold" textLength="14.00" lengthAdjust="spacingAndGlyphs" stroke="#2222ff" stroke-width="0.18">– 1.05</text>
<text x="455.60" y="305.63" font-size="6.61" fill="#2222ff" font-family='"Liberation Serif", serif' text-anchor="middle" font-weight="bold" textLength="23.00" lengthAdjust="spacingAndGlyphs" stroke="#2222ff" stroke-width="0.18"><tspan >C</tspan><tspan font-size="3.63" dy="0.66">15</tspan><tspan dy="-0.66">H</tspan><tspan font-size="3.63" dy="0.66">10</tspan><tspan dy="-0.66">O</tspan><tspan font-size="3.63" dy="0.66">8</tspan></text>
<polygon points="217.20,34.10 223.09,37.50 223.09,44.30 217.20,47.70 211.31,44.30 211.31,37.50" fill="none" stroke="#444" stroke-width="0.55"/>
<line x1="213.18" y1="37.92" x2="216.63" y2="35.93" stroke="#444" stroke-width="0.5"/>
<line x1="221.79" y1="38.91" x2="221.79" y2="42.89" stroke="#444" stroke-width="0.5"/>
<line x1="216.63" y1="45.87" x2="213.18" y2="43.88" stroke="#444" stroke-width="0.5"/>
<line x1="211.31" y1="37.50" x2="206.20" y2="34.40" stroke="#444" stroke-width="0.55"/>
<text x="204.40" y="34.55" font-size="4.3" fill="#222" text-anchor="middle">O</text>
<line x1="202.80" y1="34.00" x2="198.30" y2="36.40" stroke="#444" stroke-width="0.55"/>
<line x1="211.31" y1="44.30" x2="206.60" y2="46.70" stroke="#444" stroke-width="0.55"/>
<text x="202.60" y="49.15" font-size="4.3" fill="#222" text-anchor="middle">HO</text>
<line x1="223.09" y1="37.50" x2="228.80" y2="33.60" stroke="#444" stroke-width="0.55"/>
<line x1="228.80" y1="33.60" x2="235.40" y2="37.00" stroke="#444" stroke-width="0.55"/>
<line x1="228.39" y1="34.40" x2="234.99" y2="37.80" stroke="#444" stroke-width="0.55"/>
<line x1="235.40" y1="37.00" x2="241.40" y2="33.60" stroke="#444" stroke-width="0.55"/>
<line x1="241.40" y1="33.60" x2="241.40" y2="28.00" stroke="#444" stroke-width="0.55"/>
<line x1="242.30" y1="33.60" x2="242.30" y2="28.00" stroke="#444" stroke-width="0.55"/>
<text x="241.40" y="28.15" font-size="4.3" fill="#222" text-anchor="middle">O</text>
<line x1="241.40" y1="33.60" x2="246.20" y2="36.00" stroke="#444" stroke-width="0.55"/>
<text x="249.20" y="38.15" font-size="4.3" fill="#222" text-anchor="middle">OH</text>
<line x1="397.30" y1="42.60" x2="404.41" y2="39.70" stroke="#444" stroke-width="0.55"/>
<line x1="404.41" y1="39.70" x2="411.52" y2="42.60" stroke="#444" stroke-width="0.55"/>
<line x1="411.52" y1="42.60" x2="418.64" y2="39.70" stroke="#444" stroke-width="0.55"/>
<line x1="418.64" y1="39.70" x2="425.75" y2="42.60" stroke="#444" stroke-width="0.55"/>
<line x1="425.75" y1="42.60" x2="432.86" y2="39.70" stroke="#444" stroke-width="0.55"/>
<line x1="432.86" y1="39.70" x2="439.97" y2="42.60" stroke="#444" stroke-width="0.55"/>
<line x1="439.97" y1="42.60" x2="447.08" y2="39.70" stroke="#444" stroke-width="0.55"/>
<line x1="440.25" y1="43.29" x2="447.37" y2="40.39" stroke="#444" stroke-width="0.55"/>
<line x1="447.08" y1="39.70" x2="454.19" y2="42.60" stroke="#444" stroke-width="0.55"/>
<line x1="454.19" y1="42.60" x2="461.31" y2="39.70" stroke="#444" stroke-width="0.55"/>
<line x1="461.31" y1="39.70" x2="468.42" y2="42.60" stroke="#444" stroke-width="0.55"/>
<line x1="468.42" y1="42.60" x2="475.53" y2="39.70" stroke="#444" stroke-width="0.55"/>
<line x1="475.53" y1="39.70" x2="482.64" y2="42.60" stroke="#444" stroke-width="0.55"/>
<line x1="482.64" y1="42.60" x2="489.75" y2="39.70" stroke="#444" stroke-width="0.55"/>
<line x1="489.75" y1="39.70" x2="496.86" y2="42.60" stroke="#444" stroke-width="0.55"/>
<line x1="496.86" y1="42.60" x2="503.98" y2="39.70" stroke="#444" stroke-width="0.55"/>
<line x1="503.98" y1="39.70" x2="511.09" y2="42.60" stroke="#444" stroke-width="0.55"/>
<line x1="511.09" y1="42.60" x2="518.20" y2="39.70" stroke="#444" stroke-width="0.55"/>
<line x1="432.86" y1="39.70" x2="432.86" y2="35.60" stroke="#444" stroke-width="0.55"/>
<text x="434.26" y="35.35" font-size="4.3" fill="#222" text-anchor="middle">OH</text>
<line x1="454.19" y1="42.60" x2="454.19" y2="46.30" stroke="#444" stroke-width="0.55"/>
<text x="455.59" y="49.95" font-size="4.3" fill="#222" text-anchor="middle">OH</text>
<line x1="461.31" y1="39.70" x2="461.31" y2="35.60" stroke="#444" stroke-width="0.55"/>
<text x="462.71" y="35.35" font-size="4.3" fill="#222" text-anchor="middle">OH</text>
<line x1="518.20" y1="39.70" x2="518.20" y2="34.90" stroke="#444" stroke-width="0.55"/>
<line x1="519.00" y1="39.70" x2="519.00" y2="34.90" stroke="#444" stroke-width="0.55"/>
<text x="518.60" y="35.05" font-size="4.3" fill="#222" text-anchor="middle">O</text>
<line x1="518.20" y1="39.70" x2="523.20" y2="42.20" stroke="#444" stroke-width="0.55"/>
<text x="527.40" y="44.35" font-size="4.3" fill="#222" text-anchor="middle">OH</text>
<polygon points="222.35,144.31 226.80,146.88 226.80,152.02 222.35,154.59 217.90,152.02 217.90,146.88" fill="none" stroke="#444" stroke-width="0.55"/>
<line x1="219.31" y1="147.19" x2="221.92" y2="145.69" stroke="#444" stroke-width="0.5"/>
<line x1="225.82" y1="147.95" x2="225.82" y2="150.95" stroke="#444" stroke-width="0.5"/>
<line x1="221.92" y1="153.21" x2="219.31" y2="151.71" stroke="#444" stroke-width="0.5"/>
<line x1="226.80" y1="146.88" x2="231.25" y2="144.31" stroke="#444" stroke-width="0.55"/>
<line x1="231.25" y1="144.31" x2="235.70" y2="146.88" stroke="#444" stroke-width="0.55"/>
<line x1="235.70" y1="146.88" x2="235.70" y2="152.02" stroke="#444" stroke-width="0.55"/>
<line x1="235.70" y1="152.02" x2="231.25" y2="154.59" stroke="#444" stroke-width="0.55"/>
<line x1="231.25" y1="154.59" x2="226.80" y2="152.02" stroke="#444" stroke-width="0.55"/>
<rect x="229.95" y="142.71" width="2.6" height="3" fill="#fff"/>
<text x="231.25" y="145.86" font-size="4.3" fill="#222" text-anchor="middle">O</text>
<polygon points="245.30,136.70 249.72,139.25 249.72,144.35 245.30,146.90 240.88,144.35 240.88,139.25" fill="none" stroke="#444" stroke-width="0.55"/>
<line x1="242.29" y1="139.56" x2="244.87" y2="138.07" stroke="#444" stroke-width="0.5"/>
<line x1="248.74" y1="140.31" x2="248.74" y2="143.29" stroke="#444" stroke-width="0.5"/>
<line x1="244.87" y1="145.53" x2="242.29" y2="144.04" stroke="#444" stroke-width="0.5"/>
<line x1="235.70" y1="146.88" x2="240.88" y2="144.35" stroke="#444" stroke-width="0.55"/>
<line x1="249.72" y1="139.25" x2="252.00" y2="137.50" stroke="#444" stroke-width="0.55"/>
<text x="254.80" y="138.55" font-size="4.3" fill="#222" text-anchor="middle">OH</text>
<line x1="249.72" y1="144.35" x2="251.80" y2="146.40" stroke="#444" stroke-width="0.55"/>
<text x="254.80" y="148.35" font-size="4.3" fill="#222" text-anchor="middle">OH</text>
<line x1="217.90" y1="146.88" x2="215.40" y2="145.00" stroke="#444" stroke-width="0.55"/>
<text x="212.20" y="145.75" font-size="4.3" fill="#222" text-anchor="middle">HO</text>
<line x1="222.35" y1="154.59" x2="222.35" y2="157.20" stroke="#444" stroke-width="0.55"/>
<text x="223.30" y="160.55" font-size="4.3" fill="#222" text-anchor="middle">OH</text>
<line x1="235.70" y1="152.02" x2="238.60" y2="153.80" stroke="#444" stroke-width="0.55"/>
<text x="242.00" y="155.95" font-size="4.3" fill="#222" text-anchor="middle">OH</text>
<polygon points="493.90,149.40 491.50,153.56 486.70,153.56 484.30,149.40 486.70,145.24 491.50,145.24" fill="none" stroke="#444" stroke-width="0.55"/>
<line x1="492.61" y1="149.81" x2="491.21" y2="152.24" stroke="#444" stroke-width="0.5"/>
<line x1="486.99" y1="152.24" x2="485.59" y2="149.81" stroke="#444" stroke-width="0.5"/>
<line x1="487.70" y1="146.16" x2="490.50" y2="146.16" stroke="#444" stroke-width="0.5"/>
<polygon points="523.30,155.80 520.90,159.96 516.10,159.96 513.70,155.80 516.10,151.64 520.90,151.64" fill="none" stroke="#444" stroke-width="0.55"/>
<line x1="522.01" y1="156.21" x2="520.61" y2="158.64" stroke="#444" stroke-width="0.5"/>
<line x1="516.39" y1="158.64" x2="514.99" y2="156.21" stroke="#444" stroke-width="0.5"/>
<line x1="517.10" y1="152.56" x2="519.90" y2="152.56" stroke="#444" stroke-width="0.5"/>
<line x1="497.40" y1="150.40" x2="501.00" y2="145.30" stroke="#444" stroke-width="0.55"/>
<line x1="501.00" y1="145.30" x2="505.60" y2="147.30" stroke="#444" stroke-width="0.55"/>
<line x1="505.60" y1="147.30" x2="505.60" y2="152.30" stroke="#444" stroke-width="0.55"/>
<line x1="505.60" y1="152.30" x2="501.20" y2="153.20" stroke="#444" stroke-width="0.55"/>
<line x1="501.20" y1="153.20" x2="497.40" y2="150.40" stroke="#444" stroke-width="0.55"/>
<line x1="501.20" y1="153.20" x2="501.20" y2="157.80" stroke="#444" stroke-width="0.55"/>
<line x1="501.20" y1="157.80" x2="505.60" y2="160.00" stroke="#444" stroke-width="0.55"/>
<line x1="505.60" y1="160.00" x2="508.60" y2="156.00" stroke="#444" stroke-width="0.55"/>
<line x1="508.60" y1="156.00" x2="505.60" y2="152.30" stroke="#444" stroke-width="0.55"/>
<line x1="493.90" y1="149.40" x2="497.40" y2="150.40" stroke="#444" stroke-width="0.55"/>
<line x1="508.60" y1="156.00" x2="513.70" y2="155.80" stroke="#444" stroke-width="0.55"/>
<rect x="499.90" y="144.00" width="2.2" height="2.6" fill="#fff"/>
<text x="501.00" y="146.45" font-size="3.2" fill="#222" text-anchor="middle">O</text>
<rect x="504.50" y="158.70" width="2.2" height="2.6" fill="#fff"/>
<text x="505.60" y="161.15" font-size="3.2" fill="#222" text-anchor="middle">O</text>
<line x1="484.30" y1="149.40" x2="482.40" y2="149.60" stroke="#444" stroke-width="0.55"/>
<text x="479.40" y="151.30" font-size="3.6" fill="#222" text-anchor="middle">HO</text>
<line x1="486.70" y1="145.24" x2="486.00" y2="140.20" stroke="#444" stroke-width="0.55"/>
<line x1="523.30" y1="155.80" x2="524.60" y2="155.80" stroke="#444" stroke-width="0.55"/>
<text x="528.00" y="157.30" font-size="3.6" fill="#222" text-anchor="middle">OH</text>
<line x1="520.90" y1="159.96" x2="521.60" y2="163.60" stroke="#444" stroke-width="0.55"/>
<polygon points="222.60,254.70 227.80,257.70 227.80,263.70 222.60,266.70 217.40,263.70 217.40,257.70" fill="none" stroke="#444" stroke-width="0.55"/>
<line x1="219.05" y1="258.07" x2="222.09" y2="256.31" stroke="#444" stroke-width="0.5"/>
<line x1="226.65" y1="258.94" x2="226.65" y2="262.45" stroke="#444" stroke-width="0.5"/>
<line x1="222.09" y1="265.09" x2="219.05" y2="263.33" stroke="#444" stroke-width="0.5"/>
<line x1="217.40" y1="257.70" x2="214.20" y2="256.00" stroke="#444" stroke-width="0.55"/>
<text x="210.30" y="256.15" font-size="4.3" fill="#222" text-anchor="middle">HO</text>
<line x1="217.40" y1="263.70" x2="214.20" y2="265.60" stroke="#444" stroke-width="0.55"/>
<text x="210.30" y="268.85" font-size="4.3" fill="#222" text-anchor="middle">HO</text>
<line x1="222.60" y1="266.70" x2="222.60" y2="271.60" stroke="#444" stroke-width="0.55"/>
<text x="224.00" y="275.55" font-size="4.3" fill="#222" text-anchor="middle">OH</text>
<line x1="227.80" y1="257.70" x2="233.60" y2="254.90" stroke="#444" stroke-width="0.55"/>
<line x1="233.60" y1="254.90" x2="233.60" y2="249.20" stroke="#444" stroke-width="0.55"/>
<line x1="234.40" y1="254.90" x2="234.40" y2="249.20" stroke="#444" stroke-width="0.55"/>
<text x="233.60" y="249.35" font-size="4.3" fill="#222" text-anchor="middle">O</text>
<line x1="233.60" y1="254.90" x2="238.00" y2="257.40" stroke="#444" stroke-width="0.55"/>
<text x="239.40" y="259.75" font-size="4.3" fill="#222" text-anchor="middle">O</text>
<line x1="240.80" y1="257.40" x2="245.40" y2="254.70" stroke="#444" stroke-width="0.55"/>
<polygon points="491.80,261.40 496.30,264.00 496.30,269.20 491.80,271.80 487.30,269.20 487.30,264.00" fill="none" stroke="#444" stroke-width="0.55"/>
<line x1="488.73" y1="264.32" x2="491.36" y2="262.80" stroke="#444" stroke-width="0.5"/>
<line x1="495.31" y1="265.08" x2="495.31" y2="268.12" stroke="#444" stroke-width="0.5"/>
<line x1="491.36" y1="270.40" x2="488.73" y2="268.88" stroke="#444" stroke-width="0.5"/>
<line x1="496.30" y1="264.00" x2="500.80" y2="261.40" stroke="#444" stroke-width="0.55"/>
<line x1="500.80" y1="261.40" x2="505.30" y2="264.00" stroke="#444" stroke-width="0.55"/>
<line x1="500.80" y1="271.80" x2="496.30" y2="269.20" stroke="#444" stroke-width="0.55"/>
<line x1="505.30" y1="264.00" x2="505.30" y2="269.20" stroke="#444" stroke-width="0.55"/>
<line x1="506.10" y1="264.00" x2="506.10" y2="269.20" stroke="#444" stroke-width="0.55"/>
<line x1="505.30" y1="269.20" x2="500.80" y2="271.80" stroke="#444" stroke-width="0.55"/>
<rect x="499.50" y="259.80" width="2.6" height="3" fill="#fff"/>
<text x="500.80" y="262.95" font-size="4.3" fill="#222" text-anchor="middle">O</text>
<polygon points="516.40,253.20 520.90,255.80 520.90,261.00 516.40,263.60 511.90,261.00 511.90,255.80" fill="none" stroke="#444" stroke-width="0.55"/>
<line x1="513.33" y1="256.12" x2="515.96" y2="254.60" stroke="#444" stroke-width="0.5"/>
<line x1="519.91" y1="256.88" x2="519.91" y2="259.92" stroke="#444" stroke-width="0.5"/>
<line x1="515.96" y1="262.20" x2="513.33" y2="260.68" stroke="#444" stroke-width="0.5"/>
<line x1="505.30" y1="264.00" x2="511.90" y2="261.00" stroke="#444" stroke-width="0.55"/>
<line x1="487.30" y1="264.00" x2="484.00" y2="261.60" stroke="#444" stroke-width="0.55"/>
<text x="480.00" y="262.65" font-size="4.3" fill="#222" text-anchor="middle">HO</text>
<line x1="491.80" y1="271.80" x2="491.80" y2="276.00" stroke="#444" stroke-width="0.55"/>
<text x="492.50" y="279.95" font-size="4.3" fill="#222" text-anchor="middle">OH</text>
<line x1="500.80" y1="271.80" x2="500.80" y2="276.00" stroke="#444" stroke-width="0.55"/>
<line x1="500.00" y1="271.80" x2="500.00" y2="276.00" stroke="#444" stroke-width="0.55"/>
<text x="500.80" y="279.75" font-size="4.3" fill="#222" text-anchor="middle">O</text>
<line x1="505.30" y1="269.20" x2="507.80" y2="271.50" stroke="#444" stroke-width="0.55"/>
<text x="511.50" y="274.25" font-size="4.3" fill="#222" text-anchor="middle">OH</text>
<line x1="516.40" y1="253.20" x2="516.40" y2="248.40" stroke="#444" stroke-width="0.55"/>
<text x="517.70" y="247.85" font-size="4.3" fill="#222" text-anchor="middle">OH</text>
<line x1="520.90" y1="255.80" x2="524.00" y2="253.50" stroke="#444" stroke-width="0.55"/>
<text x="527.60" y="253.85" font-size="4.3" fill="#222" text-anchor="middle">OH</text>
<line x1="520.90" y1="261.00" x2="524.00" y2="264.20" stroke="#444" stroke-width="0.55"/>
<text x="527.60" y="265.45" font-size="4.3" fill="#222" text-anchor="middle">OH</text>
<rect x="4.5" y="3.5" width="541.0" height="337.0" fill="none" stroke="#6e6e6e" stroke-width="1"/>
<line x1="274.50" y1="3.50" x2="274.50" y2="340.50" stroke="#6e6e6e" stroke-width="1" />
<line x1="4.50" y1="16.00" x2="545.50" y2="16.00" stroke="#6e6e6e" stroke-width="1" />
<line x1="4.50" y1="116.60" x2="545.50" y2="116.60" stroke="#6e6e6e" stroke-width="1" />
<line x1="4.50" y1="129.60" x2="545.50" y2="129.60" stroke="#6e6e6e" stroke-width="1" />
<line x1="4.50" y1="228.40" x2="545.50" y2="228.40" stroke="#6e6e6e" stroke-width="1" />
<line x1="4.50" y1="241.40" x2="545.50" y2="241.40" stroke="#6e6e6e" stroke-width="1" />
<text x="9.2" y="12.7" font-size="8.1" fill="#111" font-family='"Liberation Serif", serif' textLength="88.81" lengthAdjust="spacingAndGlyphs"><tspan font-weight="bold">1:</tspan> Peak at Rt (7.3967–7.698)</text>
<text x="278.9" y="12.7" font-size="8.1" fill="#111" font-family='"Liberation Serif", serif' textLength="92.64" lengthAdjust="spacingAndGlyphs"><tspan font-weight="bold">2:</tspan> Peak at Rt (26.417–26.744)</text>
<text x="9.2" y="126.0" font-size="8.1" fill="#111" font-family='"Liberation Serif", serif' textLength="92.64" lengthAdjust="spacingAndGlyphs"><tspan font-weight="bold">3:</tspan> Peak at Rt (31.614–31.675)</text>
<text x="278.9" y="126.0" font-size="8.1" fill="#111" font-family='"Liberation Serif", serif' textLength="92.64" lengthAdjust="spacingAndGlyphs"><tspan font-weight="bold">4:</tspan> Peak at Rt (31.765–32.087)</text>
<text x="9.2" y="237.9" font-size="8.1" fill="#111" font-family='"Liberation Serif", serif' textLength="92.64" lengthAdjust="spacingAndGlyphs"><tspan font-weight="bold">5:</tspan> Peak at Rt (32.572–32.650)</text>
<text x="278.9" y="237.9" font-size="8.1" fill="#111" font-family='"Liberation Serif", serif' textLength="92.64" lengthAdjust="spacingAndGlyphs"><tspan font-weight="bold">6:</tspan> Peak at Rt (32.765–32.850)</text>
</svg>
</body></html>
